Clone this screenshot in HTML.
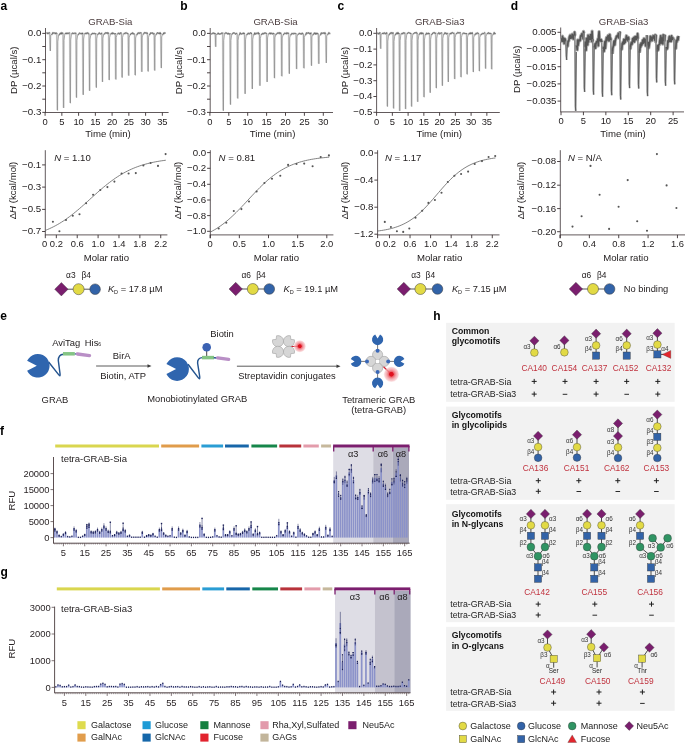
<!DOCTYPE html>
<html><head><meta charset="utf-8"><style>
html,body{margin:0;padding:0;background:#fff;}
svg{display:block;font-family:"Liberation Sans", sans-serif;will-change:transform;}
</style></head><body>
<svg width="685" height="744" viewBox="0 0 685 744">
<rect width="685" height="744" fill="#fff"/>
<line x1="45.50" y1="28.00" x2="45.50" y2="112.50" stroke="#3a3032" stroke-width="0.8" />
<line x1="45.10" y1="112.50" x2="168.60" y2="112.50" stroke="#3a3032" stroke-width="0.8" />
<line x1="42.30" y1="33.40" x2="45.50" y2="33.40" stroke="#3a3032" stroke-width="0.9" />
<text x="41.30" y="36.30" font-size="9.7" text-anchor="end" font-weight="normal" fill="#1f1b1c" font-style="normal" >0.0</text>
<line x1="42.30" y1="46.50" x2="45.50" y2="46.50" stroke="#3a3032" stroke-width="0.9" />
<line x1="42.30" y1="59.70" x2="45.50" y2="59.70" stroke="#3a3032" stroke-width="0.9" />
<text x="41.30" y="62.60" font-size="9.7" text-anchor="end" font-weight="normal" fill="#1f1b1c" font-style="normal" >−0.1</text>
<line x1="42.30" y1="72.80" x2="45.50" y2="72.80" stroke="#3a3032" stroke-width="0.9" />
<line x1="42.30" y1="86.00" x2="45.50" y2="86.00" stroke="#3a3032" stroke-width="0.9" />
<text x="41.30" y="88.90" font-size="9.7" text-anchor="end" font-weight="normal" fill="#1f1b1c" font-style="normal" >−0.2</text>
<line x1="42.30" y1="99.20" x2="45.50" y2="99.20" stroke="#3a3032" stroke-width="0.9" />
<line x1="42.30" y1="112.40" x2="45.50" y2="112.40" stroke="#3a3032" stroke-width="0.9" />
<text x="41.30" y="115.30" font-size="9.7" text-anchor="end" font-weight="normal" fill="#1f1b1c" font-style="normal" >−0.3</text>
<line x1="45.10" y1="112.50" x2="45.10" y2="115.80" stroke="#3a3032" stroke-width="0.9" />
<text x="45.10" y="124.50" font-size="9.4" text-anchor="middle" font-weight="normal" fill="#1f1b1c" font-style="normal" >0</text>
<line x1="61.85" y1="112.50" x2="61.85" y2="115.80" stroke="#3a3032" stroke-width="0.9" />
<text x="61.85" y="124.50" font-size="9.4" text-anchor="middle" font-weight="normal" fill="#1f1b1c" font-style="normal" >5</text>
<line x1="78.60" y1="112.50" x2="78.60" y2="115.80" stroke="#3a3032" stroke-width="0.9" />
<text x="78.60" y="124.50" font-size="9.4" text-anchor="middle" font-weight="normal" fill="#1f1b1c" font-style="normal" >10</text>
<line x1="95.35" y1="112.50" x2="95.35" y2="115.80" stroke="#3a3032" stroke-width="0.9" />
<text x="95.35" y="124.50" font-size="9.4" text-anchor="middle" font-weight="normal" fill="#1f1b1c" font-style="normal" >15</text>
<line x1="112.10" y1="112.50" x2="112.10" y2="115.80" stroke="#3a3032" stroke-width="0.9" />
<text x="112.10" y="124.50" font-size="9.4" text-anchor="middle" font-weight="normal" fill="#1f1b1c" font-style="normal" >20</text>
<line x1="128.85" y1="112.50" x2="128.85" y2="115.80" stroke="#3a3032" stroke-width="0.9" />
<text x="128.85" y="124.50" font-size="9.4" text-anchor="middle" font-weight="normal" fill="#1f1b1c" font-style="normal" >25</text>
<line x1="145.60" y1="112.50" x2="145.60" y2="115.80" stroke="#3a3032" stroke-width="0.9" />
<text x="145.60" y="124.50" font-size="9.4" text-anchor="middle" font-weight="normal" fill="#1f1b1c" font-style="normal" >30</text>
<line x1="162.35" y1="112.50" x2="162.35" y2="115.80" stroke="#3a3032" stroke-width="0.9" />
<text x="162.35" y="124.50" font-size="9.4" text-anchor="middle" font-weight="normal" fill="#1f1b1c" font-style="normal" >35</text>
<text x="110.30" y="25.10" font-size="9.6" text-anchor="middle" font-weight="normal" fill="#4a3c3e" font-style="normal" >GRAB-Sia</text>
<text x="108.05" y="136.80" font-size="9.6" text-anchor="middle" font-weight="normal" fill="#1f1b1c" font-style="normal" >Time (min)</text>
<text transform="translate(17.20,70.30) rotate(-90)" font-size="9.6" text-anchor="middle" fill="#1f1b1c">DP (µcal/s)</text>
<polyline points="49.30,33.41 49.70,50.70" fill="none" stroke="#cacaca" stroke-width="0.7" stroke-linejoin="round" />
<polyline points="56.40,34.07 56.80,110.10" fill="none" stroke="#cacaca" stroke-width="0.7" stroke-linejoin="round" />
<polyline points="62.60,32.83 63.00,107.70" fill="none" stroke="#cacaca" stroke-width="0.7" stroke-linejoin="round" />
<polyline points="69.30,32.74 69.70,102.90" fill="none" stroke="#cacaca" stroke-width="0.7" stroke-linejoin="round" />
<polyline points="75.50,33.84 75.90,97.40" fill="none" stroke="#cacaca" stroke-width="0.7" stroke-linejoin="round" />
<polyline points="82.20,32.83 82.60,94.60" fill="none" stroke="#cacaca" stroke-width="0.7" stroke-linejoin="round" />
<polyline points="88.60,33.51 89.00,90.60" fill="none" stroke="#cacaca" stroke-width="0.7" stroke-linejoin="round" />
<polyline points="95.30,33.36 95.70,87.40" fill="none" stroke="#cacaca" stroke-width="0.7" stroke-linejoin="round" />
<polyline points="101.50,33.23 101.90,81.70" fill="none" stroke="#cacaca" stroke-width="0.7" stroke-linejoin="round" />
<polyline points="108.20,33.02 108.60,79.80" fill="none" stroke="#cacaca" stroke-width="0.7" stroke-linejoin="round" />
<polyline points="114.80,33.07 115.20,79.20" fill="none" stroke="#cacaca" stroke-width="0.7" stroke-linejoin="round" />
<polyline points="121.10,33.00 121.50,77.30" fill="none" stroke="#cacaca" stroke-width="0.7" stroke-linejoin="round" />
<polyline points="127.70,33.69 128.10,75.40" fill="none" stroke="#cacaca" stroke-width="0.7" stroke-linejoin="round" />
<polyline points="134.20,33.85 134.60,75.00" fill="none" stroke="#cacaca" stroke-width="0.7" stroke-linejoin="round" />
<polyline points="140.80,33.16 141.20,71.60" fill="none" stroke="#cacaca" stroke-width="0.7" stroke-linejoin="round" />
<polyline points="147.10,33.57 147.50,71.20" fill="none" stroke="#cacaca" stroke-width="0.7" stroke-linejoin="round" />
<polyline points="153.70,33.38 154.10,70.30" fill="none" stroke="#cacaca" stroke-width="0.7" stroke-linejoin="round" />
<polyline points="160.30,33.44 160.70,67.80" fill="none" stroke="#cacaca" stroke-width="0.7" stroke-linejoin="round" />
<polyline points="49.90,33.41 50.30,50.70 50.50,51.00 50.75,35.14 51.50,34.81" fill="none" stroke="#858585" stroke-width="0.7" stroke-linejoin="round" />
<polyline points="57.00,34.07 57.40,110.10 57.60,110.40 57.85,41.67 58.60,35.47" fill="none" stroke="#858585" stroke-width="0.7" stroke-linejoin="round" />
<polyline points="63.20,32.83 63.60,107.70 63.80,108.00 64.05,40.31 64.80,34.23" fill="none" stroke="#858585" stroke-width="0.7" stroke-linejoin="round" />
<polyline points="69.90,32.74 70.30,102.90 70.50,103.20 70.75,39.76 71.50,34.14" fill="none" stroke="#858585" stroke-width="0.7" stroke-linejoin="round" />
<polyline points="76.10,33.84 76.50,97.40 76.70,97.70 76.95,40.20 77.70,35.24" fill="none" stroke="#858585" stroke-width="0.7" stroke-linejoin="round" />
<polyline points="82.80,32.83 83.20,94.60 83.40,94.90 83.65,39.00 84.40,34.23" fill="none" stroke="#858585" stroke-width="0.7" stroke-linejoin="round" />
<polyline points="89.20,33.51 89.60,90.60 89.80,90.90 90.05,39.22 90.80,34.91" fill="none" stroke="#858585" stroke-width="0.7" stroke-linejoin="round" />
<polyline points="95.90,33.36 96.30,87.40 96.50,87.70 96.75,38.77 97.50,34.76" fill="none" stroke="#858585" stroke-width="0.7" stroke-linejoin="round" />
<polyline points="102.10,33.23 102.50,81.70 102.70,82.00 102.95,38.08 103.70,34.63" fill="none" stroke="#858585" stroke-width="0.7" stroke-linejoin="round" />
<polyline points="108.80,33.02 109.20,79.80 109.40,80.10 109.65,37.70 110.40,34.42" fill="none" stroke="#858585" stroke-width="0.7" stroke-linejoin="round" />
<polyline points="115.40,33.07 115.80,79.20 116.00,79.50 116.25,37.68 117.00,34.47" fill="none" stroke="#858585" stroke-width="0.7" stroke-linejoin="round" />
<polyline points="121.70,33.00 122.10,77.30 122.30,77.60 122.55,37.43 123.30,34.40" fill="none" stroke="#858585" stroke-width="0.7" stroke-linejoin="round" />
<polyline points="128.30,33.69 128.70,75.40 128.90,75.70 129.15,37.86 129.90,35.09" fill="none" stroke="#858585" stroke-width="0.7" stroke-linejoin="round" />
<polyline points="134.80,33.85 135.20,75.00 135.40,75.30 135.65,37.96 136.40,35.25" fill="none" stroke="#858585" stroke-width="0.7" stroke-linejoin="round" />
<polyline points="141.40,33.16 141.80,71.60 142.00,71.90 142.25,37.00 143.00,34.56" fill="none" stroke="#858585" stroke-width="0.7" stroke-linejoin="round" />
<polyline points="147.70,33.57 148.10,71.20 148.30,71.50 148.55,37.33 149.30,34.97" fill="none" stroke="#858585" stroke-width="0.7" stroke-linejoin="round" />
<polyline points="154.30,33.38 154.70,70.30 154.90,70.60 155.15,37.07 155.90,34.78" fill="none" stroke="#858585" stroke-width="0.7" stroke-linejoin="round" />
<polyline points="160.90,33.44 161.30,67.80 161.50,68.10 161.75,36.88 162.50,34.84" fill="none" stroke="#858585" stroke-width="0.7" stroke-linejoin="round" />
<polyline points="46.50,33.14 47.00,32.88 47.50,33.63 48.00,32.76 48.50,33.45 49.00,33.20 49.50,32.74 49.80,33.41" fill="none" stroke="#bcbcbc" stroke-width="1.8" stroke-linejoin="round" />
<polyline points="51.50,34.81 52.30,33.91 52.80,32.71 53.30,33.30 53.80,32.75 54.30,32.79 54.80,33.29 55.30,33.89 55.80,32.84 56.30,32.98 56.80,33.59 56.90,34.07" fill="none" stroke="#bcbcbc" stroke-width="1.8" stroke-linejoin="round" />
<polyline points="58.60,35.47 59.40,34.57 59.90,33.52 60.40,33.25 60.90,34.11 61.40,32.72 61.90,33.94 62.40,33.08 62.90,32.87 63.10,32.83" fill="none" stroke="#bcbcbc" stroke-width="1.8" stroke-linejoin="round" />
<polyline points="64.80,34.23 65.60,33.33 66.10,33.11 66.60,33.87 67.10,32.92 67.60,33.52 68.10,33.61 68.60,33.21 69.10,33.47 69.60,32.74 69.80,32.74" fill="none" stroke="#bcbcbc" stroke-width="1.8" stroke-linejoin="round" />
<polyline points="71.50,34.14 72.30,33.24 72.80,32.96 73.30,33.67 73.80,33.29 74.30,33.12 74.80,33.53 75.30,33.33 75.80,33.10 76.00,33.84" fill="none" stroke="#bcbcbc" stroke-width="1.8" stroke-linejoin="round" />
<polyline points="77.70,35.24 78.50,34.34 79.00,33.70 79.50,33.02 80.00,33.51 80.50,33.44 81.00,33.96 81.50,33.74 82.00,33.08 82.50,34.12 82.70,32.83" fill="none" stroke="#bcbcbc" stroke-width="1.8" stroke-linejoin="round" />
<polyline points="84.40,34.23 85.20,33.33 85.70,33.28 86.20,33.79 86.70,32.88 87.20,33.38 87.70,32.71 88.20,33.65 88.70,33.80 89.10,33.51" fill="none" stroke="#bcbcbc" stroke-width="1.8" stroke-linejoin="round" />
<polyline points="90.80,34.91 91.60,34.01 92.10,33.96 92.60,33.12 93.10,33.69 93.60,33.54 94.10,33.52 94.60,33.33 95.10,33.91 95.60,34.07 95.80,33.36" fill="none" stroke="#bcbcbc" stroke-width="1.8" stroke-linejoin="round" />
<polyline points="97.50,34.76 98.30,33.86 98.80,33.65 99.30,32.74 99.80,33.70 100.30,33.62 100.80,34.14 101.30,33.88 101.80,33.08 102.00,33.23" fill="none" stroke="#bcbcbc" stroke-width="1.8" stroke-linejoin="round" />
<polyline points="103.70,34.63 104.50,33.73 105.00,33.65 105.50,32.68 106.00,33.34 106.50,32.90 107.00,32.83 107.50,32.74 108.00,33.80 108.50,32.84 108.70,33.02" fill="none" stroke="#bcbcbc" stroke-width="1.8" stroke-linejoin="round" />
<polyline points="110.40,34.42 111.20,33.52 111.70,33.24 112.20,33.96 112.70,32.77 113.20,33.32 113.70,33.47 114.20,33.98 114.70,33.88 115.20,33.95 115.30,33.07" fill="none" stroke="#bcbcbc" stroke-width="1.8" stroke-linejoin="round" />
<polyline points="117.00,34.47 117.80,33.57 118.30,33.27 118.80,33.19 119.30,33.98 119.80,34.09 120.30,32.88 120.80,32.91 121.30,33.00 121.60,33.00" fill="none" stroke="#bcbcbc" stroke-width="1.8" stroke-linejoin="round" />
<polyline points="123.30,34.40 124.10,33.50 124.60,33.38 125.10,33.53 125.60,33.04 126.10,32.66 126.60,33.28 127.10,33.20 127.60,33.50 128.10,34.08 128.20,33.69" fill="none" stroke="#bcbcbc" stroke-width="1.8" stroke-linejoin="round" />
<polyline points="129.90,35.09 130.70,34.19 131.20,33.42 131.70,33.58 132.20,33.66 132.70,32.73 133.20,34.00 133.70,33.82 134.20,33.96 134.70,33.85" fill="none" stroke="#bcbcbc" stroke-width="1.8" stroke-linejoin="round" />
<polyline points="136.40,35.25 137.20,34.35 137.70,33.24 138.20,33.25 138.70,32.81 139.20,33.60 139.70,32.74 140.20,32.75 140.70,32.96 141.20,32.89 141.30,33.16" fill="none" stroke="#bcbcbc" stroke-width="1.8" stroke-linejoin="round" />
<polyline points="143.00,34.56 143.80,33.66 144.30,32.73 144.80,32.65 145.30,32.88 145.80,32.80 146.30,33.20 146.80,32.69 147.30,33.96 147.60,33.57" fill="none" stroke="#bcbcbc" stroke-width="1.8" stroke-linejoin="round" />
<polyline points="149.30,34.97 150.10,34.07 150.60,32.87 151.10,33.03 151.60,33.17 152.10,33.20 152.60,32.83 153.10,33.92 153.60,34.14 154.10,33.35 154.20,33.38" fill="none" stroke="#bcbcbc" stroke-width="1.8" stroke-linejoin="round" />
<polyline points="155.90,34.78 156.70,33.88 157.20,32.78 157.70,32.80 158.20,33.16 158.70,33.05 159.20,33.89 159.70,32.89 160.20,32.68 160.70,34.08 160.80,33.44" fill="none" stroke="#bcbcbc" stroke-width="1.8" stroke-linejoin="round" />
<polyline points="162.50,34.84 163.30,33.94 163.80,32.87 164.30,33.46 164.80,32.69 165.30,33.44" fill="none" stroke="#bcbcbc" stroke-width="1.8" stroke-linejoin="round" />
<polyline points="46.50,33.14 47.00,32.88 47.50,33.63 48.00,32.76 48.50,33.45 49.00,33.20 49.50,32.74 49.80,33.41" fill="none" stroke="#5e5e5e" stroke-width="0.85" stroke-linejoin="round" />
<polyline points="51.50,34.81 52.30,33.91 52.80,32.71 53.30,33.30 53.80,32.75 54.30,32.79 54.80,33.29 55.30,33.89 55.80,32.84 56.30,32.98 56.80,33.59 56.90,34.07" fill="none" stroke="#5e5e5e" stroke-width="0.85" stroke-linejoin="round" />
<polyline points="58.60,35.47 59.40,34.57 59.90,33.52 60.40,33.25 60.90,34.11 61.40,32.72 61.90,33.94 62.40,33.08 62.90,32.87 63.10,32.83" fill="none" stroke="#5e5e5e" stroke-width="0.85" stroke-linejoin="round" />
<polyline points="64.80,34.23 65.60,33.33 66.10,33.11 66.60,33.87 67.10,32.92 67.60,33.52 68.10,33.61 68.60,33.21 69.10,33.47 69.60,32.74 69.80,32.74" fill="none" stroke="#5e5e5e" stroke-width="0.85" stroke-linejoin="round" />
<polyline points="71.50,34.14 72.30,33.24 72.80,32.96 73.30,33.67 73.80,33.29 74.30,33.12 74.80,33.53 75.30,33.33 75.80,33.10 76.00,33.84" fill="none" stroke="#5e5e5e" stroke-width="0.85" stroke-linejoin="round" />
<polyline points="77.70,35.24 78.50,34.34 79.00,33.70 79.50,33.02 80.00,33.51 80.50,33.44 81.00,33.96 81.50,33.74 82.00,33.08 82.50,34.12 82.70,32.83" fill="none" stroke="#5e5e5e" stroke-width="0.85" stroke-linejoin="round" />
<polyline points="84.40,34.23 85.20,33.33 85.70,33.28 86.20,33.79 86.70,32.88 87.20,33.38 87.70,32.71 88.20,33.65 88.70,33.80 89.10,33.51" fill="none" stroke="#5e5e5e" stroke-width="0.85" stroke-linejoin="round" />
<polyline points="90.80,34.91 91.60,34.01 92.10,33.96 92.60,33.12 93.10,33.69 93.60,33.54 94.10,33.52 94.60,33.33 95.10,33.91 95.60,34.07 95.80,33.36" fill="none" stroke="#5e5e5e" stroke-width="0.85" stroke-linejoin="round" />
<polyline points="97.50,34.76 98.30,33.86 98.80,33.65 99.30,32.74 99.80,33.70 100.30,33.62 100.80,34.14 101.30,33.88 101.80,33.08 102.00,33.23" fill="none" stroke="#5e5e5e" stroke-width="0.85" stroke-linejoin="round" />
<polyline points="103.70,34.63 104.50,33.73 105.00,33.65 105.50,32.68 106.00,33.34 106.50,32.90 107.00,32.83 107.50,32.74 108.00,33.80 108.50,32.84 108.70,33.02" fill="none" stroke="#5e5e5e" stroke-width="0.85" stroke-linejoin="round" />
<polyline points="110.40,34.42 111.20,33.52 111.70,33.24 112.20,33.96 112.70,32.77 113.20,33.32 113.70,33.47 114.20,33.98 114.70,33.88 115.20,33.95 115.30,33.07" fill="none" stroke="#5e5e5e" stroke-width="0.85" stroke-linejoin="round" />
<polyline points="117.00,34.47 117.80,33.57 118.30,33.27 118.80,33.19 119.30,33.98 119.80,34.09 120.30,32.88 120.80,32.91 121.30,33.00 121.60,33.00" fill="none" stroke="#5e5e5e" stroke-width="0.85" stroke-linejoin="round" />
<polyline points="123.30,34.40 124.10,33.50 124.60,33.38 125.10,33.53 125.60,33.04 126.10,32.66 126.60,33.28 127.10,33.20 127.60,33.50 128.10,34.08 128.20,33.69" fill="none" stroke="#5e5e5e" stroke-width="0.85" stroke-linejoin="round" />
<polyline points="129.90,35.09 130.70,34.19 131.20,33.42 131.70,33.58 132.20,33.66 132.70,32.73 133.20,34.00 133.70,33.82 134.20,33.96 134.70,33.85" fill="none" stroke="#5e5e5e" stroke-width="0.85" stroke-linejoin="round" />
<polyline points="136.40,35.25 137.20,34.35 137.70,33.24 138.20,33.25 138.70,32.81 139.20,33.60 139.70,32.74 140.20,32.75 140.70,32.96 141.20,32.89 141.30,33.16" fill="none" stroke="#5e5e5e" stroke-width="0.85" stroke-linejoin="round" />
<polyline points="143.00,34.56 143.80,33.66 144.30,32.73 144.80,32.65 145.30,32.88 145.80,32.80 146.30,33.20 146.80,32.69 147.30,33.96 147.60,33.57" fill="none" stroke="#5e5e5e" stroke-width="0.85" stroke-linejoin="round" />
<polyline points="149.30,34.97 150.10,34.07 150.60,32.87 151.10,33.03 151.60,33.17 152.10,33.20 152.60,32.83 153.10,33.92 153.60,34.14 154.10,33.35 154.20,33.38" fill="none" stroke="#5e5e5e" stroke-width="0.85" stroke-linejoin="round" />
<polyline points="155.90,34.78 156.70,33.88 157.20,32.78 157.70,32.80 158.20,33.16 158.70,33.05 159.20,33.89 159.70,32.89 160.20,32.68 160.70,34.08 160.80,33.44" fill="none" stroke="#5e5e5e" stroke-width="0.85" stroke-linejoin="round" />
<polyline points="162.50,34.84 163.30,33.94 163.80,32.87 164.30,33.46 164.80,32.69 165.30,33.44" fill="none" stroke="#5e5e5e" stroke-width="0.85" stroke-linejoin="round" />
<line x1="210.20" y1="28.00" x2="210.20" y2="112.50" stroke="#3a3032" stroke-width="0.8" />
<line x1="209.80" y1="112.50" x2="333.00" y2="112.50" stroke="#3a3032" stroke-width="0.8" />
<line x1="207.00" y1="33.40" x2="210.20" y2="33.40" stroke="#3a3032" stroke-width="0.9" />
<text x="206.00" y="36.30" font-size="9.7" text-anchor="end" font-weight="normal" fill="#1f1b1c" font-style="normal" >0.0</text>
<line x1="207.00" y1="46.50" x2="210.20" y2="46.50" stroke="#3a3032" stroke-width="0.9" />
<line x1="207.00" y1="59.70" x2="210.20" y2="59.70" stroke="#3a3032" stroke-width="0.9" />
<text x="206.00" y="62.60" font-size="9.7" text-anchor="end" font-weight="normal" fill="#1f1b1c" font-style="normal" >−0.1</text>
<line x1="207.00" y1="72.80" x2="210.20" y2="72.80" stroke="#3a3032" stroke-width="0.9" />
<line x1="207.00" y1="86.00" x2="210.20" y2="86.00" stroke="#3a3032" stroke-width="0.9" />
<text x="206.00" y="88.90" font-size="9.7" text-anchor="end" font-weight="normal" fill="#1f1b1c" font-style="normal" >−0.2</text>
<line x1="207.00" y1="99.20" x2="210.20" y2="99.20" stroke="#3a3032" stroke-width="0.9" />
<line x1="207.00" y1="112.40" x2="210.20" y2="112.40" stroke="#3a3032" stroke-width="0.9" />
<text x="206.00" y="115.30" font-size="9.7" text-anchor="end" font-weight="normal" fill="#1f1b1c" font-style="normal" >−0.3</text>
<line x1="209.90" y1="112.50" x2="209.90" y2="115.80" stroke="#3a3032" stroke-width="0.9" />
<text x="209.90" y="124.50" font-size="9.4" text-anchor="middle" font-weight="normal" fill="#1f1b1c" font-style="normal" >0</text>
<line x1="228.80" y1="112.50" x2="228.80" y2="115.80" stroke="#3a3032" stroke-width="0.9" />
<text x="228.80" y="124.50" font-size="9.4" text-anchor="middle" font-weight="normal" fill="#1f1b1c" font-style="normal" >5</text>
<line x1="247.70" y1="112.50" x2="247.70" y2="115.80" stroke="#3a3032" stroke-width="0.9" />
<text x="247.70" y="124.50" font-size="9.4" text-anchor="middle" font-weight="normal" fill="#1f1b1c" font-style="normal" >10</text>
<line x1="266.60" y1="112.50" x2="266.60" y2="115.80" stroke="#3a3032" stroke-width="0.9" />
<text x="266.60" y="124.50" font-size="9.4" text-anchor="middle" font-weight="normal" fill="#1f1b1c" font-style="normal" >15</text>
<line x1="285.50" y1="112.50" x2="285.50" y2="115.80" stroke="#3a3032" stroke-width="0.9" />
<text x="285.50" y="124.50" font-size="9.4" text-anchor="middle" font-weight="normal" fill="#1f1b1c" font-style="normal" >20</text>
<line x1="304.40" y1="112.50" x2="304.40" y2="115.80" stroke="#3a3032" stroke-width="0.9" />
<text x="304.40" y="124.50" font-size="9.4" text-anchor="middle" font-weight="normal" fill="#1f1b1c" font-style="normal" >25</text>
<line x1="323.30" y1="112.50" x2="323.30" y2="115.80" stroke="#3a3032" stroke-width="0.9" />
<text x="323.30" y="124.50" font-size="9.4" text-anchor="middle" font-weight="normal" fill="#1f1b1c" font-style="normal" >30</text>
<text x="275.50" y="25.10" font-size="9.6" text-anchor="middle" font-weight="normal" fill="#4a3c3e" font-style="normal" >GRAB-Sia</text>
<text x="272.60" y="136.80" font-size="9.6" text-anchor="middle" font-weight="normal" fill="#1f1b1c" font-style="normal" >Time (min)</text>
<text transform="translate(182.00,70.50) rotate(-90)" font-size="9.6" text-anchor="middle" fill="#1f1b1c">DP (µcal/s)</text>
<polyline points="214.70,33.14 215.10,46.60" fill="none" stroke="#cacaca" stroke-width="0.7" stroke-linejoin="round" />
<polyline points="222.30,32.69 222.70,110.50" fill="none" stroke="#cacaca" stroke-width="0.7" stroke-linejoin="round" />
<polyline points="229.50,33.20 229.90,104.40" fill="none" stroke="#cacaca" stroke-width="0.7" stroke-linejoin="round" />
<polyline points="236.70,33.85 237.10,98.20" fill="none" stroke="#cacaca" stroke-width="0.7" stroke-linejoin="round" />
<polyline points="244.10,33.85 244.50,93.60" fill="none" stroke="#cacaca" stroke-width="0.7" stroke-linejoin="round" />
<polyline points="251.30,33.86 251.70,88.70" fill="none" stroke="#cacaca" stroke-width="0.7" stroke-linejoin="round" />
<polyline points="258.90,33.44 259.30,85.50" fill="none" stroke="#cacaca" stroke-width="0.7" stroke-linejoin="round" />
<polyline points="266.10,33.04 266.50,81.70" fill="none" stroke="#cacaca" stroke-width="0.7" stroke-linejoin="round" />
<polyline points="273.50,33.40 273.90,77.90" fill="none" stroke="#cacaca" stroke-width="0.7" stroke-linejoin="round" />
<polyline points="280.80,33.74 281.20,76.00" fill="none" stroke="#cacaca" stroke-width="0.7" stroke-linejoin="round" />
<polyline points="288.30,33.81 288.70,73.50" fill="none" stroke="#cacaca" stroke-width="0.7" stroke-linejoin="round" />
<polyline points="295.60,33.33 296.00,68.80" fill="none" stroke="#cacaca" stroke-width="0.7" stroke-linejoin="round" />
<polyline points="302.90,33.91 303.30,68.00" fill="none" stroke="#cacaca" stroke-width="0.7" stroke-linejoin="round" />
<polyline points="310.50,33.72 310.90,65.50" fill="none" stroke="#cacaca" stroke-width="0.7" stroke-linejoin="round" />
<polyline points="317.80,33.90 318.20,63.60" fill="none" stroke="#cacaca" stroke-width="0.7" stroke-linejoin="round" />
<polyline points="325.30,33.31 325.70,62.70" fill="none" stroke="#cacaca" stroke-width="0.7" stroke-linejoin="round" />
<polyline points="215.30,33.14 215.70,46.60 215.90,46.90 216.15,34.49 216.90,34.54" fill="none" stroke="#858585" stroke-width="0.7" stroke-linejoin="round" />
<polyline points="222.90,32.69 223.30,110.50 223.50,110.80 223.75,40.47 224.50,34.09" fill="none" stroke="#858585" stroke-width="0.7" stroke-linejoin="round" />
<polyline points="230.10,33.20 230.50,104.40 230.70,104.70 230.95,40.32 231.70,34.60" fill="none" stroke="#858585" stroke-width="0.7" stroke-linejoin="round" />
<polyline points="237.30,33.85 237.70,98.20 237.90,98.50 238.15,40.28 238.90,35.25" fill="none" stroke="#858585" stroke-width="0.7" stroke-linejoin="round" />
<polyline points="244.70,33.85 245.10,93.60 245.30,93.90 245.55,39.83 246.30,35.25" fill="none" stroke="#858585" stroke-width="0.7" stroke-linejoin="round" />
<polyline points="251.90,33.86 252.30,88.70 252.50,89.00 252.75,39.34 253.50,35.26" fill="none" stroke="#858585" stroke-width="0.7" stroke-linejoin="round" />
<polyline points="259.50,33.44 259.90,85.50 260.10,85.80 260.35,38.65 261.10,34.84" fill="none" stroke="#858585" stroke-width="0.7" stroke-linejoin="round" />
<polyline points="266.70,33.04 267.10,81.70 267.30,82.00 267.55,37.91 268.30,34.44" fill="none" stroke="#858585" stroke-width="0.7" stroke-linejoin="round" />
<polyline points="274.10,33.40 274.50,77.90 274.70,78.20 274.95,37.85 275.70,34.80" fill="none" stroke="#858585" stroke-width="0.7" stroke-linejoin="round" />
<polyline points="281.40,33.74 281.80,76.00 282.00,76.30 282.25,37.96 283.00,35.14" fill="none" stroke="#858585" stroke-width="0.7" stroke-linejoin="round" />
<polyline points="288.90,33.81 289.30,73.50 289.50,73.80 289.75,37.78 290.50,35.21" fill="none" stroke="#858585" stroke-width="0.7" stroke-linejoin="round" />
<polyline points="296.20,33.33 296.60,68.80 296.80,69.10 297.05,36.88 297.80,34.73" fill="none" stroke="#858585" stroke-width="0.7" stroke-linejoin="round" />
<polyline points="303.50,33.91 303.90,68.00 304.10,68.30 304.35,37.32 305.10,35.31" fill="none" stroke="#858585" stroke-width="0.7" stroke-linejoin="round" />
<polyline points="311.10,33.72 311.50,65.50 311.70,65.80 311.95,36.90 312.70,35.12" fill="none" stroke="#858585" stroke-width="0.7" stroke-linejoin="round" />
<polyline points="318.40,33.90 318.80,63.60 319.00,63.90 319.25,36.87 320.00,35.30" fill="none" stroke="#858585" stroke-width="0.7" stroke-linejoin="round" />
<polyline points="325.90,33.31 326.30,62.70 326.50,63.00 326.75,36.25 327.50,34.71" fill="none" stroke="#858585" stroke-width="0.7" stroke-linejoin="round" />
<polyline points="211.20,34.12 211.70,33.94 212.20,33.69 212.70,33.04 213.20,33.20 213.70,32.90 214.20,33.81 214.70,33.45 215.20,33.82 215.20,33.14" fill="none" stroke="#bcbcbc" stroke-width="1.8" stroke-linejoin="round" />
<polyline points="216.90,34.54 217.70,33.64 218.20,32.98 218.70,33.87 219.20,34.13 219.70,33.93 220.20,33.86 220.70,33.88 221.20,33.76 221.70,32.99 222.20,33.43 222.70,33.18 222.80,32.69" fill="none" stroke="#bcbcbc" stroke-width="1.8" stroke-linejoin="round" />
<polyline points="224.50,34.09 225.30,33.19 225.80,32.69 226.30,33.07 226.80,33.04 227.30,33.69 227.80,34.08 228.30,33.32 228.80,34.06 229.30,34.13 229.80,34.08 230.00,33.20" fill="none" stroke="#bcbcbc" stroke-width="1.8" stroke-linejoin="round" />
<polyline points="231.70,34.60 232.50,33.70 233.00,32.98 233.50,32.99 234.00,32.95 234.50,32.96 235.00,33.59 235.50,34.00 236.00,33.91 236.50,33.37 237.00,33.63 237.20,33.85" fill="none" stroke="#bcbcbc" stroke-width="1.8" stroke-linejoin="round" />
<polyline points="238.90,35.25 239.70,34.35 240.20,32.78 240.70,33.64 241.20,34.01 241.70,33.82 242.20,33.78 242.70,33.37 243.20,32.92 243.70,33.83 244.20,33.15 244.60,33.85" fill="none" stroke="#bcbcbc" stroke-width="1.8" stroke-linejoin="round" />
<polyline points="246.30,35.25 247.10,34.35 247.60,34.11 248.10,33.24 248.60,33.25 249.10,34.07 249.60,33.74 250.10,32.91 250.60,32.84 251.10,32.88 251.60,34.01 251.80,33.86" fill="none" stroke="#bcbcbc" stroke-width="1.8" stroke-linejoin="round" />
<polyline points="253.50,35.26 254.30,34.36 254.80,32.87 255.30,33.89 255.80,34.12 256.30,33.64 256.80,33.18 257.30,33.47 257.80,32.85 258.30,32.67 258.80,34.11 259.30,33.62 259.40,33.44" fill="none" stroke="#bcbcbc" stroke-width="1.8" stroke-linejoin="round" />
<polyline points="261.10,34.84 261.90,33.94 262.40,34.05 262.90,33.30 263.40,33.96 263.90,33.89 264.40,32.97 264.90,33.03 265.40,33.09 265.90,33.01 266.40,33.53 266.60,33.04" fill="none" stroke="#bcbcbc" stroke-width="1.8" stroke-linejoin="round" />
<polyline points="268.30,34.44 269.10,33.54 269.60,33.28 270.10,32.85 270.60,34.02 271.10,33.18 271.60,33.34 272.10,33.53 272.60,34.01 273.10,33.28 273.60,34.03 274.00,33.40" fill="none" stroke="#bcbcbc" stroke-width="1.8" stroke-linejoin="round" />
<polyline points="275.70,34.80 276.50,33.90 277.00,33.45 277.50,33.44 278.00,32.68 278.50,33.31 279.00,32.92 279.50,32.66 280.00,33.85 280.50,32.91 281.00,33.36 281.30,33.74" fill="none" stroke="#bcbcbc" stroke-width="1.8" stroke-linejoin="round" />
<polyline points="283.00,35.14 283.80,34.24 284.30,33.48 284.80,33.14 285.30,33.43 285.80,33.48 286.30,33.83 286.80,32.81 287.30,33.49 287.80,33.02 288.30,33.07 288.80,33.81" fill="none" stroke="#bcbcbc" stroke-width="1.8" stroke-linejoin="round" />
<polyline points="290.50,35.21 291.30,34.31 291.80,33.41 292.30,33.49 292.80,33.79 293.30,34.02 293.80,33.31 294.30,33.57 294.80,33.41 295.30,33.42 295.80,33.69 296.10,33.33" fill="none" stroke="#bcbcbc" stroke-width="1.8" stroke-linejoin="round" />
<polyline points="297.80,34.73 298.60,33.83 299.10,33.45 299.60,33.37 300.10,34.06 300.60,33.70 301.10,33.96 301.60,34.06 302.10,33.04 302.60,33.49 303.10,34.06 303.40,33.91" fill="none" stroke="#bcbcbc" stroke-width="1.8" stroke-linejoin="round" />
<polyline points="305.10,35.31 305.90,34.41 306.40,32.86 306.90,32.83 307.40,33.31 307.90,32.76 308.40,33.01 308.90,32.76 309.40,33.65 309.90,33.83 310.40,34.00 310.90,32.88 311.00,33.72" fill="none" stroke="#bcbcbc" stroke-width="1.8" stroke-linejoin="round" />
<polyline points="312.70,35.12 313.50,34.22 314.00,33.64 314.50,32.86 315.00,33.97 315.50,34.10 316.00,32.98 316.50,34.08 317.00,33.25 317.50,33.38 318.00,34.13 318.30,33.90" fill="none" stroke="#bcbcbc" stroke-width="1.8" stroke-linejoin="round" />
<polyline points="320.00,35.30 320.80,34.40 321.30,32.89 321.80,33.30 322.30,33.42 322.80,33.16 323.30,32.94 323.80,33.13 324.30,33.73 324.80,32.68 325.30,33.48 325.80,33.31" fill="none" stroke="#bcbcbc" stroke-width="1.8" stroke-linejoin="round" />
<polyline points="327.50,34.71 328.30,33.81 328.80,32.68 329.30,33.15 329.80,33.59 330.30,33.42" fill="none" stroke="#bcbcbc" stroke-width="1.8" stroke-linejoin="round" />
<polyline points="211.20,34.12 211.70,33.94 212.20,33.69 212.70,33.04 213.20,33.20 213.70,32.90 214.20,33.81 214.70,33.45 215.20,33.82 215.20,33.14" fill="none" stroke="#5e5e5e" stroke-width="0.85" stroke-linejoin="round" />
<polyline points="216.90,34.54 217.70,33.64 218.20,32.98 218.70,33.87 219.20,34.13 219.70,33.93 220.20,33.86 220.70,33.88 221.20,33.76 221.70,32.99 222.20,33.43 222.70,33.18 222.80,32.69" fill="none" stroke="#5e5e5e" stroke-width="0.85" stroke-linejoin="round" />
<polyline points="224.50,34.09 225.30,33.19 225.80,32.69 226.30,33.07 226.80,33.04 227.30,33.69 227.80,34.08 228.30,33.32 228.80,34.06 229.30,34.13 229.80,34.08 230.00,33.20" fill="none" stroke="#5e5e5e" stroke-width="0.85" stroke-linejoin="round" />
<polyline points="231.70,34.60 232.50,33.70 233.00,32.98 233.50,32.99 234.00,32.95 234.50,32.96 235.00,33.59 235.50,34.00 236.00,33.91 236.50,33.37 237.00,33.63 237.20,33.85" fill="none" stroke="#5e5e5e" stroke-width="0.85" stroke-linejoin="round" />
<polyline points="238.90,35.25 239.70,34.35 240.20,32.78 240.70,33.64 241.20,34.01 241.70,33.82 242.20,33.78 242.70,33.37 243.20,32.92 243.70,33.83 244.20,33.15 244.60,33.85" fill="none" stroke="#5e5e5e" stroke-width="0.85" stroke-linejoin="round" />
<polyline points="246.30,35.25 247.10,34.35 247.60,34.11 248.10,33.24 248.60,33.25 249.10,34.07 249.60,33.74 250.10,32.91 250.60,32.84 251.10,32.88 251.60,34.01 251.80,33.86" fill="none" stroke="#5e5e5e" stroke-width="0.85" stroke-linejoin="round" />
<polyline points="253.50,35.26 254.30,34.36 254.80,32.87 255.30,33.89 255.80,34.12 256.30,33.64 256.80,33.18 257.30,33.47 257.80,32.85 258.30,32.67 258.80,34.11 259.30,33.62 259.40,33.44" fill="none" stroke="#5e5e5e" stroke-width="0.85" stroke-linejoin="round" />
<polyline points="261.10,34.84 261.90,33.94 262.40,34.05 262.90,33.30 263.40,33.96 263.90,33.89 264.40,32.97 264.90,33.03 265.40,33.09 265.90,33.01 266.40,33.53 266.60,33.04" fill="none" stroke="#5e5e5e" stroke-width="0.85" stroke-linejoin="round" />
<polyline points="268.30,34.44 269.10,33.54 269.60,33.28 270.10,32.85 270.60,34.02 271.10,33.18 271.60,33.34 272.10,33.53 272.60,34.01 273.10,33.28 273.60,34.03 274.00,33.40" fill="none" stroke="#5e5e5e" stroke-width="0.85" stroke-linejoin="round" />
<polyline points="275.70,34.80 276.50,33.90 277.00,33.45 277.50,33.44 278.00,32.68 278.50,33.31 279.00,32.92 279.50,32.66 280.00,33.85 280.50,32.91 281.00,33.36 281.30,33.74" fill="none" stroke="#5e5e5e" stroke-width="0.85" stroke-linejoin="round" />
<polyline points="283.00,35.14 283.80,34.24 284.30,33.48 284.80,33.14 285.30,33.43 285.80,33.48 286.30,33.83 286.80,32.81 287.30,33.49 287.80,33.02 288.30,33.07 288.80,33.81" fill="none" stroke="#5e5e5e" stroke-width="0.85" stroke-linejoin="round" />
<polyline points="290.50,35.21 291.30,34.31 291.80,33.41 292.30,33.49 292.80,33.79 293.30,34.02 293.80,33.31 294.30,33.57 294.80,33.41 295.30,33.42 295.80,33.69 296.10,33.33" fill="none" stroke="#5e5e5e" stroke-width="0.85" stroke-linejoin="round" />
<polyline points="297.80,34.73 298.60,33.83 299.10,33.45 299.60,33.37 300.10,34.06 300.60,33.70 301.10,33.96 301.60,34.06 302.10,33.04 302.60,33.49 303.10,34.06 303.40,33.91" fill="none" stroke="#5e5e5e" stroke-width="0.85" stroke-linejoin="round" />
<polyline points="305.10,35.31 305.90,34.41 306.40,32.86 306.90,32.83 307.40,33.31 307.90,32.76 308.40,33.01 308.90,32.76 309.40,33.65 309.90,33.83 310.40,34.00 310.90,32.88 311.00,33.72" fill="none" stroke="#5e5e5e" stroke-width="0.85" stroke-linejoin="round" />
<polyline points="312.70,35.12 313.50,34.22 314.00,33.64 314.50,32.86 315.00,33.97 315.50,34.10 316.00,32.98 316.50,34.08 317.00,33.25 317.50,33.38 318.00,34.13 318.30,33.90" fill="none" stroke="#5e5e5e" stroke-width="0.85" stroke-linejoin="round" />
<polyline points="320.00,35.30 320.80,34.40 321.30,32.89 321.80,33.30 322.30,33.42 322.80,33.16 323.30,32.94 323.80,33.13 324.30,33.73 324.80,32.68 325.30,33.48 325.80,33.31" fill="none" stroke="#5e5e5e" stroke-width="0.85" stroke-linejoin="round" />
<polyline points="327.50,34.71 328.30,33.81 328.80,32.68 329.30,33.15 329.80,33.59 330.30,33.42" fill="none" stroke="#5e5e5e" stroke-width="0.85" stroke-linejoin="round" />
<line x1="376.60" y1="28.00" x2="376.60" y2="112.50" stroke="#3a3032" stroke-width="0.8" />
<line x1="376.20" y1="112.50" x2="499.80" y2="112.50" stroke="#3a3032" stroke-width="0.8" />
<line x1="373.40" y1="33.30" x2="376.60" y2="33.30" stroke="#3a3032" stroke-width="0.9" />
<text x="372.40" y="36.20" font-size="9.7" text-anchor="end" font-weight="normal" fill="#1f1b1c" font-style="normal" >0.0</text>
<line x1="373.40" y1="49.10" x2="376.60" y2="49.10" stroke="#3a3032" stroke-width="0.9" />
<text x="372.40" y="52.00" font-size="9.7" text-anchor="end" font-weight="normal" fill="#1f1b1c" font-style="normal" >−0.1</text>
<line x1="373.40" y1="64.90" x2="376.60" y2="64.90" stroke="#3a3032" stroke-width="0.9" />
<text x="372.40" y="67.80" font-size="9.7" text-anchor="end" font-weight="normal" fill="#1f1b1c" font-style="normal" >−0.2</text>
<line x1="373.40" y1="80.70" x2="376.60" y2="80.70" stroke="#3a3032" stroke-width="0.9" />
<text x="372.40" y="83.60" font-size="9.7" text-anchor="end" font-weight="normal" fill="#1f1b1c" font-style="normal" >−0.3</text>
<line x1="373.40" y1="96.50" x2="376.60" y2="96.50" stroke="#3a3032" stroke-width="0.9" />
<text x="372.40" y="99.40" font-size="9.7" text-anchor="end" font-weight="normal" fill="#1f1b1c" font-style="normal" >−0.4</text>
<line x1="373.40" y1="112.30" x2="376.60" y2="112.30" stroke="#3a3032" stroke-width="0.9" />
<text x="372.40" y="115.20" font-size="9.7" text-anchor="end" font-weight="normal" fill="#1f1b1c" font-style="normal" >−0.5</text>
<line x1="376.60" y1="112.50" x2="376.60" y2="115.80" stroke="#3a3032" stroke-width="0.9" />
<text x="376.60" y="124.50" font-size="9.4" text-anchor="middle" font-weight="normal" fill="#1f1b1c" font-style="normal" >0</text>
<line x1="392.35" y1="112.50" x2="392.35" y2="115.80" stroke="#3a3032" stroke-width="0.9" />
<text x="392.35" y="124.50" font-size="9.4" text-anchor="middle" font-weight="normal" fill="#1f1b1c" font-style="normal" >5</text>
<line x1="408.10" y1="112.50" x2="408.10" y2="115.80" stroke="#3a3032" stroke-width="0.9" />
<text x="408.10" y="124.50" font-size="9.4" text-anchor="middle" font-weight="normal" fill="#1f1b1c" font-style="normal" >10</text>
<line x1="423.85" y1="112.50" x2="423.85" y2="115.80" stroke="#3a3032" stroke-width="0.9" />
<text x="423.85" y="124.50" font-size="9.4" text-anchor="middle" font-weight="normal" fill="#1f1b1c" font-style="normal" >15</text>
<line x1="439.60" y1="112.50" x2="439.60" y2="115.80" stroke="#3a3032" stroke-width="0.9" />
<text x="439.60" y="124.50" font-size="9.4" text-anchor="middle" font-weight="normal" fill="#1f1b1c" font-style="normal" >20</text>
<line x1="455.35" y1="112.50" x2="455.35" y2="115.80" stroke="#3a3032" stroke-width="0.9" />
<text x="455.35" y="124.50" font-size="9.4" text-anchor="middle" font-weight="normal" fill="#1f1b1c" font-style="normal" >25</text>
<line x1="471.10" y1="112.50" x2="471.10" y2="115.80" stroke="#3a3032" stroke-width="0.9" />
<text x="471.10" y="124.50" font-size="9.4" text-anchor="middle" font-weight="normal" fill="#1f1b1c" font-style="normal" >30</text>
<line x1="486.85" y1="112.50" x2="486.85" y2="115.80" stroke="#3a3032" stroke-width="0.9" />
<text x="486.85" y="124.50" font-size="9.4" text-anchor="middle" font-weight="normal" fill="#1f1b1c" font-style="normal" >35</text>
<text x="439.70" y="25.10" font-size="9.6" text-anchor="middle" font-weight="normal" fill="#4a3c3e" font-style="normal" >GRAB-Sia3</text>
<text x="439.20" y="136.80" font-size="9.6" text-anchor="middle" font-weight="normal" fill="#1f1b1c" font-style="normal" >Time (min)</text>
<text transform="translate(347.50,70.50) rotate(-90)" font-size="9.6" text-anchor="middle" fill="#1f1b1c">DP (µcal/s)</text>
<polyline points="379.70,32.61 380.10,48.50" fill="none" stroke="#cacaca" stroke-width="0.7" stroke-linejoin="round" />
<polyline points="386.40,33.93 386.80,106.30" fill="none" stroke="#cacaca" stroke-width="0.7" stroke-linejoin="round" />
<polyline points="392.60,33.96 393.00,108.20" fill="none" stroke="#cacaca" stroke-width="0.7" stroke-linejoin="round" />
<polyline points="398.70,33.06 399.10,110.70" fill="none" stroke="#cacaca" stroke-width="0.7" stroke-linejoin="round" />
<polyline points="404.60,32.71 405.00,108.80" fill="none" stroke="#cacaca" stroke-width="0.7" stroke-linejoin="round" />
<polyline points="410.60,32.98 411.00,106.30" fill="none" stroke="#cacaca" stroke-width="0.7" stroke-linejoin="round" />
<polyline points="416.70,33.38 417.10,101.60" fill="none" stroke="#cacaca" stroke-width="0.7" stroke-linejoin="round" />
<polyline points="423.00,33.80 423.40,96.90" fill="none" stroke="#cacaca" stroke-width="0.7" stroke-linejoin="round" />
<polyline points="429.20,33.50 429.60,92.50" fill="none" stroke="#cacaca" stroke-width="0.7" stroke-linejoin="round" />
<polyline points="435.30,32.79 435.70,87.90" fill="none" stroke="#cacaca" stroke-width="0.7" stroke-linejoin="round" />
<polyline points="441.40,33.24 441.80,85.50" fill="none" stroke="#cacaca" stroke-width="0.7" stroke-linejoin="round" />
<polyline points="447.30,32.92 447.70,81.70" fill="none" stroke="#cacaca" stroke-width="0.7" stroke-linejoin="round" />
<polyline points="453.70,32.85 454.10,78.80" fill="none" stroke="#cacaca" stroke-width="0.7" stroke-linejoin="round" />
<polyline points="460.00,33.01 460.40,76.90" fill="none" stroke="#cacaca" stroke-width="0.7" stroke-linejoin="round" />
<polyline points="466.10,33.13 466.50,74.10" fill="none" stroke="#cacaca" stroke-width="0.7" stroke-linejoin="round" />
<polyline points="472.30,33.89 472.70,71.80" fill="none" stroke="#cacaca" stroke-width="0.7" stroke-linejoin="round" />
<polyline points="478.40,33.76 478.80,70.90" fill="none" stroke="#cacaca" stroke-width="0.7" stroke-linejoin="round" />
<polyline points="484.60,32.75 485.00,68.40" fill="none" stroke="#cacaca" stroke-width="0.7" stroke-linejoin="round" />
<polyline points="490.70,33.28 491.10,69.00" fill="none" stroke="#cacaca" stroke-width="0.7" stroke-linejoin="round" />
<polyline points="380.30,32.61 380.70,48.50 380.90,48.80 381.15,34.20 381.90,34.01" fill="none" stroke="#858585" stroke-width="0.7" stroke-linejoin="round" />
<polyline points="387.00,33.93 387.40,106.30 387.60,106.60 387.85,41.17 388.60,35.33" fill="none" stroke="#858585" stroke-width="0.7" stroke-linejoin="round" />
<polyline points="393.20,33.96 393.60,108.20 393.80,108.50 394.05,41.38 394.80,35.36" fill="none" stroke="#858585" stroke-width="0.7" stroke-linejoin="round" />
<polyline points="399.30,33.06 399.70,110.70 399.90,111.00 400.15,40.82 400.90,34.46" fill="none" stroke="#858585" stroke-width="0.7" stroke-linejoin="round" />
<polyline points="405.20,32.71 405.60,108.80 405.80,109.10 406.05,40.32 406.80,34.11" fill="none" stroke="#858585" stroke-width="0.7" stroke-linejoin="round" />
<polyline points="411.20,32.98 411.60,106.30 411.80,106.60 412.05,40.32 412.80,34.38" fill="none" stroke="#858585" stroke-width="0.7" stroke-linejoin="round" />
<polyline points="417.30,33.38 417.70,101.60 417.90,101.90 418.15,40.20 418.90,34.78" fill="none" stroke="#858585" stroke-width="0.7" stroke-linejoin="round" />
<polyline points="423.60,33.80 424.00,96.90 424.20,97.20 424.45,40.11 425.20,35.20" fill="none" stroke="#858585" stroke-width="0.7" stroke-linejoin="round" />
<polyline points="429.80,33.50 430.20,92.50 430.40,92.80 430.65,39.40 431.40,34.90" fill="none" stroke="#858585" stroke-width="0.7" stroke-linejoin="round" />
<polyline points="435.90,32.79 436.30,87.90 436.50,88.20 436.75,38.31 437.50,34.19" fill="none" stroke="#858585" stroke-width="0.7" stroke-linejoin="round" />
<polyline points="442.00,33.24 442.40,85.50 442.60,85.80 442.85,38.47 443.60,34.64" fill="none" stroke="#858585" stroke-width="0.7" stroke-linejoin="round" />
<polyline points="447.90,32.92 448.30,81.70 448.50,82.00 448.75,37.80 449.50,34.32" fill="none" stroke="#858585" stroke-width="0.7" stroke-linejoin="round" />
<polyline points="454.30,32.85 454.70,78.80 454.90,79.10 455.15,37.45 455.90,34.25" fill="none" stroke="#858585" stroke-width="0.7" stroke-linejoin="round" />
<polyline points="460.60,33.01 461.00,76.90 461.20,77.20 461.45,37.40 462.20,34.41" fill="none" stroke="#858585" stroke-width="0.7" stroke-linejoin="round" />
<polyline points="466.70,33.13 467.10,74.10 467.30,74.40 467.55,37.23 468.30,34.53" fill="none" stroke="#858585" stroke-width="0.7" stroke-linejoin="round" />
<polyline points="472.90,33.89 473.30,71.80 473.50,72.10 473.75,37.68 474.50,35.29" fill="none" stroke="#858585" stroke-width="0.7" stroke-linejoin="round" />
<polyline points="479.00,33.76 479.40,70.90 479.60,71.20 479.85,37.47 480.60,35.16" fill="none" stroke="#858585" stroke-width="0.7" stroke-linejoin="round" />
<polyline points="485.20,32.75 485.60,68.40 485.80,68.70 486.05,36.31 486.80,34.15" fill="none" stroke="#858585" stroke-width="0.7" stroke-linejoin="round" />
<polyline points="491.30,33.28 491.70,69.00 491.90,69.30 492.15,36.86 492.90,34.68" fill="none" stroke="#858585" stroke-width="0.7" stroke-linejoin="round" />
<polyline points="377.60,32.65 378.10,34.03 378.60,33.73 379.10,34.01 379.60,32.71 380.10,32.95 380.20,32.61" fill="none" stroke="#bcbcbc" stroke-width="1.8" stroke-linejoin="round" />
<polyline points="381.90,34.01 382.70,33.11 383.20,33.72 383.70,32.96 384.20,32.74 384.70,33.18 385.20,33.92 385.70,33.78 386.20,32.94 386.70,32.77 386.90,33.93" fill="none" stroke="#bcbcbc" stroke-width="1.8" stroke-linejoin="round" />
<polyline points="388.60,35.33 389.40,34.43 389.90,33.41 390.40,33.60 390.90,32.68 391.40,32.64 391.90,33.58 392.40,33.19 392.90,32.66 393.10,33.96" fill="none" stroke="#bcbcbc" stroke-width="1.8" stroke-linejoin="round" />
<polyline points="394.80,35.36 395.60,34.46 396.10,33.50 396.60,33.75 397.10,32.68 397.60,33.83 398.10,32.65 398.60,33.84 399.10,33.23 399.20,33.06" fill="none" stroke="#bcbcbc" stroke-width="1.8" stroke-linejoin="round" />
<polyline points="400.90,34.46 401.70,33.56 402.20,33.38 402.70,33.94 403.20,32.95 403.70,32.74 404.20,33.34 404.70,32.91 405.10,32.71" fill="none" stroke="#bcbcbc" stroke-width="1.8" stroke-linejoin="round" />
<polyline points="406.80,34.11 407.60,33.21 408.10,32.79 408.60,32.63 409.10,32.85 409.60,33.02 410.10,33.01 410.60,33.69 411.10,32.98" fill="none" stroke="#bcbcbc" stroke-width="1.8" stroke-linejoin="round" />
<polyline points="412.80,34.38 413.60,33.48 414.10,33.30 414.60,32.82 415.10,33.07 415.60,32.58 416.10,32.93 416.60,32.57 417.10,33.65 417.20,33.38" fill="none" stroke="#bcbcbc" stroke-width="1.8" stroke-linejoin="round" />
<polyline points="418.90,34.78 419.70,33.88 420.20,32.83 420.70,33.26 421.20,33.95 421.70,32.71 422.20,33.78 422.70,33.20 423.20,33.29 423.50,33.80" fill="none" stroke="#bcbcbc" stroke-width="1.8" stroke-linejoin="round" />
<polyline points="425.20,35.20 426.00,34.30 426.50,33.14 427.00,33.31 427.50,33.58 428.00,34.02 428.50,33.06 429.00,33.80 429.50,33.61 429.70,33.50" fill="none" stroke="#bcbcbc" stroke-width="1.8" stroke-linejoin="round" />
<polyline points="431.40,34.90 432.20,34.00 432.70,33.16 433.20,33.07 433.70,32.63 434.20,32.74 434.70,32.66 435.20,33.66 435.70,32.93 435.80,32.79" fill="none" stroke="#bcbcbc" stroke-width="1.8" stroke-linejoin="round" />
<polyline points="437.50,34.19 438.30,33.29 438.80,32.68 439.30,33.81 439.80,33.86 440.30,33.56 440.80,32.97 441.30,32.91 441.80,32.99 441.90,33.24" fill="none" stroke="#bcbcbc" stroke-width="1.8" stroke-linejoin="round" />
<polyline points="443.60,34.64 444.40,33.74 444.90,32.79 445.40,33.22 445.90,32.94 446.40,33.99 446.90,34.01 447.40,33.37 447.80,32.92" fill="none" stroke="#bcbcbc" stroke-width="1.8" stroke-linejoin="round" />
<polyline points="449.50,34.32 450.30,33.42 450.80,34.00 451.30,33.01 451.80,33.08 452.30,32.55 452.80,33.12 453.30,33.26 453.80,33.30 454.20,32.85" fill="none" stroke="#bcbcbc" stroke-width="1.8" stroke-linejoin="round" />
<polyline points="455.90,34.25 456.70,33.35 457.20,33.31 457.70,32.56 458.20,32.95 458.70,32.68 459.20,33.15 459.70,32.61 460.20,32.58 460.50,33.01" fill="none" stroke="#bcbcbc" stroke-width="1.8" stroke-linejoin="round" />
<polyline points="462.20,34.41 463.00,33.51 463.50,32.90 464.00,33.43 464.50,33.34 465.00,33.68 465.50,33.54 466.00,33.62 466.50,33.87 466.60,33.13" fill="none" stroke="#bcbcbc" stroke-width="1.8" stroke-linejoin="round" />
<polyline points="468.30,34.53 469.10,33.63 469.60,33.04 470.10,34.03 470.60,32.77 471.10,33.64 471.60,33.51 472.10,32.62 472.60,33.80 472.80,33.89" fill="none" stroke="#bcbcbc" stroke-width="1.8" stroke-linejoin="round" />
<polyline points="474.50,35.29 475.30,34.39 475.80,33.49 476.30,33.65 476.80,33.77 477.30,32.76 477.80,33.34 478.30,33.31 478.80,33.80 478.90,33.76" fill="none" stroke="#bcbcbc" stroke-width="1.8" stroke-linejoin="round" />
<polyline points="480.60,35.16 481.40,34.26 481.90,33.79 482.40,33.43 482.90,33.89 483.40,33.57 483.90,33.59 484.40,32.89 484.90,32.60 485.10,32.75" fill="none" stroke="#bcbcbc" stroke-width="1.8" stroke-linejoin="round" />
<polyline points="486.80,34.15 487.60,33.25 488.10,33.09 488.60,32.71 489.10,33.80 489.60,33.39 490.10,33.49 490.60,33.49 491.10,33.57 491.20,33.28" fill="none" stroke="#bcbcbc" stroke-width="1.8" stroke-linejoin="round" />
<polyline points="492.90,34.68 493.70,33.78 494.20,32.55 494.70,33.75 495.20,33.67 495.70,33.30" fill="none" stroke="#bcbcbc" stroke-width="1.8" stroke-linejoin="round" />
<polyline points="377.60,32.65 378.10,34.03 378.60,33.73 379.10,34.01 379.60,32.71 380.10,32.95 380.20,32.61" fill="none" stroke="#5e5e5e" stroke-width="0.85" stroke-linejoin="round" />
<polyline points="381.90,34.01 382.70,33.11 383.20,33.72 383.70,32.96 384.20,32.74 384.70,33.18 385.20,33.92 385.70,33.78 386.20,32.94 386.70,32.77 386.90,33.93" fill="none" stroke="#5e5e5e" stroke-width="0.85" stroke-linejoin="round" />
<polyline points="388.60,35.33 389.40,34.43 389.90,33.41 390.40,33.60 390.90,32.68 391.40,32.64 391.90,33.58 392.40,33.19 392.90,32.66 393.10,33.96" fill="none" stroke="#5e5e5e" stroke-width="0.85" stroke-linejoin="round" />
<polyline points="394.80,35.36 395.60,34.46 396.10,33.50 396.60,33.75 397.10,32.68 397.60,33.83 398.10,32.65 398.60,33.84 399.10,33.23 399.20,33.06" fill="none" stroke="#5e5e5e" stroke-width="0.85" stroke-linejoin="round" />
<polyline points="400.90,34.46 401.70,33.56 402.20,33.38 402.70,33.94 403.20,32.95 403.70,32.74 404.20,33.34 404.70,32.91 405.10,32.71" fill="none" stroke="#5e5e5e" stroke-width="0.85" stroke-linejoin="round" />
<polyline points="406.80,34.11 407.60,33.21 408.10,32.79 408.60,32.63 409.10,32.85 409.60,33.02 410.10,33.01 410.60,33.69 411.10,32.98" fill="none" stroke="#5e5e5e" stroke-width="0.85" stroke-linejoin="round" />
<polyline points="412.80,34.38 413.60,33.48 414.10,33.30 414.60,32.82 415.10,33.07 415.60,32.58 416.10,32.93 416.60,32.57 417.10,33.65 417.20,33.38" fill="none" stroke="#5e5e5e" stroke-width="0.85" stroke-linejoin="round" />
<polyline points="418.90,34.78 419.70,33.88 420.20,32.83 420.70,33.26 421.20,33.95 421.70,32.71 422.20,33.78 422.70,33.20 423.20,33.29 423.50,33.80" fill="none" stroke="#5e5e5e" stroke-width="0.85" stroke-linejoin="round" />
<polyline points="425.20,35.20 426.00,34.30 426.50,33.14 427.00,33.31 427.50,33.58 428.00,34.02 428.50,33.06 429.00,33.80 429.50,33.61 429.70,33.50" fill="none" stroke="#5e5e5e" stroke-width="0.85" stroke-linejoin="round" />
<polyline points="431.40,34.90 432.20,34.00 432.70,33.16 433.20,33.07 433.70,32.63 434.20,32.74 434.70,32.66 435.20,33.66 435.70,32.93 435.80,32.79" fill="none" stroke="#5e5e5e" stroke-width="0.85" stroke-linejoin="round" />
<polyline points="437.50,34.19 438.30,33.29 438.80,32.68 439.30,33.81 439.80,33.86 440.30,33.56 440.80,32.97 441.30,32.91 441.80,32.99 441.90,33.24" fill="none" stroke="#5e5e5e" stroke-width="0.85" stroke-linejoin="round" />
<polyline points="443.60,34.64 444.40,33.74 444.90,32.79 445.40,33.22 445.90,32.94 446.40,33.99 446.90,34.01 447.40,33.37 447.80,32.92" fill="none" stroke="#5e5e5e" stroke-width="0.85" stroke-linejoin="round" />
<polyline points="449.50,34.32 450.30,33.42 450.80,34.00 451.30,33.01 451.80,33.08 452.30,32.55 452.80,33.12 453.30,33.26 453.80,33.30 454.20,32.85" fill="none" stroke="#5e5e5e" stroke-width="0.85" stroke-linejoin="round" />
<polyline points="455.90,34.25 456.70,33.35 457.20,33.31 457.70,32.56 458.20,32.95 458.70,32.68 459.20,33.15 459.70,32.61 460.20,32.58 460.50,33.01" fill="none" stroke="#5e5e5e" stroke-width="0.85" stroke-linejoin="round" />
<polyline points="462.20,34.41 463.00,33.51 463.50,32.90 464.00,33.43 464.50,33.34 465.00,33.68 465.50,33.54 466.00,33.62 466.50,33.87 466.60,33.13" fill="none" stroke="#5e5e5e" stroke-width="0.85" stroke-linejoin="round" />
<polyline points="468.30,34.53 469.10,33.63 469.60,33.04 470.10,34.03 470.60,32.77 471.10,33.64 471.60,33.51 472.10,32.62 472.60,33.80 472.80,33.89" fill="none" stroke="#5e5e5e" stroke-width="0.85" stroke-linejoin="round" />
<polyline points="474.50,35.29 475.30,34.39 475.80,33.49 476.30,33.65 476.80,33.77 477.30,32.76 477.80,33.34 478.30,33.31 478.80,33.80 478.90,33.76" fill="none" stroke="#5e5e5e" stroke-width="0.85" stroke-linejoin="round" />
<polyline points="480.60,35.16 481.40,34.26 481.90,33.79 482.40,33.43 482.90,33.89 483.40,33.57 483.90,33.59 484.40,32.89 484.90,32.60 485.10,32.75" fill="none" stroke="#5e5e5e" stroke-width="0.85" stroke-linejoin="round" />
<polyline points="486.80,34.15 487.60,33.25 488.10,33.09 488.60,32.71 489.10,33.80 489.60,33.39 490.10,33.49 490.60,33.49 491.10,33.57 491.20,33.28" fill="none" stroke="#5e5e5e" stroke-width="0.85" stroke-linejoin="round" />
<polyline points="492.90,34.68 493.70,33.78 494.20,32.55 494.70,33.75 495.20,33.67 495.70,33.30" fill="none" stroke="#5e5e5e" stroke-width="0.85" stroke-linejoin="round" />
<line x1="560.70" y1="27.50" x2="560.70" y2="111.90" stroke="#3a3032" stroke-width="0.8" />
<line x1="560.30" y1="111.90" x2="684.00" y2="111.90" stroke="#3a3032" stroke-width="0.8" />
<line x1="557.50" y1="32.30" x2="560.70" y2="32.30" stroke="#3a3032" stroke-width="0.9" />
<text x="556.50" y="35.20" font-size="9.7" text-anchor="end" font-weight="normal" fill="#1f1b1c" font-style="normal" >0.005</text>
<line x1="557.50" y1="49.50" x2="560.70" y2="49.50" stroke="#3a3032" stroke-width="0.9" />
<text x="556.50" y="52.40" font-size="9.7" text-anchor="end" font-weight="normal" fill="#1f1b1c" font-style="normal" >−0.005</text>
<line x1="557.50" y1="66.70" x2="560.70" y2="66.70" stroke="#3a3032" stroke-width="0.9" />
<text x="556.50" y="69.60" font-size="9.7" text-anchor="end" font-weight="normal" fill="#1f1b1c" font-style="normal" >−0.015</text>
<line x1="557.50" y1="83.90" x2="560.70" y2="83.90" stroke="#3a3032" stroke-width="0.9" />
<text x="556.50" y="86.80" font-size="9.7" text-anchor="end" font-weight="normal" fill="#1f1b1c" font-style="normal" >−0.025</text>
<line x1="557.50" y1="101.10" x2="560.70" y2="101.10" stroke="#3a3032" stroke-width="0.9" />
<text x="556.50" y="104.00" font-size="9.7" text-anchor="end" font-weight="normal" fill="#1f1b1c" font-style="normal" >−0.035</text>
<line x1="561.00" y1="111.90" x2="561.00" y2="115.20" stroke="#3a3032" stroke-width="0.9" />
<text x="561.00" y="123.90" font-size="9.4" text-anchor="middle" font-weight="normal" fill="#1f1b1c" font-style="normal" >0</text>
<line x1="583.42" y1="111.90" x2="583.42" y2="115.20" stroke="#3a3032" stroke-width="0.9" />
<text x="583.42" y="123.90" font-size="9.4" text-anchor="middle" font-weight="normal" fill="#1f1b1c" font-style="normal" >5</text>
<line x1="605.85" y1="111.90" x2="605.85" y2="115.20" stroke="#3a3032" stroke-width="0.9" />
<text x="605.85" y="123.90" font-size="9.4" text-anchor="middle" font-weight="normal" fill="#1f1b1c" font-style="normal" >10</text>
<line x1="628.27" y1="111.90" x2="628.27" y2="115.20" stroke="#3a3032" stroke-width="0.9" />
<text x="628.27" y="123.90" font-size="9.4" text-anchor="middle" font-weight="normal" fill="#1f1b1c" font-style="normal" >15</text>
<line x1="650.70" y1="111.90" x2="650.70" y2="115.20" stroke="#3a3032" stroke-width="0.9" />
<text x="650.70" y="123.90" font-size="9.4" text-anchor="middle" font-weight="normal" fill="#1f1b1c" font-style="normal" >20</text>
<line x1="673.12" y1="111.90" x2="673.12" y2="115.20" stroke="#3a3032" stroke-width="0.9" />
<text x="673.12" y="123.90" font-size="9.4" text-anchor="middle" font-weight="normal" fill="#1f1b1c" font-style="normal" >25</text>
<text x="623.60" y="25.10" font-size="9.6" text-anchor="middle" font-weight="normal" fill="#4a3c3e" font-style="normal" >GRAB-Sia3</text>
<text x="623.00" y="136.80" font-size="9.6" text-anchor="middle" font-weight="normal" fill="#1f1b1c" font-style="normal" >Time (min)</text>
<text transform="translate(520.0,69.3) rotate(-90)" font-size="9.6" text-anchor="middle" fill="#1f1b1c">DP (µcal/s)</text>
<polyline points="561.60,38.23 562.03,41.27 562.46,36.25 562.89,41.04 563.32,38.16 563.75,38.25 564.18,43.50 564.61,39.35 565.04,38.89 565.47,40.75 565.90,41.70" fill="none" stroke="#b0b0b0" stroke-width="3.4" stroke-linejoin="round" />
<polyline points="567.30,45.93 567.71,46.06 568.11,41.11 568.52,41.49 568.92,40.38 569.33,37.40 569.73,36.26 570.14,35.36 570.54,38.17 570.95,37.90 571.35,37.19 571.76,37.84 572.16,34.24 572.57,37.09 572.97,37.74 573.38,38.89 573.78,35.00 574.19,36.05 574.59,32.16 575.00,35.79" fill="none" stroke="#b0b0b0" stroke-width="3.4" stroke-linejoin="round" />
<polyline points="576.40,46.73 576.82,46.07 577.23,49.88 577.65,39.98 578.07,45.44 578.48,42.81 578.90,39.99 579.32,40.75 579.73,40.01 580.15,40.51 580.57,36.85 580.98,35.52 581.40,35.14 581.82,33.98 582.23,36.07 582.65,34.19 583.07,38.59 583.48,31.52 583.90,33.38" fill="none" stroke="#b0b0b0" stroke-width="3.4" stroke-linejoin="round" />
<polyline points="585.30,46.71 585.70,42.18 586.10,50.16 586.50,38.39 586.90,42.22 587.30,40.54 587.70,44.82 588.10,35.26 588.50,41.90 588.90,36.99 589.30,37.90 589.70,36.29 590.10,39.14 590.50,34.65 590.90,37.03 591.30,37.96 591.70,41.46 592.10,31.24 592.50,40.66 592.90,39.28" fill="none" stroke="#b0b0b0" stroke-width="3.4" stroke-linejoin="round" />
<polyline points="594.30,45.84 594.70,46.68 595.10,43.90 595.50,48.13 595.90,43.95 596.30,42.28 596.70,41.69 597.10,41.28 597.50,40.93 597.90,38.91 598.30,45.68 598.70,35.94 599.10,31.70 599.50,39.93 599.90,39.78 600.30,40.96 600.70,39.54 601.10,39.65 601.50,40.80 601.90,42.32" fill="none" stroke="#b0b0b0" stroke-width="3.4" stroke-linejoin="round" />
<polyline points="603.30,48.92 603.71,47.31 604.11,51.25 604.52,46.44 604.92,41.54 605.33,48.38 605.73,43.71 606.14,39.61 606.54,37.51 606.95,40.47 607.35,37.28 607.76,36.36 608.16,35.49 608.57,37.16 608.97,40.88 609.38,37.07 609.78,34.57 610.19,39.62 610.59,38.16 611.00,40.03" fill="none" stroke="#b0b0b0" stroke-width="3.4" stroke-linejoin="round" />
<polyline points="612.40,53.88 612.80,48.50 613.20,46.68 613.60,45.25 614.00,41.17 614.40,44.21 614.80,44.78 615.20,40.94 615.60,39.15 616.00,38.42 616.40,36.61 616.80,36.12 617.20,36.74 617.60,35.42 618.00,36.21 618.40,33.35 618.80,37.90 619.20,37.13 619.60,34.24 620.00,31.48" fill="none" stroke="#b0b0b0" stroke-width="3.4" stroke-linejoin="round" />
<polyline points="621.40,47.98 621.82,49.23 622.23,43.56 622.65,43.05 623.07,41.87 623.48,43.96 623.90,39.47 624.32,43.42 624.73,39.82 625.15,42.34 625.57,39.87 625.98,38.97 626.40,35.79 626.82,37.54 627.23,38.47 627.65,40.62 628.07,39.60 628.48,37.33 628.90,39.98" fill="none" stroke="#b0b0b0" stroke-width="3.4" stroke-linejoin="round" />
<polyline points="630.30,49.37 630.71,45.30 631.11,43.39 631.52,42.43 631.92,44.37 632.33,42.89 632.73,38.65 633.14,41.17 633.54,38.59 633.95,37.51 634.35,41.93 634.76,40.64 635.16,36.71 635.57,38.47 635.97,39.37 636.38,36.55 636.78,37.75 637.19,39.61 637.59,33.71 638.00,38.79" fill="none" stroke="#b0b0b0" stroke-width="3.4" stroke-linejoin="round" />
<polyline points="639.40,52.77 639.82,50.48 640.23,44.51 640.65,47.13 641.07,43.10 641.48,45.51 641.90,44.71 642.32,43.03 642.73,40.05 643.15,39.96 643.57,43.02 643.98,38.49 644.40,41.60 644.82,41.46 645.23,39.45 645.65,45.80 646.07,40.18 646.48,45.15 646.90,35.16" fill="none" stroke="#b0b0b0" stroke-width="3.4" stroke-linejoin="round" />
<polyline points="648.30,41.62 648.71,47.86 649.11,45.69 649.52,42.22 649.92,41.79 650.33,36.43 650.73,38.69 651.14,37.04 651.54,38.41 651.95,40.58 652.35,38.19 652.76,38.64 653.16,35.82 653.57,36.27 653.97,37.45 654.38,36.42 654.78,40.07 655.19,34.91 655.59,41.54 656.00,34.65" fill="none" stroke="#b0b0b0" stroke-width="3.4" stroke-linejoin="round" />
<polyline points="657.40,51.54 657.82,45.57 658.23,49.98 658.65,45.11 659.07,44.66 659.48,44.55 659.90,40.44 660.32,38.78 660.73,35.85 661.15,43.18 661.57,38.21 661.98,38.17 662.40,39.30 662.82,43.99 663.23,34.96 663.65,39.64 664.07,38.06 664.48,40.28 664.90,34.68" fill="none" stroke="#b0b0b0" stroke-width="3.4" stroke-linejoin="round" />
<polyline points="666.30,47.05 666.71,48.52 667.11,48.90 667.52,47.80 667.92,40.87 668.33,42.13 668.73,40.94 669.14,37.22 669.54,36.48 669.95,41.27 670.35,39.65 670.76,38.40 671.16,41.42 671.57,35.91 671.97,39.45 672.38,38.12 672.78,37.90 673.19,39.19 673.59,38.42 674.00,38.64" fill="none" stroke="#b0b0b0" stroke-width="3.4" stroke-linejoin="round" />
<polyline points="675.40,47.64 675.84,48.32 676.29,40.53 676.73,42.11 677.17,40.17 677.61,37.37 678.06,39.94 678.50,35.94" fill="none" stroke="#b0b0b0" stroke-width="3.4" stroke-linejoin="round" />
<polyline points="561.60,38.23 562.03,41.27 562.46,36.25 562.89,41.04 563.32,38.16 563.75,38.25 564.18,43.50 564.61,39.35 565.04,38.89 565.47,40.75 565.90,41.70" fill="none" stroke="#555555" stroke-width="1.7" stroke-linejoin="round" stroke-linejoin="miter"/>
<polyline points="567.30,45.93 567.71,46.06 568.11,41.11 568.52,41.49 568.92,40.38 569.33,37.40 569.73,36.26 570.14,35.36 570.54,38.17 570.95,37.90 571.35,37.19 571.76,37.84 572.16,34.24 572.57,37.09 572.97,37.74 573.38,38.89 573.78,35.00 574.19,36.05 574.59,32.16 575.00,35.79" fill="none" stroke="#555555" stroke-width="1.7" stroke-linejoin="round" stroke-linejoin="miter"/>
<polyline points="576.40,46.73 576.82,46.07 577.23,49.88 577.65,39.98 578.07,45.44 578.48,42.81 578.90,39.99 579.32,40.75 579.73,40.01 580.15,40.51 580.57,36.85 580.98,35.52 581.40,35.14 581.82,33.98 582.23,36.07 582.65,34.19 583.07,38.59 583.48,31.52 583.90,33.38" fill="none" stroke="#555555" stroke-width="1.7" stroke-linejoin="round" stroke-linejoin="miter"/>
<polyline points="585.30,46.71 585.70,42.18 586.10,50.16 586.50,38.39 586.90,42.22 587.30,40.54 587.70,44.82 588.10,35.26 588.50,41.90 588.90,36.99 589.30,37.90 589.70,36.29 590.10,39.14 590.50,34.65 590.90,37.03 591.30,37.96 591.70,41.46 592.10,31.24 592.50,40.66 592.90,39.28" fill="none" stroke="#555555" stroke-width="1.7" stroke-linejoin="round" stroke-linejoin="miter"/>
<polyline points="594.30,45.84 594.70,46.68 595.10,43.90 595.50,48.13 595.90,43.95 596.30,42.28 596.70,41.69 597.10,41.28 597.50,40.93 597.90,38.91 598.30,45.68 598.70,35.94 599.10,31.70 599.50,39.93 599.90,39.78 600.30,40.96 600.70,39.54 601.10,39.65 601.50,40.80 601.90,42.32" fill="none" stroke="#555555" stroke-width="1.7" stroke-linejoin="round" stroke-linejoin="miter"/>
<polyline points="603.30,48.92 603.71,47.31 604.11,51.25 604.52,46.44 604.92,41.54 605.33,48.38 605.73,43.71 606.14,39.61 606.54,37.51 606.95,40.47 607.35,37.28 607.76,36.36 608.16,35.49 608.57,37.16 608.97,40.88 609.38,37.07 609.78,34.57 610.19,39.62 610.59,38.16 611.00,40.03" fill="none" stroke="#555555" stroke-width="1.7" stroke-linejoin="round" stroke-linejoin="miter"/>
<polyline points="612.40,53.88 612.80,48.50 613.20,46.68 613.60,45.25 614.00,41.17 614.40,44.21 614.80,44.78 615.20,40.94 615.60,39.15 616.00,38.42 616.40,36.61 616.80,36.12 617.20,36.74 617.60,35.42 618.00,36.21 618.40,33.35 618.80,37.90 619.20,37.13 619.60,34.24 620.00,31.48" fill="none" stroke="#555555" stroke-width="1.7" stroke-linejoin="round" stroke-linejoin="miter"/>
<polyline points="621.40,47.98 621.82,49.23 622.23,43.56 622.65,43.05 623.07,41.87 623.48,43.96 623.90,39.47 624.32,43.42 624.73,39.82 625.15,42.34 625.57,39.87 625.98,38.97 626.40,35.79 626.82,37.54 627.23,38.47 627.65,40.62 628.07,39.60 628.48,37.33 628.90,39.98" fill="none" stroke="#555555" stroke-width="1.7" stroke-linejoin="round" stroke-linejoin="miter"/>
<polyline points="630.30,49.37 630.71,45.30 631.11,43.39 631.52,42.43 631.92,44.37 632.33,42.89 632.73,38.65 633.14,41.17 633.54,38.59 633.95,37.51 634.35,41.93 634.76,40.64 635.16,36.71 635.57,38.47 635.97,39.37 636.38,36.55 636.78,37.75 637.19,39.61 637.59,33.71 638.00,38.79" fill="none" stroke="#555555" stroke-width="1.7" stroke-linejoin="round" stroke-linejoin="miter"/>
<polyline points="639.40,52.77 639.82,50.48 640.23,44.51 640.65,47.13 641.07,43.10 641.48,45.51 641.90,44.71 642.32,43.03 642.73,40.05 643.15,39.96 643.57,43.02 643.98,38.49 644.40,41.60 644.82,41.46 645.23,39.45 645.65,45.80 646.07,40.18 646.48,45.15 646.90,35.16" fill="none" stroke="#555555" stroke-width="1.7" stroke-linejoin="round" stroke-linejoin="miter"/>
<polyline points="648.30,41.62 648.71,47.86 649.11,45.69 649.52,42.22 649.92,41.79 650.33,36.43 650.73,38.69 651.14,37.04 651.54,38.41 651.95,40.58 652.35,38.19 652.76,38.64 653.16,35.82 653.57,36.27 653.97,37.45 654.38,36.42 654.78,40.07 655.19,34.91 655.59,41.54 656.00,34.65" fill="none" stroke="#555555" stroke-width="1.7" stroke-linejoin="round" stroke-linejoin="miter"/>
<polyline points="657.40,51.54 657.82,45.57 658.23,49.98 658.65,45.11 659.07,44.66 659.48,44.55 659.90,40.44 660.32,38.78 660.73,35.85 661.15,43.18 661.57,38.21 661.98,38.17 662.40,39.30 662.82,43.99 663.23,34.96 663.65,39.64 664.07,38.06 664.48,40.28 664.90,34.68" fill="none" stroke="#555555" stroke-width="1.7" stroke-linejoin="round" stroke-linejoin="miter"/>
<polyline points="666.30,47.05 666.71,48.52 667.11,48.90 667.52,47.80 667.92,40.87 668.33,42.13 668.73,40.94 669.14,37.22 669.54,36.48 669.95,41.27 670.35,39.65 670.76,38.40 671.16,41.42 671.57,35.91 671.97,39.45 672.38,38.12 672.78,37.90 673.19,39.19 673.59,38.42 674.00,38.64" fill="none" stroke="#555555" stroke-width="1.7" stroke-linejoin="round" stroke-linejoin="miter"/>
<polyline points="675.40,47.64 675.84,48.32 676.29,40.53 676.73,42.11 677.17,40.17 677.61,37.37 678.06,39.94 678.50,35.94" fill="none" stroke="#555555" stroke-width="1.7" stroke-linejoin="round" stroke-linejoin="miter"/>
<polyline points="565.40,41.70 565.80,56.00 566.25,60.00 566.80,46.00" fill="none" stroke="#b8b8b8" stroke-width="0.9" stroke-linejoin="round" />
<polyline points="565.90,41.70 566.30,56.00 566.75,60.00 567.30,46.00" fill="none" stroke="#5a5a5a" stroke-width="0.95" stroke-linejoin="round" />
<polyline points="574.50,35.79 574.90,106.90 575.35,110.90 575.90,52.00" fill="none" stroke="#b8b8b8" stroke-width="0.9" stroke-linejoin="round" />
<polyline points="575.00,35.79 575.40,106.90 575.85,110.90 576.40,52.00" fill="none" stroke="#5a5a5a" stroke-width="0.95" stroke-linejoin="round" />
<polyline points="583.40,33.38 583.80,87.90 584.25,91.90 584.80,49.00" fill="none" stroke="#b8b8b8" stroke-width="0.9" stroke-linejoin="round" />
<polyline points="583.90,33.38 584.30,87.90 584.75,91.90 585.30,49.00" fill="none" stroke="#5a5a5a" stroke-width="0.95" stroke-linejoin="round" />
<polyline points="592.40,39.28 592.80,90.60 593.25,94.60 593.80,47.00" fill="none" stroke="#b8b8b8" stroke-width="0.9" stroke-linejoin="round" />
<polyline points="592.90,39.28 593.30,90.60 593.75,94.60 594.30,47.00" fill="none" stroke="#5a5a5a" stroke-width="0.95" stroke-linejoin="round" />
<polyline points="601.40,42.32 601.80,92.70 602.25,96.70 602.80,50.00" fill="none" stroke="#b8b8b8" stroke-width="0.9" stroke-linejoin="round" />
<polyline points="601.90,42.32 602.30,92.70 602.75,96.70 603.30,50.00" fill="none" stroke="#5a5a5a" stroke-width="0.95" stroke-linejoin="round" />
<polyline points="610.50,40.03 610.90,91.20 611.35,95.20 611.90,51.00" fill="none" stroke="#b8b8b8" stroke-width="0.9" stroke-linejoin="round" />
<polyline points="611.00,40.03 611.40,91.20 611.85,95.20 612.40,51.00" fill="none" stroke="#5a5a5a" stroke-width="0.95" stroke-linejoin="round" />
<polyline points="619.50,31.48 619.90,95.50 620.35,99.50 620.90,48.00" fill="none" stroke="#b8b8b8" stroke-width="0.9" stroke-linejoin="round" />
<polyline points="620.00,31.48 620.40,95.50 620.85,99.50 621.40,48.00" fill="none" stroke="#5a5a5a" stroke-width="0.95" stroke-linejoin="round" />
<polyline points="628.40,39.98 628.80,84.10 629.25,88.10 629.80,47.00" fill="none" stroke="#b8b8b8" stroke-width="0.9" stroke-linejoin="round" />
<polyline points="628.90,39.98 629.30,84.10 629.75,88.10 630.30,47.00" fill="none" stroke="#5a5a5a" stroke-width="0.95" stroke-linejoin="round" />
<polyline points="637.50,38.79 637.90,84.50 638.35,88.50 638.90,51.00" fill="none" stroke="#b8b8b8" stroke-width="0.9" stroke-linejoin="round" />
<polyline points="638.00,38.79 638.40,84.50 638.85,88.50 639.40,51.00" fill="none" stroke="#5a5a5a" stroke-width="0.95" stroke-linejoin="round" />
<polyline points="646.40,35.16 646.80,92.10 647.25,96.10 647.80,47.00" fill="none" stroke="#b8b8b8" stroke-width="0.9" stroke-linejoin="round" />
<polyline points="646.90,35.16 647.30,92.10 647.75,96.10 648.30,47.00" fill="none" stroke="#5a5a5a" stroke-width="0.95" stroke-linejoin="round" />
<polyline points="655.50,34.65 655.90,78.40 656.35,82.40 656.90,49.00" fill="none" stroke="#b8b8b8" stroke-width="0.9" stroke-linejoin="round" />
<polyline points="656.00,34.65 656.40,78.40 656.85,82.40 657.40,49.00" fill="none" stroke="#5a5a5a" stroke-width="0.95" stroke-linejoin="round" />
<polyline points="664.40,34.68 664.80,81.70 665.25,85.70 665.80,48.00" fill="none" stroke="#b8b8b8" stroke-width="0.9" stroke-linejoin="round" />
<polyline points="664.90,34.68 665.30,81.70 665.75,85.70 666.30,48.00" fill="none" stroke="#5a5a5a" stroke-width="0.95" stroke-linejoin="round" />
<polyline points="673.50,38.64 673.90,80.30 674.35,84.30 674.90,47.00" fill="none" stroke="#b8b8b8" stroke-width="0.9" stroke-linejoin="round" />
<polyline points="674.00,38.64 674.40,80.30 674.85,84.30 675.40,47.00" fill="none" stroke="#5a5a5a" stroke-width="0.95" stroke-linejoin="round" />
<line x1="45.30" y1="150.20" x2="45.30" y2="234.90" stroke="#3a3032" stroke-width="0.8" />
<line x1="44.90" y1="234.90" x2="167.40" y2="234.90" stroke="#3a3032" stroke-width="0.8" />
<line x1="42.10" y1="164.90" x2="45.30" y2="164.90" stroke="#3a3032" stroke-width="0.9" />
<text x="41.10" y="167.80" font-size="9.7" text-anchor="end" font-weight="normal" fill="#1f1b1c" font-style="normal" >−0.1</text>
<line x1="42.10" y1="187.10" x2="45.30" y2="187.10" stroke="#3a3032" stroke-width="0.9" />
<text x="41.10" y="190.00" font-size="9.7" text-anchor="end" font-weight="normal" fill="#1f1b1c" font-style="normal" >−0.3</text>
<line x1="42.10" y1="209.40" x2="45.30" y2="209.40" stroke="#3a3032" stroke-width="0.9" />
<text x="41.10" y="212.30" font-size="9.7" text-anchor="end" font-weight="normal" fill="#1f1b1c" font-style="normal" >−0.5</text>
<line x1="42.10" y1="231.50" x2="45.30" y2="231.50" stroke="#3a3032" stroke-width="0.9" />
<text x="41.10" y="234.40" font-size="9.7" text-anchor="end" font-weight="normal" fill="#1f1b1c" font-style="normal" >−0.7</text>
<line x1="45.30" y1="234.90" x2="45.30" y2="238.20" stroke="#3a3032" stroke-width="0.9" />
<text x="44.60" y="246.90" font-size="9.4" text-anchor="middle" font-weight="normal" fill="#1f1b1c" font-style="normal" >0</text>
<line x1="56.34" y1="234.90" x2="56.34" y2="238.20" stroke="#3a3032" stroke-width="0.9" />
<text x="56.34" y="246.90" font-size="9.4" text-anchor="middle" font-weight="normal" fill="#1f1b1c" font-style="normal" >0.2</text>
<line x1="77.22" y1="234.90" x2="77.22" y2="238.20" stroke="#3a3032" stroke-width="0.9" />
<text x="77.22" y="246.90" font-size="9.4" text-anchor="middle" font-weight="normal" fill="#1f1b1c" font-style="normal" >0.6</text>
<line x1="98.10" y1="234.90" x2="98.10" y2="238.20" stroke="#3a3032" stroke-width="0.9" />
<text x="98.10" y="246.90" font-size="9.4" text-anchor="middle" font-weight="normal" fill="#1f1b1c" font-style="normal" >1.0</text>
<line x1="118.98" y1="234.90" x2="118.98" y2="238.20" stroke="#3a3032" stroke-width="0.9" />
<text x="118.98" y="246.90" font-size="9.4" text-anchor="middle" font-weight="normal" fill="#1f1b1c" font-style="normal" >1.4</text>
<line x1="139.86" y1="234.90" x2="139.86" y2="238.20" stroke="#3a3032" stroke-width="0.9" />
<text x="139.86" y="246.90" font-size="9.4" text-anchor="middle" font-weight="normal" fill="#1f1b1c" font-style="normal" >1.8</text>
<line x1="160.74" y1="234.90" x2="160.74" y2="238.20" stroke="#3a3032" stroke-width="0.9" />
<text x="160.74" y="246.90" font-size="9.4" text-anchor="middle" font-weight="normal" fill="#1f1b1c" font-style="normal" >2.2</text>
<text x="106.40" y="261.40" font-size="9.6" text-anchor="middle" font-weight="normal" fill="#1f1b1c" font-style="normal" >Molar ratio</text>
<text transform="translate(16.00,190.5) rotate(-90)" font-size="9.6" text-anchor="middle" fill="#1f1b1c">Δ<tspan font-style="italic">H</tspan> (kcal/mol)</text>
<text x="54.20" y="160.6" font-size="9.6" fill="#1f1b1c"><tspan font-style="italic">N</tspan> = 1.10</text>
<polyline points="45.30,230.44 47.31,229.61 49.32,228.74 51.32,227.81 53.33,226.82 55.34,225.77 57.35,224.66 59.36,223.49 61.37,222.26 63.38,220.97 65.38,219.62 67.39,218.21 69.40,216.74 71.41,215.21 73.42,213.64 75.42,212.01 77.43,210.34 79.44,208.63 81.45,206.88 83.46,205.11 85.47,203.31 87.47,201.50 89.48,199.68 91.49,197.85 93.50,196.03 95.51,194.22 97.52,192.43 99.53,190.66 101.53,188.93 103.54,187.23 105.55,185.57 107.56,183.96 109.57,182.40 111.58,180.89 113.58,179.43 115.59,178.04 117.60,176.70 119.61,175.43 121.62,174.22 123.63,173.06 125.63,171.97 127.64,170.94 129.65,169.97 131.66,169.05 133.67,168.19 135.68,167.39 137.68,166.63 139.69,165.93 141.70,165.27 143.71,164.66 145.72,164.09 147.73,163.56 149.73,163.06 151.74,162.61 153.75,162.18 155.76,161.79 157.77,161.43 159.78,161.09 161.78,160.78 163.79,160.50 165.80,160.23" fill="none" stroke="#5a5a5a" stroke-width="0.75" stroke-linejoin="round" />
<circle cx="52.90" cy="221.70" r="1.05" fill="#555" stroke="none" stroke-width="0.5"/>
<circle cx="59.40" cy="231.30" r="1.05" fill="#555" stroke="none" stroke-width="0.5"/>
<circle cx="66.00" cy="220.00" r="1.05" fill="#555" stroke="none" stroke-width="0.5"/>
<circle cx="72.80" cy="215.80" r="1.05" fill="#555" stroke="none" stroke-width="0.5"/>
<circle cx="79.50" cy="214.30" r="1.05" fill="#555" stroke="none" stroke-width="0.5"/>
<circle cx="86.10" cy="203.30" r="1.05" fill="#555" stroke="none" stroke-width="0.5"/>
<circle cx="93.10" cy="194.70" r="1.05" fill="#555" stroke="none" stroke-width="0.5"/>
<circle cx="100.30" cy="190.00" r="1.05" fill="#555" stroke="none" stroke-width="0.5"/>
<circle cx="107.40" cy="187.10" r="1.05" fill="#555" stroke="none" stroke-width="0.5"/>
<circle cx="114.40" cy="181.60" r="1.05" fill="#555" stroke="none" stroke-width="0.5"/>
<circle cx="121.60" cy="173.50" r="1.05" fill="#555" stroke="none" stroke-width="0.5"/>
<circle cx="128.60" cy="173.50" r="1.05" fill="#555" stroke="none" stroke-width="0.5"/>
<circle cx="135.80" cy="173.10" r="1.05" fill="#555" stroke="none" stroke-width="0.5"/>
<circle cx="143.40" cy="165.50" r="1.05" fill="#555" stroke="none" stroke-width="0.5"/>
<circle cx="150.60" cy="163.00" r="1.05" fill="#555" stroke="none" stroke-width="0.5"/>
<circle cx="158.00" cy="165.90" r="1.05" fill="#555" stroke="none" stroke-width="0.5"/>
<circle cx="165.60" cy="154.10" r="1.05" fill="#555" stroke="none" stroke-width="0.5"/>
<line x1="210.30" y1="150.20" x2="210.30" y2="234.90" stroke="#3a3032" stroke-width="0.8" />
<line x1="209.90" y1="234.90" x2="333.40" y2="234.90" stroke="#3a3032" stroke-width="0.8" />
<line x1="207.10" y1="152.60" x2="210.30" y2="152.60" stroke="#3a3032" stroke-width="0.9" />
<text x="206.10" y="155.50" font-size="9.7" text-anchor="end" font-weight="normal" fill="#1f1b1c" font-style="normal" >0.0</text>
<line x1="207.10" y1="168.30" x2="210.30" y2="168.30" stroke="#3a3032" stroke-width="0.9" />
<text x="206.10" y="171.20" font-size="9.7" text-anchor="end" font-weight="normal" fill="#1f1b1c" font-style="normal" >−0.2</text>
<line x1="207.10" y1="184.30" x2="210.30" y2="184.30" stroke="#3a3032" stroke-width="0.9" />
<text x="206.10" y="187.20" font-size="9.7" text-anchor="end" font-weight="normal" fill="#1f1b1c" font-style="normal" >−0.4</text>
<line x1="207.10" y1="200.00" x2="210.30" y2="200.00" stroke="#3a3032" stroke-width="0.9" />
<text x="206.10" y="202.90" font-size="9.7" text-anchor="end" font-weight="normal" fill="#1f1b1c" font-style="normal" >−0.6</text>
<line x1="207.10" y1="215.60" x2="210.30" y2="215.60" stroke="#3a3032" stroke-width="0.9" />
<text x="206.10" y="218.50" font-size="9.7" text-anchor="end" font-weight="normal" fill="#1f1b1c" font-style="normal" >−0.8</text>
<line x1="207.10" y1="231.30" x2="210.30" y2="231.30" stroke="#3a3032" stroke-width="0.9" />
<text x="206.10" y="234.20" font-size="9.7" text-anchor="end" font-weight="normal" fill="#1f1b1c" font-style="normal" >−1.0</text>
<line x1="210.30" y1="234.90" x2="210.30" y2="238.20" stroke="#3a3032" stroke-width="0.9" />
<line x1="210.20" y1="234.90" x2="210.20" y2="238.20" stroke="#3a3032" stroke-width="0.9" />
<text x="210.20" y="246.90" font-size="9.4" text-anchor="middle" font-weight="normal" fill="#1f1b1c" font-style="normal" >0</text>
<line x1="239.35" y1="234.90" x2="239.35" y2="238.20" stroke="#3a3032" stroke-width="0.9" />
<text x="239.35" y="246.90" font-size="9.4" text-anchor="middle" font-weight="normal" fill="#1f1b1c" font-style="normal" >0.5</text>
<line x1="268.50" y1="234.90" x2="268.50" y2="238.20" stroke="#3a3032" stroke-width="0.9" />
<text x="268.50" y="246.90" font-size="9.4" text-anchor="middle" font-weight="normal" fill="#1f1b1c" font-style="normal" >1.0</text>
<line x1="297.65" y1="234.90" x2="297.65" y2="238.20" stroke="#3a3032" stroke-width="0.9" />
<text x="297.65" y="246.90" font-size="9.4" text-anchor="middle" font-weight="normal" fill="#1f1b1c" font-style="normal" >1.5</text>
<line x1="326.80" y1="234.90" x2="326.80" y2="238.20" stroke="#3a3032" stroke-width="0.9" />
<text x="326.80" y="246.90" font-size="9.4" text-anchor="middle" font-weight="normal" fill="#1f1b1c" font-style="normal" >2.0</text>
<text x="276.40" y="261.40" font-size="9.6" text-anchor="middle" font-weight="normal" fill="#1f1b1c" font-style="normal" >Molar ratio</text>
<text transform="translate(181.00,190.5) rotate(-90)" font-size="9.6" text-anchor="middle" fill="#1f1b1c">Δ<tspan font-style="italic">H</tspan> (kcal/mol)</text>
<text x="218.60" y="160.6" font-size="9.6" fill="#1f1b1c"><tspan font-style="italic">N</tspan> = 0.81</text>
<polyline points="210.30,232.10 212.28,231.06 214.26,229.94 216.25,228.75 218.23,227.48 220.21,226.13 222.19,224.70 224.17,223.19 226.15,221.61 228.14,219.94 230.12,218.21 232.10,216.40 234.08,214.52 236.06,212.58 238.04,210.59 240.03,208.55 242.01,206.48 243.99,204.37 245.97,202.24 247.95,200.10 249.93,197.96 251.92,195.82 253.90,193.71 255.88,191.62 257.86,189.57 259.84,187.57 261.82,185.62 263.81,183.73 265.79,181.90 267.77,180.14 269.75,178.46 271.73,176.86 273.71,175.33 275.69,173.88 277.68,172.51 279.66,171.22 281.64,170.01 283.62,168.88 285.60,167.81 287.59,166.82 289.57,165.90 291.55,165.05 293.53,164.25 295.51,163.52 297.49,162.84 299.48,162.22 301.46,161.64 303.44,161.11 305.42,160.62 307.40,160.18 309.38,159.77 311.37,159.39 313.35,159.05 315.33,158.73 317.31,158.44 319.29,158.18 321.27,157.94 323.25,157.72 325.24,157.52 327.22,157.34 329.20,157.17" fill="none" stroke="#5a5a5a" stroke-width="0.75" stroke-linejoin="round" />
<circle cx="218.70" cy="228.50" r="1.05" fill="#555" stroke="none" stroke-width="0.5"/>
<circle cx="226.30" cy="222.80" r="1.05" fill="#555" stroke="none" stroke-width="0.5"/>
<circle cx="233.80" cy="211.00" r="1.05" fill="#555" stroke="none" stroke-width="0.5"/>
<circle cx="241.40" cy="209.10" r="1.05" fill="#555" stroke="none" stroke-width="0.5"/>
<circle cx="249.00" cy="201.50" r="1.05" fill="#555" stroke="none" stroke-width="0.5"/>
<circle cx="256.60" cy="191.50" r="1.05" fill="#555" stroke="none" stroke-width="0.5"/>
<circle cx="264.40" cy="183.00" r="1.05" fill="#555" stroke="none" stroke-width="0.5"/>
<circle cx="272.00" cy="178.80" r="1.05" fill="#555" stroke="none" stroke-width="0.5"/>
<circle cx="280.30" cy="175.70" r="1.05" fill="#555" stroke="none" stroke-width="0.5"/>
<circle cx="288.10" cy="164.90" r="1.05" fill="#555" stroke="none" stroke-width="0.5"/>
<circle cx="296.50" cy="164.00" r="1.05" fill="#555" stroke="none" stroke-width="0.5"/>
<circle cx="304.20" cy="163.60" r="1.05" fill="#555" stroke="none" stroke-width="0.5"/>
<circle cx="312.60" cy="166.30" r="1.05" fill="#555" stroke="none" stroke-width="0.5"/>
<circle cx="320.70" cy="157.00" r="1.05" fill="#555" stroke="none" stroke-width="0.5"/>
<circle cx="328.90" cy="155.40" r="1.05" fill="#555" stroke="none" stroke-width="0.5"/>
<line x1="377.60" y1="150.20" x2="377.60" y2="234.90" stroke="#3a3032" stroke-width="0.8" />
<line x1="377.20" y1="234.90" x2="499.50" y2="234.90" stroke="#3a3032" stroke-width="0.8" />
<line x1="374.40" y1="153.00" x2="377.60" y2="153.00" stroke="#3a3032" stroke-width="0.9" />
<text x="373.40" y="155.90" font-size="9.7" text-anchor="end" font-weight="normal" fill="#1f1b1c" font-style="normal" >0.0</text>
<line x1="374.40" y1="180.10" x2="377.60" y2="180.10" stroke="#3a3032" stroke-width="0.9" />
<text x="373.40" y="183.00" font-size="9.7" text-anchor="end" font-weight="normal" fill="#1f1b1c" font-style="normal" >−0.4</text>
<line x1="374.40" y1="207.20" x2="377.60" y2="207.20" stroke="#3a3032" stroke-width="0.9" />
<text x="373.40" y="210.10" font-size="9.7" text-anchor="end" font-weight="normal" fill="#1f1b1c" font-style="normal" >−0.8</text>
<line x1="374.40" y1="234.20" x2="377.60" y2="234.20" stroke="#3a3032" stroke-width="0.9" />
<text x="373.40" y="237.10" font-size="9.7" text-anchor="end" font-weight="normal" fill="#1f1b1c" font-style="normal" >−1.2</text>
<line x1="377.60" y1="234.90" x2="377.60" y2="238.20" stroke="#3a3032" stroke-width="0.9" />
<text x="377.90" y="246.90" font-size="9.4" text-anchor="middle" font-weight="normal" fill="#1f1b1c" font-style="normal" >0</text>
<line x1="389.48" y1="234.90" x2="389.48" y2="238.20" stroke="#3a3032" stroke-width="0.9" />
<text x="389.48" y="246.90" font-size="9.4" text-anchor="middle" font-weight="normal" fill="#1f1b1c" font-style="normal" >0.2</text>
<line x1="410.04" y1="234.90" x2="410.04" y2="238.20" stroke="#3a3032" stroke-width="0.9" />
<text x="410.04" y="246.90" font-size="9.4" text-anchor="middle" font-weight="normal" fill="#1f1b1c" font-style="normal" >0.6</text>
<line x1="430.60" y1="234.90" x2="430.60" y2="238.20" stroke="#3a3032" stroke-width="0.9" />
<text x="430.60" y="246.90" font-size="9.4" text-anchor="middle" font-weight="normal" fill="#1f1b1c" font-style="normal" >1.0</text>
<line x1="451.16" y1="234.90" x2="451.16" y2="238.20" stroke="#3a3032" stroke-width="0.9" />
<text x="451.16" y="246.90" font-size="9.4" text-anchor="middle" font-weight="normal" fill="#1f1b1c" font-style="normal" >1.4</text>
<line x1="471.72" y1="234.90" x2="471.72" y2="238.20" stroke="#3a3032" stroke-width="0.9" />
<text x="471.72" y="246.90" font-size="9.4" text-anchor="middle" font-weight="normal" fill="#1f1b1c" font-style="normal" >1.8</text>
<line x1="492.28" y1="234.90" x2="492.28" y2="238.20" stroke="#3a3032" stroke-width="0.9" />
<text x="492.28" y="246.90" font-size="9.4" text-anchor="middle" font-weight="normal" fill="#1f1b1c" font-style="normal" >2.2</text>
<text x="439.60" y="261.40" font-size="9.6" text-anchor="middle" font-weight="normal" fill="#1f1b1c" font-style="normal" >Molar ratio</text>
<text transform="translate(347.50,190.5) rotate(-90)" font-size="9.6" text-anchor="middle" fill="#1f1b1c">Δ<tspan font-style="italic">H</tspan> (kcal/mol)</text>
<text x="384.90" y="160.6" font-size="9.6" fill="#1f1b1c"><tspan font-style="italic">N</tspan> = 1.17</text>
<polyline points="377.60,231.02 379.56,230.77 381.53,230.49 383.50,230.17 385.46,229.82 387.43,229.43 389.39,228.99 391.36,228.51 393.32,227.96 395.29,227.37 397.25,226.70 399.22,225.97 401.18,225.16 403.15,224.28 405.11,223.30 407.07,222.24 409.04,221.08 411.00,219.82 412.97,218.46 414.94,217.00 416.90,215.43 418.87,213.76 420.83,211.98 422.80,210.10 424.76,208.14 426.73,206.08 428.69,203.95 430.66,201.76 432.62,199.52 434.59,197.24 436.55,194.95 438.51,192.65 440.48,190.36 442.44,188.10 444.41,185.88 446.38,183.72 448.34,181.63 450.31,179.63 452.27,177.71 454.24,175.88 456.20,174.16 458.17,172.55 460.13,171.03 462.10,169.63 464.06,168.32 466.02,167.12 467.99,166.01 469.96,165.00 471.92,164.07 473.88,163.23 475.85,162.46 477.81,161.77 479.78,161.14 481.75,160.58 483.71,160.06 485.68,159.61 487.64,159.19 489.61,158.82 491.57,158.49 493.53,158.19 495.50,157.93" fill="none" stroke="#5a5a5a" stroke-width="0.75" stroke-linejoin="round" />
<circle cx="384.80" cy="221.90" r="1.05" fill="#555" stroke="none" stroke-width="0.5"/>
<circle cx="390.90" cy="227.00" r="1.05" fill="#555" stroke="none" stroke-width="0.5"/>
<circle cx="396.90" cy="231.30" r="1.05" fill="#555" stroke="none" stroke-width="0.5"/>
<circle cx="403.20" cy="231.90" r="1.05" fill="#555" stroke="none" stroke-width="0.5"/>
<circle cx="409.30" cy="228.50" r="1.05" fill="#555" stroke="none" stroke-width="0.5"/>
<circle cx="415.50" cy="217.70" r="1.05" fill="#555" stroke="none" stroke-width="0.5"/>
<circle cx="422.20" cy="210.80" r="1.05" fill="#555" stroke="none" stroke-width="0.5"/>
<circle cx="428.40" cy="202.90" r="1.05" fill="#555" stroke="none" stroke-width="0.5"/>
<circle cx="434.90" cy="200.00" r="1.05" fill="#555" stroke="none" stroke-width="0.5"/>
<circle cx="441.50" cy="192.80" r="1.05" fill="#555" stroke="none" stroke-width="0.5"/>
<circle cx="447.80" cy="182.00" r="1.05" fill="#555" stroke="none" stroke-width="0.5"/>
<circle cx="454.40" cy="175.70" r="1.05" fill="#555" stroke="none" stroke-width="0.5"/>
<circle cx="461.10" cy="174.00" r="1.05" fill="#555" stroke="none" stroke-width="0.5"/>
<circle cx="468.10" cy="171.60" r="1.05" fill="#555" stroke="none" stroke-width="0.5"/>
<circle cx="474.70" cy="164.00" r="1.05" fill="#555" stroke="none" stroke-width="0.5"/>
<circle cx="482.00" cy="161.10" r="1.05" fill="#555" stroke="none" stroke-width="0.5"/>
<circle cx="488.60" cy="157.00" r="1.05" fill="#555" stroke="none" stroke-width="0.5"/>
<circle cx="495.20" cy="156.00" r="1.05" fill="#555" stroke="none" stroke-width="0.5"/>
<line x1="560.30" y1="150.20" x2="560.30" y2="234.90" stroke="#3a3032" stroke-width="0.8" />
<line x1="559.90" y1="234.90" x2="685.00" y2="234.90" stroke="#3a3032" stroke-width="0.8" />
<line x1="557.10" y1="161.50" x2="560.30" y2="161.50" stroke="#3a3032" stroke-width="0.9" />
<text x="556.10" y="164.40" font-size="9.7" text-anchor="end" font-weight="normal" fill="#1f1b1c" font-style="normal" >−0.08</text>
<line x1="557.10" y1="185.20" x2="560.30" y2="185.20" stroke="#3a3032" stroke-width="0.9" />
<text x="556.10" y="188.10" font-size="9.7" text-anchor="end" font-weight="normal" fill="#1f1b1c" font-style="normal" >−0.12</text>
<line x1="557.10" y1="208.60" x2="560.30" y2="208.60" stroke="#3a3032" stroke-width="0.9" />
<text x="556.10" y="211.50" font-size="9.7" text-anchor="end" font-weight="normal" fill="#1f1b1c" font-style="normal" >−0.16</text>
<line x1="557.10" y1="231.70" x2="560.30" y2="231.70" stroke="#3a3032" stroke-width="0.9" />
<text x="556.10" y="234.60" font-size="9.7" text-anchor="end" font-weight="normal" fill="#1f1b1c" font-style="normal" >−0.20</text>
<line x1="560.30" y1="234.90" x2="560.30" y2="238.20" stroke="#3a3032" stroke-width="0.9" />
<line x1="560.00" y1="234.90" x2="560.00" y2="238.20" stroke="#3a3032" stroke-width="0.9" />
<text x="560.00" y="246.90" font-size="9.4" text-anchor="middle" font-weight="normal" fill="#1f1b1c" font-style="normal" >0</text>
<line x1="589.36" y1="234.90" x2="589.36" y2="238.20" stroke="#3a3032" stroke-width="0.9" />
<text x="589.36" y="246.90" font-size="9.4" text-anchor="middle" font-weight="normal" fill="#1f1b1c" font-style="normal" >0.4</text>
<line x1="618.72" y1="234.90" x2="618.72" y2="238.20" stroke="#3a3032" stroke-width="0.9" />
<text x="618.72" y="246.90" font-size="9.4" text-anchor="middle" font-weight="normal" fill="#1f1b1c" font-style="normal" >0.8</text>
<line x1="648.08" y1="234.90" x2="648.08" y2="238.20" stroke="#3a3032" stroke-width="0.9" />
<text x="648.08" y="246.90" font-size="9.4" text-anchor="middle" font-weight="normal" fill="#1f1b1c" font-style="normal" >1.2</text>
<line x1="677.44" y1="234.90" x2="677.44" y2="238.20" stroke="#3a3032" stroke-width="0.9" />
<text x="677.44" y="246.90" font-size="9.4" text-anchor="middle" font-weight="normal" fill="#1f1b1c" font-style="normal" >1.6</text>
<text x="625.90" y="261.40" font-size="9.6" text-anchor="middle" font-weight="normal" fill="#1f1b1c" font-style="normal" >Molar ratio</text>
<text transform="translate(523.50,190.5) rotate(-90)" font-size="9.6" text-anchor="middle" fill="#1f1b1c">Δ<tspan font-style="italic">H</tspan> (kcal/mol)</text>
<text x="568.00" y="160.6" font-size="9.6" fill="#1f1b1c"><tspan font-style="italic">N</tspan> = N/A</text>
<circle cx="572.50" cy="226.60" r="1.05" fill="#555" stroke="none" stroke-width="0.5"/>
<circle cx="581.60" cy="216.20" r="1.05" fill="#555" stroke="none" stroke-width="0.5"/>
<circle cx="590.50" cy="165.90" r="1.05" fill="#555" stroke="none" stroke-width="0.5"/>
<circle cx="599.60" cy="194.70" r="1.05" fill="#555" stroke="none" stroke-width="0.5"/>
<circle cx="609.10" cy="228.90" r="1.05" fill="#555" stroke="none" stroke-width="0.5"/>
<circle cx="618.60" cy="206.70" r="1.05" fill="#555" stroke="none" stroke-width="0.5"/>
<circle cx="627.70" cy="180.10" r="1.05" fill="#555" stroke="none" stroke-width="0.5"/>
<circle cx="637.20" cy="221.30" r="1.05" fill="#555" stroke="none" stroke-width="0.5"/>
<circle cx="647.00" cy="230.80" r="1.05" fill="#555" stroke="none" stroke-width="0.5"/>
<circle cx="656.90" cy="154.10" r="1.05" fill="#555" stroke="none" stroke-width="0.5"/>
<circle cx="666.60" cy="185.40" r="1.05" fill="#555" stroke="none" stroke-width="0.5"/>
<circle cx="676.40" cy="208.00" r="1.05" fill="#555" stroke="none" stroke-width="0.5"/>
<line x1="61.40" y1="289.20" x2="95.10" y2="289.20" stroke="#444" stroke-width="0.9" />
<polygon points="61.40,282.50 68.10,289.20 61.40,295.90 54.70,289.20" fill="#7a1e6e" stroke="#3a3a3a" stroke-width="0.4"/>
<circle cx="78.60" cy="289.20" r="5.50" fill="#e2da45" stroke="#3a3a3a" stroke-width="0.5"/>
<circle cx="95.10" cy="289.20" r="5.30" fill="#3263a8" stroke="#3a3a3a" stroke-width="0.5"/>
<text x="66.10" y="277.80" font-size="8.4" text-anchor="start" font-weight="normal" fill="#1f1b1c" font-style="normal" >α3</text>
<text x="81.40" y="277.80" font-size="8.4" text-anchor="start" font-weight="normal" fill="#1f1b1c" font-style="normal" >β4</text>
<text x="107.90" y="292.3" font-size="9.3" fill="#1f1b1c"><tspan font-style="italic">K</tspan><tspan font-size="5.5" dy="1.8">D</tspan><tspan dy="-1.8"> = 17.8 µM</tspan></text>
<line x1="235.70" y1="289.00" x2="269.30" y2="289.00" stroke="#444" stroke-width="0.9" />
<polygon points="235.70,282.30 242.40,289.00 235.70,295.70 229.00,289.00" fill="#7a1e6e" stroke="#3a3a3a" stroke-width="0.4"/>
<circle cx="252.80" cy="289.00" r="5.50" fill="#e2da45" stroke="#3a3a3a" stroke-width="0.5"/>
<circle cx="269.30" cy="289.00" r="5.30" fill="#3263a8" stroke="#3a3a3a" stroke-width="0.5"/>
<text x="241.50" y="277.80" font-size="8.4" text-anchor="start" font-weight="normal" fill="#1f1b1c" font-style="normal" >α6</text>
<text x="256.20" y="277.80" font-size="8.4" text-anchor="start" font-weight="normal" fill="#1f1b1c" font-style="normal" >β4</text>
<text x="283.50" y="292.3" font-size="9.3" fill="#1f1b1c"><tspan font-style="italic">K</tspan><tspan font-size="5.5" dy="1.8">D</tspan><tspan dy="-1.8"> = 19.1 µM</tspan></text>
<line x1="403.80" y1="289.00" x2="437.50" y2="289.00" stroke="#444" stroke-width="0.9" />
<polygon points="403.80,282.30 410.50,289.00 403.80,295.70 397.10,289.00" fill="#7a1e6e" stroke="#3a3a3a" stroke-width="0.4"/>
<circle cx="420.40" cy="289.00" r="5.50" fill="#e2da45" stroke="#3a3a3a" stroke-width="0.5"/>
<circle cx="437.50" cy="289.00" r="5.30" fill="#3263a8" stroke="#3a3a3a" stroke-width="0.5"/>
<text x="411.20" y="277.80" font-size="8.4" text-anchor="start" font-weight="normal" fill="#1f1b1c" font-style="normal" >α3</text>
<text x="425.60" y="277.80" font-size="8.4" text-anchor="start" font-weight="normal" fill="#1f1b1c" font-style="normal" >β4</text>
<text x="451.90" y="292.3" font-size="9.3" fill="#1f1b1c"><tspan font-style="italic">K</tspan><tspan font-size="5.5" dy="1.8">D</tspan><tspan dy="-1.8"> = 7.15 µM</tspan></text>
<line x1="575.90" y1="289.00" x2="609.60" y2="289.00" stroke="#444" stroke-width="0.9" />
<polygon points="575.90,282.30 582.60,289.00 575.90,295.70 569.20,289.00" fill="#7a1e6e" stroke="#3a3a3a" stroke-width="0.4"/>
<circle cx="593.00" cy="289.00" r="5.50" fill="#e2da45" stroke="#3a3a3a" stroke-width="0.5"/>
<circle cx="609.60" cy="289.00" r="5.30" fill="#3263a8" stroke="#3a3a3a" stroke-width="0.5"/>
<text x="581.70" y="277.80" font-size="8.4" text-anchor="start" font-weight="normal" fill="#1f1b1c" font-style="normal" >α6</text>
<text x="597.00" y="277.80" font-size="8.4" text-anchor="start" font-weight="normal" fill="#1f1b1c" font-style="normal" >β4</text>
<text x="623.80" y="292.30" font-size="9.3" text-anchor="start" font-weight="normal" fill="#1f1b1c" font-style="normal" >No binding</text>
<text x="0.50" y="10.10" font-size="12" text-anchor="start" font-weight="bold" fill="#000" font-style="normal" >a</text>
<text x="180.30" y="10.10" font-size="12" text-anchor="start" font-weight="bold" fill="#000" font-style="normal" >b</text>
<text x="337.60" y="10.10" font-size="12" text-anchor="start" font-weight="bold" fill="#000" font-style="normal" >c</text>
<text x="510.80" y="10.10" font-size="12" text-anchor="start" font-weight="bold" fill="#000" font-style="normal" >d</text>
<text x="0.30" y="320.00" font-size="12" text-anchor="start" font-weight="bold" fill="#000" font-style="normal" >e</text>
<text x="0.00" y="434.50" font-size="12" text-anchor="start" font-weight="bold" fill="#000" font-style="normal" >f</text>
<text x="0.50" y="576.00" font-size="12" text-anchor="start" font-weight="bold" fill="#000" font-style="normal" >g</text>
<text x="433.30" y="320.30" font-size="12" text-anchor="start" font-weight="bold" fill="#000" font-style="normal" >h</text>
<path d="M48.6,362.0 L58.6,374.6 Q60.6,377.2 60.0,373.5 L58.3,360.5 Q58.3,354.6 63.5,354.2" fill="none" stroke="#24548f" stroke-width="1.45"/>
<path d="M36.80,365.80 L27.11,360.81 A11.80,11.80 0 1 1 27.11,370.79 Z" fill="#2f65ae" stroke="none" stroke-width="0.55"/>
<line x1="63.00" y1="353.80" x2="74.80" y2="353.80" stroke="#84c484" stroke-width="3.5" />
<line x1="74.80" y1="353.90" x2="77.50" y2="354.10" stroke="#24548f" stroke-width="1.1" />
<line x1="77.40" y1="354.00" x2="89.50" y2="355.60" stroke="#b98fc6" stroke-width="3.4" stroke-linecap="round"/>
<text x="52.20" y="345.50" font-size="9.4" text-anchor="start" font-weight="normal" fill="#1f1b1c" font-style="normal" >AviTag</text>
<text x="84.8" y="345.5" font-size="9.4" fill="#1f1b1c">His<tspan font-size="5" dy="0.8">6</tspan></text>
<text x="54.90" y="402.70" font-size="9.4" text-anchor="middle" font-weight="normal" fill="#1f1b1c" font-style="normal" >GRAB</text>
<line x1="96.10" y1="366.00" x2="148.50" y2="366.00" stroke="#5a5a5a" stroke-width="1.0" />
<polygon points="151.50,366.00 147.50,364.20 147.50,367.80" fill="#3a3a3a" stroke="none" stroke-width="0.5"/>
<text x="121.70" y="359.20" font-size="9.4" text-anchor="middle" font-weight="normal" fill="#1f1b1c" font-style="normal" >BirA</text>
<text x="123.10" y="379.30" font-size="9.4" text-anchor="middle" font-weight="normal" fill="#1f1b1c" font-style="normal" >Biotin, ATP</text>
<path d="M188.0,364.3 L198.2,377.6 Q200.2,380.2 199.7,376.5 L197.6,363.0 Q197.4,357.8 202.5,357.6" fill="none" stroke="#24548f" stroke-width="1.45"/>
<path d="M176.10,369.10 L166.41,364.11 A11.80,11.80 0 1 1 166.41,374.09 Z" fill="#2f65ae" stroke="none" stroke-width="0.55"/>
<line x1="206.70" y1="357.00" x2="206.70" y2="348.00" stroke="#444" stroke-width="1.0" />
<circle cx="206.70" cy="347.30" r="4.30" fill="#3b62b3" stroke="none" stroke-width="0.5"/>
<line x1="202.00" y1="357.60" x2="214.00" y2="357.60" stroke="#84c484" stroke-width="3.5" />
<line x1="213.80" y1="357.70" x2="217.40" y2="358.00" stroke="#24548f" stroke-width="1.45" />
<line x1="217.60" y1="357.90" x2="228.60" y2="359.40" stroke="#b98fc6" stroke-width="3.4" stroke-linecap="round"/>
<text x="210.30" y="337.30" font-size="9.4" text-anchor="start" font-weight="normal" fill="#1f1b1c" font-style="normal" >Biotin</text>
<text x="197.20" y="401.70" font-size="9.4" text-anchor="middle" font-weight="normal" fill="#1f1b1c" font-style="normal" >Monobiotinylated GRAB</text>
<line x1="236.90" y1="366.20" x2="337.50" y2="366.20" stroke="#5a5a5a" stroke-width="1.0" />
<polygon points="340.50,366.20 336.50,364.40 336.50,368.00" fill="#3a3a3a" stroke="none" stroke-width="0.5"/>
<text x="287.00" y="379.00" font-size="9.4" text-anchor="middle" font-weight="normal" fill="#1f1b1c" font-style="normal" >Streptavidin conjugates</text>
<defs><radialGradient id="glow"><stop offset="0" stop-color="#e0101e"/><stop offset="0.25" stop-color="#e0101e"/><stop offset="0.33" stop-color="#e84a54" stop-opacity="0.9"/><stop offset="0.6" stop-color="#f08e95" stop-opacity="0.8"/><stop offset="0.85" stop-color="#f5b8bc" stop-opacity="0.7"/><stop offset="1" stop-color="#f9d6d8" stop-opacity="0.5"/></radialGradient></defs>
<path d="M276.16,339.36 L276.55,335.79 A5.60,5.60 0 1 1 272.59,339.75 Z" fill="#d6d6d6" stroke="#9c9c9c" stroke-width="0.55"/>
<path d="M290.84,339.36 L294.41,339.75 A5.60,5.60 0 1 1 290.45,335.79 Z" fill="#d6d6d6" stroke="#9c9c9c" stroke-width="0.55"/>
<path d="M276.16,353.64 L272.59,353.25 A5.60,5.60 0 1 1 276.55,357.21 Z" fill="#d6d6d6" stroke="#9c9c9c" stroke-width="0.55"/>
<path d="M290.84,353.64 L290.45,357.21 A5.60,5.60 0 1 1 294.41,353.25 Z" fill="#d6d6d6" stroke="#9c9c9c" stroke-width="0.55"/>
<line x1="291.50" y1="346.50" x2="299.80" y2="346.30" stroke="#d02030" stroke-width="1.2" />
<circle cx="299.80" cy="346.20" r="6.00" fill="url(#glow)" stroke="none" stroke-width="0.5"/>
<circle cx="299.80" cy="346.20" r="1.60" fill="#e0101e" stroke="none" stroke-width="0.5"/>
<circle cx="377.60" cy="354.80" r="5.10" fill="#d6d6d6" stroke="#a0a0a0" stroke-width="0.6"/>
<circle cx="371.00" cy="361.40" r="5.10" fill="#d6d6d6" stroke="#a0a0a0" stroke-width="0.6"/>
<circle cx="384.20" cy="361.40" r="5.10" fill="#d6d6d6" stroke="#a0a0a0" stroke-width="0.6"/>
<circle cx="377.60" cy="368.00" r="5.10" fill="#d6d6d6" stroke="#a0a0a0" stroke-width="0.6"/>
<rect x="376.00" y="359.80" width="3.20" height="3.20" fill="#ffffff" />
<line x1="377.60" y1="350.80" x2="377.60" y2="343.60" stroke="#555" stroke-width="0.8" />
<circle cx="377.60" cy="350.80" r="2.00" fill="#3a68b8" stroke="none" stroke-width="0.5"/>
<path d="M377.60,338.40 L380.05,334.57 A5.60,5.60 0 1 1 375.15,334.57 Z" fill="#2f65ae" stroke="none" stroke-width="0.55"/>
<line x1="367.00" y1="361.40" x2="359.80" y2="361.40" stroke="#555" stroke-width="0.8" />
<circle cx="367.00" cy="361.40" r="2.00" fill="#3a68b8" stroke="none" stroke-width="0.5"/>
<path d="M354.60,361.40 L350.77,358.95 A5.60,5.60 0 1 1 350.77,363.85 Z" fill="#2f65ae" stroke="none" stroke-width="0.55"/>
<line x1="388.20" y1="361.40" x2="395.40" y2="361.40" stroke="#555" stroke-width="0.8" />
<circle cx="388.20" cy="361.40" r="2.00" fill="#3a68b8" stroke="none" stroke-width="0.5"/>
<path d="M400.60,361.40 L404.43,363.85 A5.60,5.60 0 1 1 404.43,358.95 Z" fill="#2f65ae" stroke="none" stroke-width="0.55"/>
<line x1="377.60" y1="372.00" x2="377.60" y2="379.20" stroke="#555" stroke-width="0.8" />
<circle cx="377.60" cy="372.00" r="2.00" fill="#3a68b8" stroke="none" stroke-width="0.5"/>
<path d="M377.60,384.40 L375.15,388.23 A5.60,5.60 0 1 1 380.05,388.23 Z" fill="#2f65ae" stroke="none" stroke-width="0.55"/>
<line x1="383.50" y1="366.80" x2="391.40" y2="374.30" stroke="#d02030" stroke-width="1.2" />
<circle cx="391.40" cy="374.30" r="7.60" fill="url(#glow)" stroke="none" stroke-width="0.5"/>
<circle cx="391.40" cy="374.30" r="2.00" fill="#e0101e" stroke="none" stroke-width="0.5"/>
<text x="378.70" y="402.90" font-size="9.4" text-anchor="middle" font-weight="normal" fill="#1f1b1c" font-style="normal" >Tetrameric GRAB</text>
<text x="378.70" y="412.70" font-size="9.4" text-anchor="middle" font-weight="normal" fill="#1f1b1c" font-style="normal" >(tetra-GRAB)</text>
<rect x="333.20" y="447.40" width="40.00" height="95.80" fill="#deddE5" />
<rect x="373.20" y="447.40" width="19.60" height="95.80" fill="#c4c2ce" />
<rect x="392.80" y="447.40" width="16.20" height="95.80" fill="#aaa9ba" />
<rect x="55.20" y="444.50" width="103.80" height="3.00" fill="#d9d64f" />
<rect x="161.20" y="444.50" width="37.90" height="3.00" fill="#e09c4b" />
<rect x="201.40" y="444.50" width="21.70" height="3.00" fill="#2a9dd4" />
<rect x="225.00" y="444.50" width="23.80" height="3.00" fill="#1766a9" />
<rect x="251.40" y="444.50" width="25.70" height="3.00" fill="#16864a" />
<rect x="279.30" y="444.50" width="21.90" height="3.00" fill="#b8323a" />
<rect x="303.40" y="444.50" width="15.40" height="3.00" fill="#e39cab" />
<rect x="321.10" y="444.50" width="9.90" height="3.00" fill="#c6b89c" />
<rect x="333.10" y="444.50" width="76.40" height="3.00" fill="#7b1e6e" />
<line x1="333.70" y1="446.00" x2="333.70" y2="451.50" stroke="#7b1e6e" stroke-width="1.3" />
<line x1="373.20" y1="446.00" x2="373.20" y2="451.50" stroke="#7b1e6e" stroke-width="1.3" />
<line x1="392.80" y1="446.00" x2="392.80" y2="451.50" stroke="#7b1e6e" stroke-width="1.3" />
<line x1="408.90" y1="446.00" x2="408.90" y2="451.50" stroke="#7b1e6e" stroke-width="1.3" />
<text x="353.20" y="456.80" font-size="9.2" text-anchor="middle" font-weight="normal" fill="#1f1b1c" font-style="normal" >α3</text>
<text x="383.00" y="456.80" font-size="9.2" text-anchor="middle" font-weight="normal" fill="#1f1b1c" font-style="normal" >α6</text>
<text x="400.90" y="456.80" font-size="9.2" text-anchor="middle" font-weight="normal" fill="#1f1b1c" font-style="normal" >α8</text>
<rect x="53.95" y="529.60" width="1.71" height="8.00" fill="#8b92c9" />
<rect x="56.08" y="531.68" width="1.71" height="5.92" fill="#8b92c9" />
<rect x="58.22" y="535.26" width="1.71" height="2.34" fill="#8b92c9" />
<rect x="60.35" y="536.64" width="1.71" height="0.96" fill="#8b92c9" />
<rect x="62.48" y="534.24" width="1.71" height="3.36" fill="#8b92c9" />
<rect x="64.62" y="532.48" width="1.71" height="5.12" fill="#8b92c9" />
<rect x="66.75" y="536.64" width="1.71" height="0.96" fill="#8b92c9" />
<rect x="68.88" y="536.96" width="1.71" height="0.64" fill="#8b92c9" />
<rect x="71.02" y="536.32" width="1.71" height="1.28" fill="#8b92c9" />
<rect x="73.15" y="528.64" width="1.71" height="8.96" fill="#8b92c9" />
<rect x="75.28" y="530.66" width="1.71" height="6.94" fill="#8b92c9" />
<rect x="77.41" y="537.44" width="1.71" height="0.16" fill="#8b92c9" />
<rect x="79.55" y="537.44" width="1.71" height="0.16" fill="#8b92c9" />
<rect x="81.68" y="536.32" width="1.71" height="1.28" fill="#8b92c9" />
<rect x="83.81" y="534.53" width="1.71" height="3.07" fill="#8b92c9" />
<rect x="85.95" y="526.56" width="1.71" height="11.04" fill="#8b92c9" />
<rect x="88.08" y="525.54" width="1.71" height="12.06" fill="#8b92c9" />
<rect x="90.21" y="531.68" width="1.71" height="5.92" fill="#8b92c9" />
<rect x="92.35" y="532.16" width="1.71" height="5.44" fill="#8b92c9" />
<rect x="94.48" y="531.68" width="1.71" height="5.92" fill="#8b92c9" />
<rect x="96.61" y="529.60" width="1.71" height="8.00" fill="#8b92c9" />
<rect x="98.74" y="532.16" width="1.71" height="5.44" fill="#8b92c9" />
<rect x="100.88" y="529.60" width="1.71" height="8.00" fill="#8b92c9" />
<rect x="103.01" y="526.08" width="1.71" height="11.52" fill="#8b92c9" />
<rect x="105.14" y="528.64" width="1.71" height="8.96" fill="#8b92c9" />
<rect x="107.28" y="531.20" width="1.71" height="6.40" fill="#8b92c9" />
<rect x="109.41" y="531.68" width="1.71" height="5.92" fill="#8b92c9" />
<rect x="111.54" y="535.76" width="1.71" height="1.84" fill="#8b92c9" />
<rect x="113.68" y="534.72" width="1.71" height="2.88" fill="#8b92c9" />
<rect x="115.81" y="532.16" width="1.71" height="5.44" fill="#8b92c9" />
<rect x="117.94" y="533.12" width="1.71" height="4.48" fill="#8b92c9" />
<rect x="120.07" y="532.16" width="1.71" height="5.44" fill="#8b92c9" />
<rect x="122.21" y="529.12" width="1.71" height="8.48" fill="#8b92c9" />
<rect x="124.34" y="530.66" width="1.71" height="6.94" fill="#8b92c9" />
<rect x="126.47" y="536.32" width="1.71" height="1.28" fill="#8b92c9" />
<rect x="128.61" y="535.26" width="1.71" height="2.34" fill="#8b92c9" />
<rect x="130.74" y="537.28" width="1.71" height="0.32" fill="#8b92c9" />
<rect x="132.87" y="537.28" width="1.71" height="0.32" fill="#8b92c9" />
<rect x="135.01" y="537.28" width="1.71" height="0.32" fill="#8b92c9" />
<rect x="137.14" y="537.28" width="1.71" height="0.32" fill="#8b92c9" />
<rect x="139.27" y="537.28" width="1.71" height="0.32" fill="#8b92c9" />
<rect x="141.40" y="532.16" width="1.71" height="5.44" fill="#8b92c9" />
<rect x="143.54" y="537.28" width="1.71" height="0.32" fill="#8b92c9" />
<rect x="145.67" y="535.55" width="1.71" height="2.05" fill="#8b92c9" />
<rect x="147.80" y="534.72" width="1.71" height="2.88" fill="#8b92c9" />
<rect x="149.94" y="535.26" width="1.71" height="2.34" fill="#8b92c9" />
<rect x="152.07" y="533.76" width="1.71" height="3.84" fill="#8b92c9" />
<rect x="154.20" y="536.32" width="1.71" height="1.28" fill="#8b92c9" />
<rect x="156.34" y="537.28" width="1.71" height="0.32" fill="#8b92c9" />
<rect x="158.47" y="529.60" width="1.71" height="8.00" fill="#8b92c9" />
<rect x="160.60" y="529.12" width="1.71" height="8.48" fill="#8b92c9" />
<rect x="162.73" y="533.12" width="1.71" height="4.48" fill="#8b92c9" />
<rect x="164.87" y="535.26" width="1.71" height="2.34" fill="#8b92c9" />
<rect x="167.00" y="536.32" width="1.71" height="1.28" fill="#8b92c9" />
<rect x="169.13" y="535.76" width="1.71" height="1.84" fill="#8b92c9" />
<rect x="171.27" y="528.64" width="1.71" height="8.96" fill="#8b92c9" />
<rect x="173.40" y="537.28" width="1.71" height="0.32" fill="#8b92c9" />
<rect x="175.53" y="537.50" width="1.71" height="0.10" fill="#8b92c9" />
<rect x="177.67" y="528.64" width="1.71" height="8.96" fill="#8b92c9" />
<rect x="179.80" y="533.12" width="1.71" height="4.48" fill="#8b92c9" />
<rect x="181.93" y="530.43" width="1.71" height="7.17" fill="#8b92c9" />
<rect x="184.06" y="535.26" width="1.71" height="2.34" fill="#8b92c9" />
<rect x="186.20" y="531.36" width="1.71" height="6.24" fill="#8b92c9" />
<rect x="188.33" y="536.96" width="1.71" height="0.64" fill="#8b92c9" />
<rect x="190.46" y="537.50" width="1.71" height="0.10" fill="#8b92c9" />
<rect x="192.60" y="537.50" width="1.71" height="0.10" fill="#8b92c9" />
<rect x="194.73" y="537.50" width="1.71" height="0.10" fill="#8b92c9" />
<rect x="196.86" y="537.50" width="1.71" height="0.10" fill="#8b92c9" />
<rect x="199.00" y="525.12" width="1.71" height="12.48" fill="#8b92c9" />
<rect x="201.13" y="527.58" width="1.71" height="10.02" fill="#8b92c9" />
<rect x="203.26" y="534.24" width="1.71" height="3.36" fill="#8b92c9" />
<rect x="205.39" y="537.41" width="1.71" height="0.19" fill="#8b92c9" />
<rect x="207.53" y="537.50" width="1.71" height="0.10" fill="#8b92c9" />
<rect x="209.66" y="537.41" width="1.71" height="0.19" fill="#8b92c9" />
<rect x="211.79" y="536.96" width="1.71" height="0.64" fill="#8b92c9" />
<rect x="213.93" y="529.60" width="1.71" height="8.00" fill="#8b92c9" />
<rect x="216.06" y="535.76" width="1.71" height="1.84" fill="#8b92c9" />
<rect x="218.19" y="536.96" width="1.71" height="0.64" fill="#8b92c9" />
<rect x="220.33" y="537.28" width="1.71" height="0.32" fill="#8b92c9" />
<rect x="222.46" y="528.10" width="1.71" height="9.50" fill="#8b92c9" />
<rect x="224.59" y="534.72" width="1.71" height="2.88" fill="#8b92c9" />
<rect x="226.72" y="534.72" width="1.71" height="2.88" fill="#8b92c9" />
<rect x="228.86" y="531.68" width="1.71" height="5.92" fill="#8b92c9" />
<rect x="230.99" y="535.76" width="1.71" height="1.84" fill="#8b92c9" />
<rect x="233.12" y="528.64" width="1.71" height="8.96" fill="#8b92c9" />
<rect x="235.26" y="533.44" width="1.71" height="4.16" fill="#8b92c9" />
<rect x="237.39" y="534.24" width="1.71" height="3.36" fill="#8b92c9" />
<rect x="239.52" y="533.76" width="1.71" height="3.84" fill="#8b92c9" />
<rect x="241.66" y="532.16" width="1.71" height="5.44" fill="#8b92c9" />
<rect x="243.79" y="530.14" width="1.71" height="7.46" fill="#8b92c9" />
<rect x="245.92" y="531.68" width="1.71" height="5.92" fill="#8b92c9" />
<rect x="248.05" y="528.64" width="1.71" height="8.96" fill="#8b92c9" />
<rect x="250.19" y="525.76" width="1.71" height="11.84" fill="#8b92c9" />
<rect x="252.32" y="534.24" width="1.71" height="3.36" fill="#8b92c9" />
<rect x="254.45" y="530.14" width="1.71" height="7.46" fill="#8b92c9" />
<rect x="256.59" y="533.76" width="1.71" height="3.84" fill="#8b92c9" />
<rect x="258.72" y="532.70" width="1.71" height="4.90" fill="#8b92c9" />
<rect x="260.85" y="537.41" width="1.71" height="0.19" fill="#8b92c9" />
<rect x="262.99" y="537.41" width="1.71" height="0.19" fill="#8b92c9" />
<rect x="265.12" y="537.34" width="1.71" height="0.26" fill="#8b92c9" />
<rect x="267.25" y="537.41" width="1.71" height="0.19" fill="#8b92c9" />
<rect x="269.38" y="537.41" width="1.71" height="0.19" fill="#8b92c9" />
<rect x="271.52" y="537.41" width="1.71" height="0.19" fill="#8b92c9" />
<rect x="273.65" y="537.41" width="1.71" height="0.19" fill="#8b92c9" />
<rect x="275.78" y="535.76" width="1.71" height="1.84" fill="#8b92c9" />
<rect x="277.92" y="522.56" width="1.71" height="15.04" fill="#8b92c9" />
<rect x="280.05" y="531.68" width="1.71" height="5.92" fill="#8b92c9" />
<rect x="282.18" y="534.72" width="1.71" height="2.88" fill="#8b92c9" />
<rect x="284.32" y="530.66" width="1.71" height="6.94" fill="#8b92c9" />
<rect x="286.45" y="526.40" width="1.71" height="11.20" fill="#8b92c9" />
<rect x="288.58" y="531.68" width="1.71" height="5.92" fill="#8b92c9" />
<rect x="290.71" y="536.32" width="1.71" height="1.28" fill="#8b92c9" />
<rect x="292.85" y="532.70" width="1.71" height="4.90" fill="#8b92c9" />
<rect x="294.98" y="537.28" width="1.71" height="0.32" fill="#8b92c9" />
<rect x="297.11" y="526.56" width="1.71" height="11.04" fill="#8b92c9" />
<rect x="299.25" y="529.92" width="1.71" height="7.68" fill="#8b92c9" />
<rect x="301.38" y="532.80" width="1.71" height="4.80" fill="#8b92c9" />
<rect x="303.51" y="534.24" width="1.71" height="3.36" fill="#8b92c9" />
<rect x="305.65" y="536.00" width="1.71" height="1.60" fill="#8b92c9" />
<rect x="307.78" y="537.31" width="1.71" height="0.29" fill="#8b92c9" />
<rect x="309.91" y="537.31" width="1.71" height="0.29" fill="#8b92c9" />
<rect x="312.04" y="533.60" width="1.71" height="4.00" fill="#8b92c9" />
<rect x="314.18" y="531.78" width="1.71" height="5.82" fill="#8b92c9" />
<rect x="316.31" y="534.72" width="1.71" height="2.88" fill="#8b92c9" />
<rect x="318.44" y="528.83" width="1.71" height="8.77" fill="#8b92c9" />
<rect x="320.58" y="537.02" width="1.71" height="0.58" fill="#8b92c9" />
<rect x="322.71" y="537.02" width="1.71" height="0.58" fill="#8b92c9" />
<rect x="324.84" y="527.39" width="1.71" height="10.21" fill="#8b92c9" />
<rect x="326.98" y="535.26" width="1.71" height="2.34" fill="#8b92c9" />
<rect x="329.11" y="529.12" width="1.71" height="8.48" fill="#8b92c9" />
<rect x="331.24" y="536.43" width="1.71" height="1.17" fill="#8b92c9" />
<rect x="333.37" y="480.32" width="1.71" height="57.28" fill="#8b92c9" />
<rect x="335.51" y="475.20" width="1.71" height="62.40" fill="#8b92c9" />
<rect x="337.64" y="494.08" width="1.71" height="43.52" fill="#8b92c9" />
<rect x="339.77" y="497.28" width="1.71" height="40.32" fill="#8b92c9" />
<rect x="341.91" y="481.60" width="1.71" height="56.00" fill="#8b92c9" />
<rect x="344.04" y="479.68" width="1.71" height="57.92" fill="#8b92c9" />
<rect x="346.17" y="483.52" width="1.71" height="54.08" fill="#8b92c9" />
<rect x="348.31" y="472.32" width="1.71" height="65.28" fill="#8b92c9" />
<rect x="350.44" y="468.80" width="1.71" height="68.80" fill="#8b92c9" />
<rect x="352.57" y="480.00" width="1.71" height="57.60" fill="#8b92c9" />
<rect x="354.70" y="496.48" width="1.71" height="41.12" fill="#8b92c9" />
<rect x="356.84" y="497.28" width="1.71" height="40.32" fill="#8b92c9" />
<rect x="358.97" y="491.52" width="1.71" height="46.08" fill="#8b92c9" />
<rect x="361.10" y="506.88" width="1.71" height="30.72" fill="#8b92c9" />
<rect x="363.24" y="497.28" width="1.71" height="40.32" fill="#8b92c9" />
<rect x="365.37" y="515.84" width="1.71" height="21.76" fill="#8b92c9" />
<rect x="367.50" y="491.52" width="1.71" height="46.08" fill="#8b92c9" />
<rect x="369.64" y="494.72" width="1.71" height="42.88" fill="#8b92c9" />
<rect x="371.77" y="480.32" width="1.71" height="57.28" fill="#8b92c9" />
<rect x="373.90" y="477.92" width="1.71" height="59.68" fill="#8b92c9" />
<rect x="376.03" y="477.92" width="1.71" height="59.68" fill="#8b92c9" />
<rect x="378.17" y="479.52" width="1.71" height="58.08" fill="#8b92c9" />
<rect x="380.30" y="468.16" width="1.71" height="69.44" fill="#8b92c9" />
<rect x="382.43" y="483.52" width="1.71" height="54.08" fill="#8b92c9" />
<rect x="384.57" y="486.72" width="1.71" height="50.88" fill="#8b92c9" />
<rect x="386.70" y="494.72" width="1.71" height="42.88" fill="#8b92c9" />
<rect x="388.83" y="491.52" width="1.71" height="46.08" fill="#8b92c9" />
<rect x="390.97" y="481.92" width="1.71" height="55.68" fill="#8b92c9" />
<rect x="393.10" y="481.12" width="1.71" height="56.48" fill="#8b92c9" />
<rect x="395.23" y="473.12" width="1.71" height="64.48" fill="#8b92c9" />
<rect x="397.36" y="461.12" width="1.71" height="76.48" fill="#8b92c9" />
<rect x="399.50" y="477.92" width="1.71" height="59.68" fill="#8b92c9" />
<rect x="401.63" y="482.72" width="1.71" height="54.88" fill="#8b92c9" />
<rect x="403.76" y="484.48" width="1.71" height="53.12" fill="#8b92c9" />
<rect x="405.90" y="480.32" width="1.71" height="57.28" fill="#8b92c9" />
<line x1="54.87" y1="527.60" x2="54.87" y2="530.80" stroke="#1c2158" stroke-width="0.5" />
<rect x="54.27" y="529.00" width="1.2" height="1.2" fill="#1c2158"/>
<rect x="54.27" y="530.40" width="1.2" height="1.2" fill="#1c2158"/>
<line x1="54.87" y1="528.96" x2="54.87" y2="529.60" stroke="#1c2158" stroke-width="0.5" />
<rect x="54.17" y="528.26" width="1.4" height="1.4" fill="#1c2158"/>
<line x1="57.00" y1="530.20" x2="57.00" y2="532.57" stroke="#1c2158" stroke-width="0.5" />
<rect x="56.40" y="531.08" width="1.2" height="1.2" fill="#1c2158"/>
<rect x="56.40" y="532.27" width="1.2" height="1.2" fill="#1c2158"/>
<line x1="59.13" y1="534.68" x2="59.13" y2="535.61" stroke="#1c2158" stroke-width="0.5" />
<rect x="58.53" y="534.66" width="1.2" height="1.2" fill="#1c2158"/>
<rect x="58.53" y="535.50" width="1.2" height="1.2" fill="#1c2158"/>
<rect x="60.67" y="535.84" width="1.2" height="1.4" fill="#1c2158"/>
<line x1="63.40" y1="533.40" x2="63.40" y2="534.74" stroke="#1c2158" stroke-width="0.5" />
<rect x="62.80" y="533.64" width="1.2" height="1.2" fill="#1c2158"/>
<rect x="62.80" y="534.58" width="1.2" height="1.2" fill="#1c2158"/>
<line x1="65.53" y1="531.20" x2="65.53" y2="533.25" stroke="#1c2158" stroke-width="0.5" />
<rect x="64.93" y="531.88" width="1.2" height="1.2" fill="#1c2158"/>
<rect x="64.93" y="532.99" width="1.2" height="1.2" fill="#1c2158"/>
<rect x="67.07" y="535.84" width="1.2" height="1.4" fill="#1c2158"/>
<rect x="69.20" y="536.16" width="1.2" height="1.4" fill="#1c2158"/>
<rect x="71.33" y="535.52" width="1.2" height="1.4" fill="#1c2158"/>
<line x1="74.06" y1="526.40" x2="74.06" y2="529.98" stroke="#1c2158" stroke-width="0.5" />
<rect x="73.47" y="528.04" width="1.2" height="1.2" fill="#1c2158"/>
<rect x="73.47" y="529.54" width="1.2" height="1.2" fill="#1c2158"/>
<line x1="76.20" y1="528.92" x2="76.20" y2="531.70" stroke="#1c2158" stroke-width="0.5" />
<rect x="75.60" y="530.06" width="1.2" height="1.2" fill="#1c2158"/>
<rect x="75.60" y="531.35" width="1.2" height="1.2" fill="#1c2158"/>
<rect x="77.73" y="536.64" width="1.2" height="1.4" fill="#1c2158"/>
<rect x="79.86" y="536.64" width="1.2" height="1.4" fill="#1c2158"/>
<rect x="82.00" y="535.52" width="1.2" height="1.4" fill="#1c2158"/>
<line x1="84.73" y1="533.76" x2="84.73" y2="534.99" stroke="#1c2158" stroke-width="0.5" />
<rect x="84.13" y="533.93" width="1.2" height="1.2" fill="#1c2158"/>
<rect x="84.13" y="534.84" width="1.2" height="1.2" fill="#1c2158"/>
<line x1="86.86" y1="523.80" x2="86.86" y2="528.22" stroke="#1c2158" stroke-width="0.5" />
<rect x="86.26" y="525.96" width="1.2" height="1.2" fill="#1c2158"/>
<rect x="86.26" y="527.66" width="1.2" height="1.2" fill="#1c2158"/>
<line x1="86.86" y1="524.80" x2="86.86" y2="526.56" stroke="#1c2158" stroke-width="0.5" />
<rect x="86.16" y="524.10" width="1.4" height="1.4" fill="#1c2158"/>
<line x1="89.00" y1="522.52" x2="89.00" y2="527.35" stroke="#1c2158" stroke-width="0.5" />
<rect x="88.40" y="524.94" width="1.2" height="1.2" fill="#1c2158"/>
<rect x="88.40" y="526.74" width="1.2" height="1.2" fill="#1c2158"/>
<line x1="89.00" y1="524.16" x2="89.00" y2="525.54" stroke="#1c2158" stroke-width="0.5" />
<rect x="88.30" y="523.46" width="1.4" height="1.4" fill="#1c2158"/>
<line x1="91.13" y1="530.20" x2="91.13" y2="532.57" stroke="#1c2158" stroke-width="0.5" />
<rect x="90.53" y="531.08" width="1.2" height="1.2" fill="#1c2158"/>
<rect x="90.53" y="532.27" width="1.2" height="1.2" fill="#1c2158"/>
<line x1="93.26" y1="530.80" x2="93.26" y2="532.98" stroke="#1c2158" stroke-width="0.5" />
<rect x="92.66" y="531.56" width="1.2" height="1.2" fill="#1c2158"/>
<rect x="92.66" y="532.70" width="1.2" height="1.2" fill="#1c2158"/>
<line x1="95.39" y1="530.20" x2="95.39" y2="532.57" stroke="#1c2158" stroke-width="0.5" />
<rect x="94.80" y="531.08" width="1.2" height="1.2" fill="#1c2158"/>
<rect x="94.80" y="532.27" width="1.2" height="1.2" fill="#1c2158"/>
<line x1="97.53" y1="527.60" x2="97.53" y2="530.80" stroke="#1c2158" stroke-width="0.5" />
<rect x="96.93" y="529.00" width="1.2" height="1.2" fill="#1c2158"/>
<rect x="96.93" y="530.40" width="1.2" height="1.2" fill="#1c2158"/>
<line x1="99.66" y1="530.80" x2="99.66" y2="532.98" stroke="#1c2158" stroke-width="0.5" />
<rect x="99.06" y="531.56" width="1.2" height="1.2" fill="#1c2158"/>
<rect x="99.06" y="532.70" width="1.2" height="1.2" fill="#1c2158"/>
<line x1="101.79" y1="527.60" x2="101.79" y2="530.80" stroke="#1c2158" stroke-width="0.5" />
<rect x="101.19" y="529.00" width="1.2" height="1.2" fill="#1c2158"/>
<rect x="101.19" y="530.40" width="1.2" height="1.2" fill="#1c2158"/>
<line x1="103.93" y1="523.20" x2="103.93" y2="527.81" stroke="#1c2158" stroke-width="0.5" />
<rect x="103.33" y="525.48" width="1.2" height="1.2" fill="#1c2158"/>
<rect x="103.33" y="527.23" width="1.2" height="1.2" fill="#1c2158"/>
<line x1="106.06" y1="526.40" x2="106.06" y2="529.98" stroke="#1c2158" stroke-width="0.5" />
<rect x="105.46" y="528.04" width="1.2" height="1.2" fill="#1c2158"/>
<rect x="105.46" y="529.54" width="1.2" height="1.2" fill="#1c2158"/>
<line x1="108.19" y1="529.60" x2="108.19" y2="532.16" stroke="#1c2158" stroke-width="0.5" />
<rect x="107.59" y="530.60" width="1.2" height="1.2" fill="#1c2158"/>
<rect x="107.59" y="531.84" width="1.2" height="1.2" fill="#1c2158"/>
<line x1="110.33" y1="530.20" x2="110.33" y2="532.57" stroke="#1c2158" stroke-width="0.5" />
<rect x="109.73" y="531.08" width="1.2" height="1.2" fill="#1c2158"/>
<rect x="109.73" y="532.27" width="1.2" height="1.2" fill="#1c2158"/>
<line x1="110.33" y1="522.24" x2="110.33" y2="531.68" stroke="#1c2158" stroke-width="0.5" />
<rect x="109.63" y="521.54" width="1.4" height="1.4" fill="#1c2158"/>
<rect x="111.86" y="534.96" width="1.2" height="1.4" fill="#1c2158"/>
<line x1="114.59" y1="534.00" x2="114.59" y2="535.15" stroke="#1c2158" stroke-width="0.5" />
<rect x="113.99" y="534.12" width="1.2" height="1.2" fill="#1c2158"/>
<rect x="113.99" y="535.01" width="1.2" height="1.2" fill="#1c2158"/>
<line x1="116.72" y1="530.80" x2="116.72" y2="532.98" stroke="#1c2158" stroke-width="0.5" />
<rect x="116.12" y="531.56" width="1.2" height="1.2" fill="#1c2158"/>
<rect x="116.12" y="532.70" width="1.2" height="1.2" fill="#1c2158"/>
<line x1="118.86" y1="532.00" x2="118.86" y2="533.79" stroke="#1c2158" stroke-width="0.5" />
<rect x="118.26" y="532.52" width="1.2" height="1.2" fill="#1c2158"/>
<rect x="118.26" y="533.57" width="1.2" height="1.2" fill="#1c2158"/>
<line x1="120.99" y1="530.80" x2="120.99" y2="532.98" stroke="#1c2158" stroke-width="0.5" />
<rect x="120.39" y="531.56" width="1.2" height="1.2" fill="#1c2158"/>
<rect x="120.39" y="532.70" width="1.2" height="1.2" fill="#1c2158"/>
<line x1="123.12" y1="527.00" x2="123.12" y2="530.39" stroke="#1c2158" stroke-width="0.5" />
<rect x="122.52" y="528.52" width="1.2" height="1.2" fill="#1c2158"/>
<rect x="122.52" y="529.97" width="1.2" height="1.2" fill="#1c2158"/>
<line x1="123.12" y1="523.20" x2="123.12" y2="529.12" stroke="#1c2158" stroke-width="0.5" />
<rect x="122.42" y="522.50" width="1.4" height="1.4" fill="#1c2158"/>
<line x1="125.26" y1="528.92" x2="125.26" y2="531.70" stroke="#1c2158" stroke-width="0.5" />
<rect x="124.66" y="530.06" width="1.2" height="1.2" fill="#1c2158"/>
<rect x="124.66" y="531.35" width="1.2" height="1.2" fill="#1c2158"/>
<rect x="126.79" y="535.52" width="1.2" height="1.4" fill="#1c2158"/>
<line x1="129.52" y1="534.68" x2="129.52" y2="535.61" stroke="#1c2158" stroke-width="0.5" />
<rect x="128.92" y="534.66" width="1.2" height="1.2" fill="#1c2158"/>
<rect x="128.92" y="535.50" width="1.2" height="1.2" fill="#1c2158"/>
<rect x="131.06" y="536.48" width="1.2" height="1.4" fill="#1c2158"/>
<rect x="133.19" y="536.48" width="1.2" height="1.4" fill="#1c2158"/>
<rect x="135.32" y="536.48" width="1.2" height="1.4" fill="#1c2158"/>
<rect x="137.46" y="536.48" width="1.2" height="1.4" fill="#1c2158"/>
<rect x="139.59" y="536.48" width="1.2" height="1.4" fill="#1c2158"/>
<line x1="142.32" y1="530.80" x2="142.32" y2="532.98" stroke="#1c2158" stroke-width="0.5" />
<rect x="141.72" y="531.56" width="1.2" height="1.2" fill="#1c2158"/>
<rect x="141.72" y="532.70" width="1.2" height="1.2" fill="#1c2158"/>
<rect x="143.85" y="536.48" width="1.2" height="1.4" fill="#1c2158"/>
<line x1="146.59" y1="535.04" x2="146.59" y2="535.86" stroke="#1c2158" stroke-width="0.5" />
<rect x="145.99" y="534.95" width="1.2" height="1.2" fill="#1c2158"/>
<rect x="145.99" y="535.76" width="1.2" height="1.2" fill="#1c2158"/>
<line x1="148.72" y1="534.00" x2="148.72" y2="535.15" stroke="#1c2158" stroke-width="0.5" />
<rect x="148.12" y="534.12" width="1.2" height="1.2" fill="#1c2158"/>
<rect x="148.12" y="535.01" width="1.2" height="1.2" fill="#1c2158"/>
<line x1="150.85" y1="534.68" x2="150.85" y2="535.61" stroke="#1c2158" stroke-width="0.5" />
<rect x="150.25" y="534.66" width="1.2" height="1.2" fill="#1c2158"/>
<rect x="150.25" y="535.50" width="1.2" height="1.2" fill="#1c2158"/>
<line x1="152.99" y1="532.80" x2="152.99" y2="534.34" stroke="#1c2158" stroke-width="0.5" />
<rect x="152.39" y="533.16" width="1.2" height="1.2" fill="#1c2158"/>
<rect x="152.39" y="534.14" width="1.2" height="1.2" fill="#1c2158"/>
<rect x="154.52" y="535.52" width="1.2" height="1.4" fill="#1c2158"/>
<rect x="156.65" y="536.48" width="1.2" height="1.4" fill="#1c2158"/>
<line x1="159.38" y1="527.60" x2="159.38" y2="530.80" stroke="#1c2158" stroke-width="0.5" />
<rect x="158.78" y="529.00" width="1.2" height="1.2" fill="#1c2158"/>
<rect x="158.78" y="530.40" width="1.2" height="1.2" fill="#1c2158"/>
<line x1="161.52" y1="527.00" x2="161.52" y2="530.39" stroke="#1c2158" stroke-width="0.5" />
<rect x="160.92" y="528.52" width="1.2" height="1.2" fill="#1c2158"/>
<rect x="160.92" y="529.97" width="1.2" height="1.2" fill="#1c2158"/>
<line x1="161.52" y1="523.52" x2="161.52" y2="529.12" stroke="#1c2158" stroke-width="0.5" />
<rect x="160.82" y="522.82" width="1.4" height="1.4" fill="#1c2158"/>
<line x1="163.65" y1="532.00" x2="163.65" y2="533.79" stroke="#1c2158" stroke-width="0.5" />
<rect x="163.05" y="532.52" width="1.2" height="1.2" fill="#1c2158"/>
<rect x="163.05" y="533.57" width="1.2" height="1.2" fill="#1c2158"/>
<line x1="165.78" y1="534.68" x2="165.78" y2="535.61" stroke="#1c2158" stroke-width="0.5" />
<rect x="165.18" y="534.66" width="1.2" height="1.2" fill="#1c2158"/>
<rect x="165.18" y="535.50" width="1.2" height="1.2" fill="#1c2158"/>
<rect x="167.32" y="535.52" width="1.2" height="1.4" fill="#1c2158"/>
<rect x="169.45" y="534.96" width="1.2" height="1.4" fill="#1c2158"/>
<line x1="172.18" y1="526.40" x2="172.18" y2="529.98" stroke="#1c2158" stroke-width="0.5" />
<rect x="171.58" y="528.04" width="1.2" height="1.2" fill="#1c2158"/>
<rect x="171.58" y="529.54" width="1.2" height="1.2" fill="#1c2158"/>
<rect x="173.72" y="536.48" width="1.2" height="1.4" fill="#1c2158"/>
<rect x="175.85" y="536.70" width="1.2" height="1.4" fill="#1c2158"/>
<line x1="178.58" y1="526.40" x2="178.58" y2="529.98" stroke="#1c2158" stroke-width="0.5" />
<rect x="177.98" y="528.04" width="1.2" height="1.2" fill="#1c2158"/>
<rect x="177.98" y="529.54" width="1.2" height="1.2" fill="#1c2158"/>
<line x1="180.72" y1="532.00" x2="180.72" y2="533.79" stroke="#1c2158" stroke-width="0.5" />
<rect x="180.12" y="532.52" width="1.2" height="1.2" fill="#1c2158"/>
<rect x="180.12" y="533.57" width="1.2" height="1.2" fill="#1c2158"/>
<line x1="182.85" y1="528.64" x2="182.85" y2="531.51" stroke="#1c2158" stroke-width="0.5" />
<rect x="182.25" y="529.83" width="1.2" height="1.2" fill="#1c2158"/>
<rect x="182.25" y="531.15" width="1.2" height="1.2" fill="#1c2158"/>
<line x1="184.98" y1="534.68" x2="184.98" y2="535.61" stroke="#1c2158" stroke-width="0.5" />
<rect x="184.38" y="534.66" width="1.2" height="1.2" fill="#1c2158"/>
<rect x="184.38" y="535.50" width="1.2" height="1.2" fill="#1c2158"/>
<line x1="187.11" y1="529.80" x2="187.11" y2="532.30" stroke="#1c2158" stroke-width="0.5" />
<rect x="186.51" y="530.76" width="1.2" height="1.2" fill="#1c2158"/>
<rect x="186.51" y="531.98" width="1.2" height="1.2" fill="#1c2158"/>
<rect x="188.65" y="536.16" width="1.2" height="1.4" fill="#1c2158"/>
<rect x="190.78" y="536.70" width="1.2" height="1.4" fill="#1c2158"/>
<rect x="192.91" y="536.70" width="1.2" height="1.4" fill="#1c2158"/>
<rect x="195.05" y="536.70" width="1.2" height="1.4" fill="#1c2158"/>
<rect x="197.18" y="536.70" width="1.2" height="1.4" fill="#1c2158"/>
<line x1="199.91" y1="522.00" x2="199.91" y2="526.99" stroke="#1c2158" stroke-width="0.5" />
<rect x="199.31" y="524.52" width="1.2" height="1.2" fill="#1c2158"/>
<rect x="199.31" y="526.37" width="1.2" height="1.2" fill="#1c2158"/>
<line x1="202.05" y1="525.08" x2="202.05" y2="529.09" stroke="#1c2158" stroke-width="0.5" />
<rect x="201.45" y="526.98" width="1.2" height="1.2" fill="#1c2158"/>
<rect x="201.45" y="528.59" width="1.2" height="1.2" fill="#1c2158"/>
<line x1="202.05" y1="518.40" x2="202.05" y2="527.58" stroke="#1c2158" stroke-width="0.5" />
<rect x="201.35" y="517.70" width="1.4" height="1.4" fill="#1c2158"/>
<line x1="204.18" y1="533.40" x2="204.18" y2="534.74" stroke="#1c2158" stroke-width="0.5" />
<rect x="203.58" y="533.64" width="1.2" height="1.2" fill="#1c2158"/>
<rect x="203.58" y="534.58" width="1.2" height="1.2" fill="#1c2158"/>
<rect x="205.71" y="536.61" width="1.2" height="1.4" fill="#1c2158"/>
<rect x="207.84" y="536.70" width="1.2" height="1.4" fill="#1c2158"/>
<rect x="209.98" y="536.61" width="1.2" height="1.4" fill="#1c2158"/>
<rect x="212.11" y="536.16" width="1.2" height="1.4" fill="#1c2158"/>
<line x1="214.84" y1="527.60" x2="214.84" y2="530.80" stroke="#1c2158" stroke-width="0.5" />
<rect x="214.24" y="529.00" width="1.2" height="1.2" fill="#1c2158"/>
<rect x="214.24" y="530.40" width="1.2" height="1.2" fill="#1c2158"/>
<rect x="216.38" y="534.96" width="1.2" height="1.4" fill="#1c2158"/>
<rect x="218.51" y="536.16" width="1.2" height="1.4" fill="#1c2158"/>
<rect x="220.64" y="536.48" width="1.2" height="1.4" fill="#1c2158"/>
<line x1="223.38" y1="525.72" x2="223.38" y2="529.52" stroke="#1c2158" stroke-width="0.5" />
<rect x="222.78" y="527.50" width="1.2" height="1.2" fill="#1c2158"/>
<rect x="222.78" y="529.05" width="1.2" height="1.2" fill="#1c2158"/>
<line x1="223.38" y1="525.12" x2="223.38" y2="528.10" stroke="#1c2158" stroke-width="0.5" />
<rect x="222.68" y="524.42" width="1.4" height="1.4" fill="#1c2158"/>
<line x1="225.51" y1="534.00" x2="225.51" y2="535.15" stroke="#1c2158" stroke-width="0.5" />
<rect x="224.91" y="534.12" width="1.2" height="1.2" fill="#1c2158"/>
<rect x="224.91" y="535.01" width="1.2" height="1.2" fill="#1c2158"/>
<line x1="227.64" y1="534.00" x2="227.64" y2="535.15" stroke="#1c2158" stroke-width="0.5" />
<rect x="227.04" y="534.12" width="1.2" height="1.2" fill="#1c2158"/>
<rect x="227.04" y="535.01" width="1.2" height="1.2" fill="#1c2158"/>
<line x1="229.77" y1="530.20" x2="229.77" y2="532.57" stroke="#1c2158" stroke-width="0.5" />
<rect x="229.17" y="531.08" width="1.2" height="1.2" fill="#1c2158"/>
<rect x="229.17" y="532.27" width="1.2" height="1.2" fill="#1c2158"/>
<rect x="231.31" y="534.96" width="1.2" height="1.4" fill="#1c2158"/>
<line x1="234.04" y1="526.40" x2="234.04" y2="529.98" stroke="#1c2158" stroke-width="0.5" />
<rect x="233.44" y="528.04" width="1.2" height="1.2" fill="#1c2158"/>
<rect x="233.44" y="529.54" width="1.2" height="1.2" fill="#1c2158"/>
<line x1="236.17" y1="532.40" x2="236.17" y2="534.06" stroke="#1c2158" stroke-width="0.5" />
<rect x="235.57" y="532.84" width="1.2" height="1.2" fill="#1c2158"/>
<rect x="235.57" y="533.86" width="1.2" height="1.2" fill="#1c2158"/>
<line x1="236.17" y1="525.76" x2="236.17" y2="533.44" stroke="#1c2158" stroke-width="0.5" />
<rect x="235.47" y="525.06" width="1.4" height="1.4" fill="#1c2158"/>
<line x1="238.31" y1="533.40" x2="238.31" y2="534.74" stroke="#1c2158" stroke-width="0.5" />
<rect x="237.71" y="533.64" width="1.2" height="1.2" fill="#1c2158"/>
<rect x="237.71" y="534.58" width="1.2" height="1.2" fill="#1c2158"/>
<line x1="240.44" y1="532.80" x2="240.44" y2="534.34" stroke="#1c2158" stroke-width="0.5" />
<rect x="239.84" y="533.16" width="1.2" height="1.2" fill="#1c2158"/>
<rect x="239.84" y="534.14" width="1.2" height="1.2" fill="#1c2158"/>
<line x1="242.57" y1="530.80" x2="242.57" y2="532.98" stroke="#1c2158" stroke-width="0.5" />
<rect x="241.97" y="531.56" width="1.2" height="1.2" fill="#1c2158"/>
<rect x="241.97" y="532.70" width="1.2" height="1.2" fill="#1c2158"/>
<line x1="244.71" y1="528.28" x2="244.71" y2="531.26" stroke="#1c2158" stroke-width="0.5" />
<rect x="244.11" y="529.54" width="1.2" height="1.2" fill="#1c2158"/>
<rect x="244.11" y="530.89" width="1.2" height="1.2" fill="#1c2158"/>
<line x1="246.84" y1="530.20" x2="246.84" y2="532.57" stroke="#1c2158" stroke-width="0.5" />
<rect x="246.24" y="531.08" width="1.2" height="1.2" fill="#1c2158"/>
<rect x="246.24" y="532.27" width="1.2" height="1.2" fill="#1c2158"/>
<line x1="248.97" y1="526.40" x2="248.97" y2="529.98" stroke="#1c2158" stroke-width="0.5" />
<rect x="248.37" y="528.04" width="1.2" height="1.2" fill="#1c2158"/>
<rect x="248.37" y="529.54" width="1.2" height="1.2" fill="#1c2158"/>
<line x1="251.10" y1="522.80" x2="251.10" y2="527.54" stroke="#1c2158" stroke-width="0.5" />
<rect x="250.50" y="525.16" width="1.2" height="1.2" fill="#1c2158"/>
<rect x="250.50" y="526.94" width="1.2" height="1.2" fill="#1c2158"/>
<line x1="251.10" y1="521.92" x2="251.10" y2="525.76" stroke="#1c2158" stroke-width="0.5" />
<rect x="250.40" y="521.22" width="1.4" height="1.4" fill="#1c2158"/>
<line x1="253.24" y1="533.40" x2="253.24" y2="534.74" stroke="#1c2158" stroke-width="0.5" />
<rect x="252.64" y="533.64" width="1.2" height="1.2" fill="#1c2158"/>
<rect x="252.64" y="534.58" width="1.2" height="1.2" fill="#1c2158"/>
<line x1="255.37" y1="528.28" x2="255.37" y2="531.26" stroke="#1c2158" stroke-width="0.5" />
<rect x="254.77" y="529.54" width="1.2" height="1.2" fill="#1c2158"/>
<rect x="254.77" y="530.89" width="1.2" height="1.2" fill="#1c2158"/>
<line x1="257.50" y1="532.80" x2="257.50" y2="534.34" stroke="#1c2158" stroke-width="0.5" />
<rect x="256.90" y="533.16" width="1.2" height="1.2" fill="#1c2158"/>
<rect x="256.90" y="534.14" width="1.2" height="1.2" fill="#1c2158"/>
<line x1="257.50" y1="526.56" x2="257.50" y2="533.76" stroke="#1c2158" stroke-width="0.5" />
<rect x="256.80" y="525.86" width="1.4" height="1.4" fill="#1c2158"/>
<line x1="259.64" y1="531.48" x2="259.64" y2="533.44" stroke="#1c2158" stroke-width="0.5" />
<rect x="259.04" y="532.10" width="1.2" height="1.2" fill="#1c2158"/>
<rect x="259.04" y="533.19" width="1.2" height="1.2" fill="#1c2158"/>
<rect x="261.17" y="536.61" width="1.2" height="1.4" fill="#1c2158"/>
<rect x="263.30" y="536.61" width="1.2" height="1.4" fill="#1c2158"/>
<rect x="265.43" y="536.54" width="1.2" height="1.4" fill="#1c2158"/>
<rect x="267.57" y="536.61" width="1.2" height="1.4" fill="#1c2158"/>
<rect x="269.70" y="536.61" width="1.2" height="1.4" fill="#1c2158"/>
<rect x="271.83" y="536.61" width="1.2" height="1.4" fill="#1c2158"/>
<rect x="273.97" y="536.61" width="1.2" height="1.4" fill="#1c2158"/>
<rect x="276.10" y="534.96" width="1.2" height="1.4" fill="#1c2158"/>
<line x1="278.83" y1="518.80" x2="278.83" y2="524.82" stroke="#1c2158" stroke-width="0.5" />
<rect x="278.23" y="521.96" width="1.2" height="1.2" fill="#1c2158"/>
<rect x="278.23" y="524.06" width="1.2" height="1.2" fill="#1c2158"/>
<line x1="280.97" y1="530.20" x2="280.97" y2="532.57" stroke="#1c2158" stroke-width="0.5" />
<rect x="280.37" y="531.08" width="1.2" height="1.2" fill="#1c2158"/>
<rect x="280.37" y="532.27" width="1.2" height="1.2" fill="#1c2158"/>
<line x1="283.10" y1="534.00" x2="283.10" y2="535.15" stroke="#1c2158" stroke-width="0.5" />
<rect x="282.50" y="534.12" width="1.2" height="1.2" fill="#1c2158"/>
<rect x="282.50" y="535.01" width="1.2" height="1.2" fill="#1c2158"/>
<line x1="285.23" y1="528.92" x2="285.23" y2="531.70" stroke="#1c2158" stroke-width="0.5" />
<rect x="284.63" y="530.06" width="1.2" height="1.2" fill="#1c2158"/>
<rect x="284.63" y="531.35" width="1.2" height="1.2" fill="#1c2158"/>
<line x1="287.37" y1="523.60" x2="287.37" y2="528.08" stroke="#1c2158" stroke-width="0.5" />
<rect x="286.76" y="525.80" width="1.2" height="1.2" fill="#1c2158"/>
<rect x="286.76" y="527.52" width="1.2" height="1.2" fill="#1c2158"/>
<line x1="287.37" y1="522.88" x2="287.37" y2="526.40" stroke="#1c2158" stroke-width="0.5" />
<rect x="286.67" y="522.18" width="1.4" height="1.4" fill="#1c2158"/>
<line x1="289.50" y1="530.20" x2="289.50" y2="532.57" stroke="#1c2158" stroke-width="0.5" />
<rect x="288.90" y="531.08" width="1.2" height="1.2" fill="#1c2158"/>
<rect x="288.90" y="532.27" width="1.2" height="1.2" fill="#1c2158"/>
<rect x="291.03" y="535.52" width="1.2" height="1.4" fill="#1c2158"/>
<line x1="293.76" y1="531.48" x2="293.76" y2="533.44" stroke="#1c2158" stroke-width="0.5" />
<rect x="293.16" y="532.10" width="1.2" height="1.2" fill="#1c2158"/>
<rect x="293.16" y="533.19" width="1.2" height="1.2" fill="#1c2158"/>
<rect x="295.30" y="536.48" width="1.2" height="1.4" fill="#1c2158"/>
<line x1="298.03" y1="523.80" x2="298.03" y2="528.22" stroke="#1c2158" stroke-width="0.5" />
<rect x="297.43" y="525.96" width="1.2" height="1.2" fill="#1c2158"/>
<rect x="297.43" y="527.66" width="1.2" height="1.2" fill="#1c2158"/>
<line x1="300.16" y1="528.00" x2="300.16" y2="531.07" stroke="#1c2158" stroke-width="0.5" />
<rect x="299.56" y="529.32" width="1.2" height="1.2" fill="#1c2158"/>
<rect x="299.56" y="530.69" width="1.2" height="1.2" fill="#1c2158"/>
<line x1="302.30" y1="531.60" x2="302.30" y2="533.52" stroke="#1c2158" stroke-width="0.5" />
<rect x="301.70" y="532.20" width="1.2" height="1.2" fill="#1c2158"/>
<rect x="301.70" y="533.28" width="1.2" height="1.2" fill="#1c2158"/>
<line x1="304.43" y1="533.40" x2="304.43" y2="534.74" stroke="#1c2158" stroke-width="0.5" />
<rect x="303.83" y="533.64" width="1.2" height="1.2" fill="#1c2158"/>
<rect x="303.83" y="534.58" width="1.2" height="1.2" fill="#1c2158"/>
<rect x="305.96" y="535.20" width="1.2" height="1.4" fill="#1c2158"/>
<rect x="308.09" y="536.51" width="1.2" height="1.4" fill="#1c2158"/>
<rect x="310.23" y="536.51" width="1.2" height="1.4" fill="#1c2158"/>
<line x1="312.96" y1="532.60" x2="312.96" y2="534.20" stroke="#1c2158" stroke-width="0.5" />
<rect x="312.36" y="533.00" width="1.2" height="1.2" fill="#1c2158"/>
<rect x="312.36" y="534.00" width="1.2" height="1.2" fill="#1c2158"/>
<line x1="315.09" y1="530.32" x2="315.09" y2="532.65" stroke="#1c2158" stroke-width="0.5" />
<rect x="314.49" y="531.18" width="1.2" height="1.2" fill="#1c2158"/>
<rect x="314.49" y="532.36" width="1.2" height="1.2" fill="#1c2158"/>
<line x1="317.23" y1="534.00" x2="317.23" y2="535.15" stroke="#1c2158" stroke-width="0.5" />
<rect x="316.63" y="534.12" width="1.2" height="1.2" fill="#1c2158"/>
<rect x="316.63" y="535.01" width="1.2" height="1.2" fill="#1c2158"/>
<line x1="319.36" y1="526.64" x2="319.36" y2="530.15" stroke="#1c2158" stroke-width="0.5" />
<rect x="318.76" y="528.23" width="1.2" height="1.2" fill="#1c2158"/>
<rect x="318.76" y="529.71" width="1.2" height="1.2" fill="#1c2158"/>
<rect x="320.89" y="536.22" width="1.2" height="1.4" fill="#1c2158"/>
<rect x="323.03" y="536.22" width="1.2" height="1.4" fill="#1c2158"/>
<line x1="325.76" y1="524.84" x2="325.76" y2="528.92" stroke="#1c2158" stroke-width="0.5" />
<rect x="325.16" y="526.79" width="1.2" height="1.2" fill="#1c2158"/>
<rect x="325.16" y="528.41" width="1.2" height="1.2" fill="#1c2158"/>
<line x1="327.89" y1="534.68" x2="327.89" y2="535.61" stroke="#1c2158" stroke-width="0.5" />
<rect x="327.29" y="534.66" width="1.2" height="1.2" fill="#1c2158"/>
<rect x="327.29" y="535.50" width="1.2" height="1.2" fill="#1c2158"/>
<line x1="330.02" y1="527.00" x2="330.02" y2="530.39" stroke="#1c2158" stroke-width="0.5" />
<rect x="329.42" y="528.52" width="1.2" height="1.2" fill="#1c2158"/>
<rect x="329.42" y="529.97" width="1.2" height="1.2" fill="#1c2158"/>
<rect x="331.56" y="535.63" width="1.2" height="1.4" fill="#1c2158"/>
<line x1="334.29" y1="476.88" x2="334.29" y2="483.76" stroke="#1c2158" stroke-width="0.5" />
<rect x="333.74" y="480.66" width="1.1" height="1.0" fill="#1c2158"/>
<rect x="333.74" y="481.48" width="1.1" height="1.0" fill="#1c2158"/>
<rect x="333.74" y="481.85" width="1.1" height="1.0" fill="#1c2158"/>
<line x1="336.42" y1="471.46" x2="336.42" y2="478.94" stroke="#1c2158" stroke-width="0.5" />
<rect x="335.87" y="478.01" width="1.1" height="1.0" fill="#1c2158"/>
<rect x="335.87" y="476.50" width="1.1" height="1.0" fill="#1c2158"/>
<rect x="335.87" y="477.86" width="1.1" height="1.0" fill="#1c2158"/>
<line x1="338.56" y1="491.47" x2="338.56" y2="496.69" stroke="#1c2158" stroke-width="0.5" />
<rect x="338.01" y="491.12" width="1.1" height="1.0" fill="#1c2158"/>
<rect x="338.01" y="493.40" width="1.1" height="1.0" fill="#1c2158"/>
<rect x="338.01" y="495.90" width="1.1" height="1.0" fill="#1c2158"/>
<line x1="340.69" y1="494.86" x2="340.69" y2="499.70" stroke="#1c2158" stroke-width="0.5" />
<rect x="340.14" y="497.50" width="1.1" height="1.0" fill="#1c2158"/>
<rect x="340.14" y="498.72" width="1.1" height="1.0" fill="#1c2158"/>
<rect x="340.14" y="494.91" width="1.1" height="1.0" fill="#1c2158"/>
<line x1="342.82" y1="478.24" x2="342.82" y2="484.96" stroke="#1c2158" stroke-width="0.5" />
<rect x="342.27" y="480.89" width="1.1" height="1.0" fill="#1c2158"/>
<rect x="342.27" y="479.40" width="1.1" height="1.0" fill="#1c2158"/>
<rect x="342.27" y="481.39" width="1.1" height="1.0" fill="#1c2158"/>
<line x1="344.96" y1="476.20" x2="344.96" y2="483.16" stroke="#1c2158" stroke-width="0.5" />
<rect x="344.41" y="479.69" width="1.1" height="1.0" fill="#1c2158"/>
<rect x="344.41" y="475.80" width="1.1" height="1.0" fill="#1c2158"/>
<rect x="344.41" y="477.21" width="1.1" height="1.0" fill="#1c2158"/>
<line x1="347.09" y1="480.28" x2="347.09" y2="486.76" stroke="#1c2158" stroke-width="0.5" />
<rect x="346.54" y="481.59" width="1.1" height="1.0" fill="#1c2158"/>
<rect x="346.54" y="485.72" width="1.1" height="1.0" fill="#1c2158"/>
<rect x="346.54" y="484.74" width="1.1" height="1.0" fill="#1c2158"/>
<line x1="349.22" y1="468.40" x2="349.22" y2="476.24" stroke="#1c2158" stroke-width="0.5" />
<rect x="348.67" y="469.15" width="1.1" height="1.0" fill="#1c2158"/>
<rect x="348.67" y="474.15" width="1.1" height="1.0" fill="#1c2158"/>
<rect x="348.67" y="468.99" width="1.1" height="1.0" fill="#1c2158"/>
<line x1="351.35" y1="464.67" x2="351.35" y2="472.93" stroke="#1c2158" stroke-width="0.5" />
<rect x="350.80" y="469.27" width="1.1" height="1.0" fill="#1c2158"/>
<rect x="350.80" y="465.22" width="1.1" height="1.0" fill="#1c2158"/>
<rect x="350.80" y="464.19" width="1.1" height="1.0" fill="#1c2158"/>
<line x1="353.49" y1="476.54" x2="353.49" y2="483.46" stroke="#1c2158" stroke-width="0.5" />
<rect x="352.94" y="482.07" width="1.1" height="1.0" fill="#1c2158"/>
<rect x="352.94" y="477.49" width="1.1" height="1.0" fill="#1c2158"/>
<rect x="352.94" y="477.53" width="1.1" height="1.0" fill="#1c2158"/>
<line x1="355.62" y1="494.01" x2="355.62" y2="498.95" stroke="#1c2158" stroke-width="0.5" />
<rect x="355.07" y="498.36" width="1.1" height="1.0" fill="#1c2158"/>
<rect x="355.07" y="497.82" width="1.1" height="1.0" fill="#1c2158"/>
<rect x="355.07" y="494.94" width="1.1" height="1.0" fill="#1c2158"/>
<line x1="357.75" y1="494.86" x2="357.75" y2="499.70" stroke="#1c2158" stroke-width="0.5" />
<rect x="357.20" y="499.01" width="1.1" height="1.0" fill="#1c2158"/>
<rect x="357.20" y="496.97" width="1.1" height="1.0" fill="#1c2158"/>
<rect x="357.20" y="497.64" width="1.1" height="1.0" fill="#1c2158"/>
<line x1="359.89" y1="488.76" x2="359.89" y2="494.28" stroke="#1c2158" stroke-width="0.5" />
<rect x="359.34" y="489.39" width="1.1" height="1.0" fill="#1c2158"/>
<rect x="359.34" y="493.46" width="1.1" height="1.0" fill="#1c2158"/>
<rect x="359.34" y="492.07" width="1.1" height="1.0" fill="#1c2158"/>
<line x1="362.02" y1="505.04" x2="362.02" y2="508.72" stroke="#1c2158" stroke-width="0.5" />
<rect x="361.47" y="508.10" width="1.1" height="1.0" fill="#1c2158"/>
<rect x="361.47" y="507.83" width="1.1" height="1.0" fill="#1c2158"/>
<rect x="361.47" y="505.64" width="1.1" height="1.0" fill="#1c2158"/>
<line x1="364.15" y1="494.86" x2="364.15" y2="499.70" stroke="#1c2158" stroke-width="0.5" />
<rect x="363.60" y="496.11" width="1.1" height="1.0" fill="#1c2158"/>
<rect x="363.60" y="495.16" width="1.1" height="1.0" fill="#1c2158"/>
<rect x="363.60" y="495.07" width="1.1" height="1.0" fill="#1c2158"/>
<line x1="366.29" y1="514.53" x2="366.29" y2="517.15" stroke="#1c2158" stroke-width="0.5" />
<rect x="365.74" y="514.20" width="1.1" height="1.0" fill="#1c2158"/>
<rect x="365.74" y="514.82" width="1.1" height="1.0" fill="#1c2158"/>
<rect x="365.74" y="515.61" width="1.1" height="1.0" fill="#1c2158"/>
<line x1="368.42" y1="488.76" x2="368.42" y2="494.28" stroke="#1c2158" stroke-width="0.5" />
<rect x="367.87" y="488.27" width="1.1" height="1.0" fill="#1c2158"/>
<rect x="367.87" y="492.00" width="1.1" height="1.0" fill="#1c2158"/>
<rect x="367.87" y="490.12" width="1.1" height="1.0" fill="#1c2158"/>
<line x1="370.55" y1="492.15" x2="370.55" y2="497.29" stroke="#1c2158" stroke-width="0.5" />
<rect x="370.00" y="493.24" width="1.1" height="1.0" fill="#1c2158"/>
<rect x="370.00" y="495.86" width="1.1" height="1.0" fill="#1c2158"/>
<rect x="370.00" y="494.12" width="1.1" height="1.0" fill="#1c2158"/>
<line x1="372.69" y1="476.88" x2="372.69" y2="483.76" stroke="#1c2158" stroke-width="0.5" />
<rect x="372.13" y="478.55" width="1.1" height="1.0" fill="#1c2158"/>
<rect x="372.13" y="479.69" width="1.1" height="1.0" fill="#1c2158"/>
<rect x="372.13" y="481.23" width="1.1" height="1.0" fill="#1c2158"/>
<line x1="374.82" y1="474.34" x2="374.82" y2="481.50" stroke="#1c2158" stroke-width="0.5" />
<rect x="374.27" y="474.25" width="1.1" height="1.0" fill="#1c2158"/>
<rect x="374.27" y="480.82" width="1.1" height="1.0" fill="#1c2158"/>
<rect x="374.27" y="474.00" width="1.1" height="1.0" fill="#1c2158"/>
<line x1="376.95" y1="474.34" x2="376.95" y2="481.50" stroke="#1c2158" stroke-width="0.5" />
<rect x="376.40" y="479.21" width="1.1" height="1.0" fill="#1c2158"/>
<rect x="376.40" y="479.89" width="1.1" height="1.0" fill="#1c2158"/>
<rect x="376.40" y="473.97" width="1.1" height="1.0" fill="#1c2158"/>
<line x1="379.08" y1="476.04" x2="379.08" y2="483.00" stroke="#1c2158" stroke-width="0.5" />
<rect x="378.53" y="481.03" width="1.1" height="1.0" fill="#1c2158"/>
<rect x="378.53" y="478.09" width="1.1" height="1.0" fill="#1c2158"/>
<rect x="378.53" y="479.57" width="1.1" height="1.0" fill="#1c2158"/>
<line x1="381.22" y1="463.99" x2="381.22" y2="472.33" stroke="#1c2158" stroke-width="0.5" />
<rect x="380.67" y="463.57" width="1.1" height="1.0" fill="#1c2158"/>
<rect x="380.67" y="463.88" width="1.1" height="1.0" fill="#1c2158"/>
<rect x="380.67" y="465.00" width="1.1" height="1.0" fill="#1c2158"/>
<line x1="383.35" y1="480.28" x2="383.35" y2="486.76" stroke="#1c2158" stroke-width="0.5" />
<rect x="382.80" y="485.97" width="1.1" height="1.0" fill="#1c2158"/>
<rect x="382.80" y="481.05" width="1.1" height="1.0" fill="#1c2158"/>
<rect x="382.80" y="484.68" width="1.1" height="1.0" fill="#1c2158"/>
<line x1="385.48" y1="483.67" x2="385.48" y2="489.77" stroke="#1c2158" stroke-width="0.5" />
<rect x="384.93" y="488.84" width="1.1" height="1.0" fill="#1c2158"/>
<rect x="384.93" y="488.92" width="1.1" height="1.0" fill="#1c2158"/>
<rect x="384.93" y="485.27" width="1.1" height="1.0" fill="#1c2158"/>
<line x1="387.62" y1="492.15" x2="387.62" y2="497.29" stroke="#1c2158" stroke-width="0.5" />
<rect x="387.07" y="493.47" width="1.1" height="1.0" fill="#1c2158"/>
<rect x="387.07" y="494.35" width="1.1" height="1.0" fill="#1c2158"/>
<rect x="387.07" y="495.64" width="1.1" height="1.0" fill="#1c2158"/>
<line x1="389.75" y1="488.76" x2="389.75" y2="494.28" stroke="#1c2158" stroke-width="0.5" />
<rect x="389.20" y="488.85" width="1.1" height="1.0" fill="#1c2158"/>
<rect x="389.20" y="492.39" width="1.1" height="1.0" fill="#1c2158"/>
<rect x="389.20" y="492.66" width="1.1" height="1.0" fill="#1c2158"/>
<line x1="391.88" y1="478.58" x2="391.88" y2="485.26" stroke="#1c2158" stroke-width="0.5" />
<rect x="391.33" y="483.82" width="1.1" height="1.0" fill="#1c2158"/>
<rect x="391.33" y="478.32" width="1.1" height="1.0" fill="#1c2158"/>
<rect x="391.33" y="484.40" width="1.1" height="1.0" fill="#1c2158"/>
<line x1="394.01" y1="477.73" x2="394.01" y2="484.51" stroke="#1c2158" stroke-width="0.5" />
<rect x="393.46" y="477.85" width="1.1" height="1.0" fill="#1c2158"/>
<rect x="393.46" y="479.54" width="1.1" height="1.0" fill="#1c2158"/>
<rect x="393.46" y="481.37" width="1.1" height="1.0" fill="#1c2158"/>
<line x1="396.15" y1="469.25" x2="396.15" y2="476.99" stroke="#1c2158" stroke-width="0.5" />
<rect x="395.60" y="475.85" width="1.1" height="1.0" fill="#1c2158"/>
<rect x="395.60" y="471.38" width="1.1" height="1.0" fill="#1c2158"/>
<rect x="395.60" y="475.90" width="1.1" height="1.0" fill="#1c2158"/>
<line x1="398.28" y1="456.53" x2="398.28" y2="465.71" stroke="#1c2158" stroke-width="0.5" />
<rect x="397.73" y="461.03" width="1.1" height="1.0" fill="#1c2158"/>
<rect x="397.73" y="458.90" width="1.1" height="1.0" fill="#1c2158"/>
<rect x="397.73" y="458.94" width="1.1" height="1.0" fill="#1c2158"/>
<line x1="400.41" y1="474.34" x2="400.41" y2="481.50" stroke="#1c2158" stroke-width="0.5" />
<rect x="399.86" y="475.11" width="1.1" height="1.0" fill="#1c2158"/>
<rect x="399.86" y="474.40" width="1.1" height="1.0" fill="#1c2158"/>
<rect x="399.86" y="474.91" width="1.1" height="1.0" fill="#1c2158"/>
<line x1="402.55" y1="479.43" x2="402.55" y2="486.01" stroke="#1c2158" stroke-width="0.5" />
<rect x="402.00" y="483.47" width="1.1" height="1.0" fill="#1c2158"/>
<rect x="402.00" y="485.49" width="1.1" height="1.0" fill="#1c2158"/>
<rect x="402.00" y="479.99" width="1.1" height="1.0" fill="#1c2158"/>
<line x1="404.68" y1="481.29" x2="404.68" y2="487.67" stroke="#1c2158" stroke-width="0.5" />
<rect x="404.13" y="481.10" width="1.1" height="1.0" fill="#1c2158"/>
<rect x="404.13" y="487.08" width="1.1" height="1.0" fill="#1c2158"/>
<rect x="404.13" y="484.19" width="1.1" height="1.0" fill="#1c2158"/>
<line x1="406.81" y1="476.88" x2="406.81" y2="483.76" stroke="#1c2158" stroke-width="0.5" />
<rect x="406.26" y="479.17" width="1.1" height="1.0" fill="#1c2158"/>
<rect x="406.26" y="478.01" width="1.1" height="1.0" fill="#1c2158"/>
<rect x="406.26" y="480.47" width="1.1" height="1.0" fill="#1c2158"/>
<line x1="53.50" y1="457.00" x2="53.50" y2="543.20" stroke="#4a3b3d" stroke-width="0.9" />
<line x1="53.05" y1="543.20" x2="409.70" y2="543.20" stroke="#4a3b3d" stroke-width="0.9" />
<line x1="54.87" y1="543.20" x2="54.87" y2="544.60" stroke="#4a3b3d" stroke-width="0.45" />
<line x1="57.00" y1="543.20" x2="57.00" y2="544.60" stroke="#4a3b3d" stroke-width="0.45" />
<line x1="59.13" y1="543.20" x2="59.13" y2="544.60" stroke="#4a3b3d" stroke-width="0.45" />
<line x1="61.27" y1="543.20" x2="61.27" y2="544.60" stroke="#4a3b3d" stroke-width="0.45" />
<line x1="63.40" y1="543.20" x2="63.40" y2="546.30" stroke="#4a3b3d" stroke-width="0.7" />
<text x="63.40" y="556.00" font-size="9.4" text-anchor="middle" font-weight="normal" fill="#2a2426" font-style="normal" >5</text>
<line x1="65.53" y1="543.20" x2="65.53" y2="544.60" stroke="#4a3b3d" stroke-width="0.45" />
<line x1="67.67" y1="543.20" x2="67.67" y2="544.60" stroke="#4a3b3d" stroke-width="0.45" />
<line x1="69.80" y1="543.20" x2="69.80" y2="544.60" stroke="#4a3b3d" stroke-width="0.45" />
<line x1="71.93" y1="543.20" x2="71.93" y2="544.60" stroke="#4a3b3d" stroke-width="0.45" />
<line x1="74.06" y1="543.20" x2="74.06" y2="544.60" stroke="#4a3b3d" stroke-width="0.45" />
<line x1="76.20" y1="543.20" x2="76.20" y2="544.60" stroke="#4a3b3d" stroke-width="0.45" />
<line x1="78.33" y1="543.20" x2="78.33" y2="544.60" stroke="#4a3b3d" stroke-width="0.45" />
<line x1="80.46" y1="543.20" x2="80.46" y2="544.60" stroke="#4a3b3d" stroke-width="0.45" />
<line x1="82.60" y1="543.20" x2="82.60" y2="544.60" stroke="#4a3b3d" stroke-width="0.45" />
<line x1="84.73" y1="543.20" x2="84.73" y2="546.30" stroke="#4a3b3d" stroke-width="0.7" />
<text x="84.73" y="556.00" font-size="9.4" text-anchor="middle" font-weight="normal" fill="#2a2426" font-style="normal" >15</text>
<line x1="86.86" y1="543.20" x2="86.86" y2="544.60" stroke="#4a3b3d" stroke-width="0.45" />
<line x1="89.00" y1="543.20" x2="89.00" y2="544.60" stroke="#4a3b3d" stroke-width="0.45" />
<line x1="91.13" y1="543.20" x2="91.13" y2="544.60" stroke="#4a3b3d" stroke-width="0.45" />
<line x1="93.26" y1="543.20" x2="93.26" y2="544.60" stroke="#4a3b3d" stroke-width="0.45" />
<line x1="95.39" y1="543.20" x2="95.39" y2="544.60" stroke="#4a3b3d" stroke-width="0.45" />
<line x1="97.53" y1="543.20" x2="97.53" y2="544.60" stroke="#4a3b3d" stroke-width="0.45" />
<line x1="99.66" y1="543.20" x2="99.66" y2="544.60" stroke="#4a3b3d" stroke-width="0.45" />
<line x1="101.79" y1="543.20" x2="101.79" y2="544.60" stroke="#4a3b3d" stroke-width="0.45" />
<line x1="103.93" y1="543.20" x2="103.93" y2="544.60" stroke="#4a3b3d" stroke-width="0.45" />
<line x1="106.06" y1="543.20" x2="106.06" y2="546.30" stroke="#4a3b3d" stroke-width="0.7" />
<text x="106.06" y="556.00" font-size="9.4" text-anchor="middle" font-weight="normal" fill="#2a2426" font-style="normal" >25</text>
<line x1="108.19" y1="543.20" x2="108.19" y2="544.60" stroke="#4a3b3d" stroke-width="0.45" />
<line x1="110.33" y1="543.20" x2="110.33" y2="544.60" stroke="#4a3b3d" stroke-width="0.45" />
<line x1="112.46" y1="543.20" x2="112.46" y2="544.60" stroke="#4a3b3d" stroke-width="0.45" />
<line x1="114.59" y1="543.20" x2="114.59" y2="544.60" stroke="#4a3b3d" stroke-width="0.45" />
<line x1="116.72" y1="543.20" x2="116.72" y2="544.60" stroke="#4a3b3d" stroke-width="0.45" />
<line x1="118.86" y1="543.20" x2="118.86" y2="544.60" stroke="#4a3b3d" stroke-width="0.45" />
<line x1="120.99" y1="543.20" x2="120.99" y2="544.60" stroke="#4a3b3d" stroke-width="0.45" />
<line x1="123.12" y1="543.20" x2="123.12" y2="544.60" stroke="#4a3b3d" stroke-width="0.45" />
<line x1="125.26" y1="543.20" x2="125.26" y2="544.60" stroke="#4a3b3d" stroke-width="0.45" />
<line x1="127.39" y1="543.20" x2="127.39" y2="546.30" stroke="#4a3b3d" stroke-width="0.7" />
<text x="127.39" y="556.00" font-size="9.4" text-anchor="middle" font-weight="normal" fill="#2a2426" font-style="normal" >35</text>
<line x1="129.52" y1="543.20" x2="129.52" y2="544.60" stroke="#4a3b3d" stroke-width="0.45" />
<line x1="131.66" y1="543.20" x2="131.66" y2="544.60" stroke="#4a3b3d" stroke-width="0.45" />
<line x1="133.79" y1="543.20" x2="133.79" y2="544.60" stroke="#4a3b3d" stroke-width="0.45" />
<line x1="135.92" y1="543.20" x2="135.92" y2="544.60" stroke="#4a3b3d" stroke-width="0.45" />
<line x1="138.06" y1="543.20" x2="138.06" y2="544.60" stroke="#4a3b3d" stroke-width="0.45" />
<line x1="140.19" y1="543.20" x2="140.19" y2="544.60" stroke="#4a3b3d" stroke-width="0.45" />
<line x1="142.32" y1="543.20" x2="142.32" y2="544.60" stroke="#4a3b3d" stroke-width="0.45" />
<line x1="144.45" y1="543.20" x2="144.45" y2="544.60" stroke="#4a3b3d" stroke-width="0.45" />
<line x1="146.59" y1="543.20" x2="146.59" y2="544.60" stroke="#4a3b3d" stroke-width="0.45" />
<line x1="148.72" y1="543.20" x2="148.72" y2="546.30" stroke="#4a3b3d" stroke-width="0.7" />
<text x="148.72" y="556.00" font-size="9.4" text-anchor="middle" font-weight="normal" fill="#2a2426" font-style="normal" >45</text>
<line x1="150.85" y1="543.20" x2="150.85" y2="544.60" stroke="#4a3b3d" stroke-width="0.45" />
<line x1="152.99" y1="543.20" x2="152.99" y2="544.60" stroke="#4a3b3d" stroke-width="0.45" />
<line x1="155.12" y1="543.20" x2="155.12" y2="544.60" stroke="#4a3b3d" stroke-width="0.45" />
<line x1="157.25" y1="543.20" x2="157.25" y2="544.60" stroke="#4a3b3d" stroke-width="0.45" />
<line x1="159.38" y1="543.20" x2="159.38" y2="544.60" stroke="#4a3b3d" stroke-width="0.45" />
<line x1="161.52" y1="543.20" x2="161.52" y2="544.60" stroke="#4a3b3d" stroke-width="0.45" />
<line x1="163.65" y1="543.20" x2="163.65" y2="544.60" stroke="#4a3b3d" stroke-width="0.45" />
<line x1="165.78" y1="543.20" x2="165.78" y2="544.60" stroke="#4a3b3d" stroke-width="0.45" />
<line x1="167.92" y1="543.20" x2="167.92" y2="544.60" stroke="#4a3b3d" stroke-width="0.45" />
<line x1="170.05" y1="543.20" x2="170.05" y2="546.30" stroke="#4a3b3d" stroke-width="0.7" />
<text x="170.05" y="556.00" font-size="9.4" text-anchor="middle" font-weight="normal" fill="#2a2426" font-style="normal" >55</text>
<line x1="172.18" y1="543.20" x2="172.18" y2="544.60" stroke="#4a3b3d" stroke-width="0.45" />
<line x1="174.32" y1="543.20" x2="174.32" y2="544.60" stroke="#4a3b3d" stroke-width="0.45" />
<line x1="176.45" y1="543.20" x2="176.45" y2="544.60" stroke="#4a3b3d" stroke-width="0.45" />
<line x1="178.58" y1="543.20" x2="178.58" y2="544.60" stroke="#4a3b3d" stroke-width="0.45" />
<line x1="180.72" y1="543.20" x2="180.72" y2="544.60" stroke="#4a3b3d" stroke-width="0.45" />
<line x1="182.85" y1="543.20" x2="182.85" y2="544.60" stroke="#4a3b3d" stroke-width="0.45" />
<line x1="184.98" y1="543.20" x2="184.98" y2="544.60" stroke="#4a3b3d" stroke-width="0.45" />
<line x1="187.11" y1="543.20" x2="187.11" y2="544.60" stroke="#4a3b3d" stroke-width="0.45" />
<line x1="189.25" y1="543.20" x2="189.25" y2="544.60" stroke="#4a3b3d" stroke-width="0.45" />
<line x1="191.38" y1="543.20" x2="191.38" y2="546.30" stroke="#4a3b3d" stroke-width="0.7" />
<text x="191.38" y="556.00" font-size="9.4" text-anchor="middle" font-weight="normal" fill="#2a2426" font-style="normal" >65</text>
<line x1="193.51" y1="543.20" x2="193.51" y2="544.60" stroke="#4a3b3d" stroke-width="0.45" />
<line x1="195.65" y1="543.20" x2="195.65" y2="544.60" stroke="#4a3b3d" stroke-width="0.45" />
<line x1="197.78" y1="543.20" x2="197.78" y2="544.60" stroke="#4a3b3d" stroke-width="0.45" />
<line x1="199.91" y1="543.20" x2="199.91" y2="544.60" stroke="#4a3b3d" stroke-width="0.45" />
<line x1="202.05" y1="543.20" x2="202.05" y2="544.60" stroke="#4a3b3d" stroke-width="0.45" />
<line x1="204.18" y1="543.20" x2="204.18" y2="544.60" stroke="#4a3b3d" stroke-width="0.45" />
<line x1="206.31" y1="543.20" x2="206.31" y2="544.60" stroke="#4a3b3d" stroke-width="0.45" />
<line x1="208.44" y1="543.20" x2="208.44" y2="544.60" stroke="#4a3b3d" stroke-width="0.45" />
<line x1="210.58" y1="543.20" x2="210.58" y2="544.60" stroke="#4a3b3d" stroke-width="0.45" />
<line x1="212.71" y1="543.20" x2="212.71" y2="546.30" stroke="#4a3b3d" stroke-width="0.7" />
<text x="212.71" y="556.00" font-size="9.4" text-anchor="middle" font-weight="normal" fill="#2a2426" font-style="normal" >75</text>
<line x1="214.84" y1="543.20" x2="214.84" y2="544.60" stroke="#4a3b3d" stroke-width="0.45" />
<line x1="216.98" y1="543.20" x2="216.98" y2="544.60" stroke="#4a3b3d" stroke-width="0.45" />
<line x1="219.11" y1="543.20" x2="219.11" y2="544.60" stroke="#4a3b3d" stroke-width="0.45" />
<line x1="221.24" y1="543.20" x2="221.24" y2="544.60" stroke="#4a3b3d" stroke-width="0.45" />
<line x1="223.38" y1="543.20" x2="223.38" y2="544.60" stroke="#4a3b3d" stroke-width="0.45" />
<line x1="225.51" y1="543.20" x2="225.51" y2="544.60" stroke="#4a3b3d" stroke-width="0.45" />
<line x1="227.64" y1="543.20" x2="227.64" y2="544.60" stroke="#4a3b3d" stroke-width="0.45" />
<line x1="229.77" y1="543.20" x2="229.77" y2="544.60" stroke="#4a3b3d" stroke-width="0.45" />
<line x1="231.91" y1="543.20" x2="231.91" y2="544.60" stroke="#4a3b3d" stroke-width="0.45" />
<line x1="234.04" y1="543.20" x2="234.04" y2="546.30" stroke="#4a3b3d" stroke-width="0.7" />
<text x="234.04" y="556.00" font-size="9.4" text-anchor="middle" font-weight="normal" fill="#2a2426" font-style="normal" >85</text>
<line x1="236.17" y1="543.20" x2="236.17" y2="544.60" stroke="#4a3b3d" stroke-width="0.45" />
<line x1="238.31" y1="543.20" x2="238.31" y2="544.60" stroke="#4a3b3d" stroke-width="0.45" />
<line x1="240.44" y1="543.20" x2="240.44" y2="544.60" stroke="#4a3b3d" stroke-width="0.45" />
<line x1="242.57" y1="543.20" x2="242.57" y2="544.60" stroke="#4a3b3d" stroke-width="0.45" />
<line x1="244.71" y1="543.20" x2="244.71" y2="544.60" stroke="#4a3b3d" stroke-width="0.45" />
<line x1="246.84" y1="543.20" x2="246.84" y2="544.60" stroke="#4a3b3d" stroke-width="0.45" />
<line x1="248.97" y1="543.20" x2="248.97" y2="544.60" stroke="#4a3b3d" stroke-width="0.45" />
<line x1="251.10" y1="543.20" x2="251.10" y2="544.60" stroke="#4a3b3d" stroke-width="0.45" />
<line x1="253.24" y1="543.20" x2="253.24" y2="544.60" stroke="#4a3b3d" stroke-width="0.45" />
<line x1="255.37" y1="543.20" x2="255.37" y2="546.30" stroke="#4a3b3d" stroke-width="0.7" />
<text x="255.37" y="556.00" font-size="9.4" text-anchor="middle" font-weight="normal" fill="#2a2426" font-style="normal" >95</text>
<line x1="257.50" y1="543.20" x2="257.50" y2="544.60" stroke="#4a3b3d" stroke-width="0.45" />
<line x1="259.64" y1="543.20" x2="259.64" y2="544.60" stroke="#4a3b3d" stroke-width="0.45" />
<line x1="261.77" y1="543.20" x2="261.77" y2="544.60" stroke="#4a3b3d" stroke-width="0.45" />
<line x1="263.90" y1="543.20" x2="263.90" y2="544.60" stroke="#4a3b3d" stroke-width="0.45" />
<line x1="266.03" y1="543.20" x2="266.03" y2="544.60" stroke="#4a3b3d" stroke-width="0.45" />
<line x1="268.17" y1="543.20" x2="268.17" y2="544.60" stroke="#4a3b3d" stroke-width="0.45" />
<line x1="270.30" y1="543.20" x2="270.30" y2="544.60" stroke="#4a3b3d" stroke-width="0.45" />
<line x1="272.43" y1="543.20" x2="272.43" y2="544.60" stroke="#4a3b3d" stroke-width="0.45" />
<line x1="274.57" y1="543.20" x2="274.57" y2="544.60" stroke="#4a3b3d" stroke-width="0.45" />
<line x1="276.70" y1="543.20" x2="276.70" y2="546.30" stroke="#4a3b3d" stroke-width="0.7" />
<text x="276.70" y="556.00" font-size="9.4" text-anchor="middle" font-weight="normal" fill="#2a2426" font-style="normal" >105</text>
<line x1="278.83" y1="543.20" x2="278.83" y2="544.60" stroke="#4a3b3d" stroke-width="0.45" />
<line x1="280.97" y1="543.20" x2="280.97" y2="544.60" stroke="#4a3b3d" stroke-width="0.45" />
<line x1="283.10" y1="543.20" x2="283.10" y2="544.60" stroke="#4a3b3d" stroke-width="0.45" />
<line x1="285.23" y1="543.20" x2="285.23" y2="544.60" stroke="#4a3b3d" stroke-width="0.45" />
<line x1="287.37" y1="543.20" x2="287.37" y2="544.60" stroke="#4a3b3d" stroke-width="0.45" />
<line x1="289.50" y1="543.20" x2="289.50" y2="544.60" stroke="#4a3b3d" stroke-width="0.45" />
<line x1="291.63" y1="543.20" x2="291.63" y2="544.60" stroke="#4a3b3d" stroke-width="0.45" />
<line x1="293.76" y1="543.20" x2="293.76" y2="544.60" stroke="#4a3b3d" stroke-width="0.45" />
<line x1="295.90" y1="543.20" x2="295.90" y2="544.60" stroke="#4a3b3d" stroke-width="0.45" />
<line x1="298.03" y1="543.20" x2="298.03" y2="546.30" stroke="#4a3b3d" stroke-width="0.7" />
<text x="298.03" y="556.00" font-size="9.4" text-anchor="middle" font-weight="normal" fill="#2a2426" font-style="normal" >115</text>
<line x1="300.16" y1="543.20" x2="300.16" y2="544.60" stroke="#4a3b3d" stroke-width="0.45" />
<line x1="302.30" y1="543.20" x2="302.30" y2="544.60" stroke="#4a3b3d" stroke-width="0.45" />
<line x1="304.43" y1="543.20" x2="304.43" y2="544.60" stroke="#4a3b3d" stroke-width="0.45" />
<line x1="306.56" y1="543.20" x2="306.56" y2="544.60" stroke="#4a3b3d" stroke-width="0.45" />
<line x1="308.69" y1="543.20" x2="308.69" y2="544.60" stroke="#4a3b3d" stroke-width="0.45" />
<line x1="310.83" y1="543.20" x2="310.83" y2="544.60" stroke="#4a3b3d" stroke-width="0.45" />
<line x1="312.96" y1="543.20" x2="312.96" y2="544.60" stroke="#4a3b3d" stroke-width="0.45" />
<line x1="315.09" y1="543.20" x2="315.09" y2="544.60" stroke="#4a3b3d" stroke-width="0.45" />
<line x1="317.23" y1="543.20" x2="317.23" y2="544.60" stroke="#4a3b3d" stroke-width="0.45" />
<line x1="319.36" y1="543.20" x2="319.36" y2="546.30" stroke="#4a3b3d" stroke-width="0.7" />
<text x="319.36" y="556.00" font-size="9.4" text-anchor="middle" font-weight="normal" fill="#2a2426" font-style="normal" >125</text>
<line x1="321.49" y1="543.20" x2="321.49" y2="544.60" stroke="#4a3b3d" stroke-width="0.45" />
<line x1="323.63" y1="543.20" x2="323.63" y2="544.60" stroke="#4a3b3d" stroke-width="0.45" />
<line x1="325.76" y1="543.20" x2="325.76" y2="544.60" stroke="#4a3b3d" stroke-width="0.45" />
<line x1="327.89" y1="543.20" x2="327.89" y2="544.60" stroke="#4a3b3d" stroke-width="0.45" />
<line x1="330.02" y1="543.20" x2="330.02" y2="544.60" stroke="#4a3b3d" stroke-width="0.45" />
<line x1="332.16" y1="543.20" x2="332.16" y2="544.60" stroke="#4a3b3d" stroke-width="0.45" />
<line x1="334.29" y1="543.20" x2="334.29" y2="544.60" stroke="#4a3b3d" stroke-width="0.45" />
<line x1="336.42" y1="543.20" x2="336.42" y2="544.60" stroke="#4a3b3d" stroke-width="0.45" />
<line x1="338.56" y1="543.20" x2="338.56" y2="544.60" stroke="#4a3b3d" stroke-width="0.45" />
<line x1="340.69" y1="543.20" x2="340.69" y2="546.30" stroke="#4a3b3d" stroke-width="0.7" />
<text x="340.69" y="556.00" font-size="9.4" text-anchor="middle" font-weight="normal" fill="#2a2426" font-style="normal" >135</text>
<line x1="342.82" y1="543.20" x2="342.82" y2="544.60" stroke="#4a3b3d" stroke-width="0.45" />
<line x1="344.96" y1="543.20" x2="344.96" y2="544.60" stroke="#4a3b3d" stroke-width="0.45" />
<line x1="347.09" y1="543.20" x2="347.09" y2="544.60" stroke="#4a3b3d" stroke-width="0.45" />
<line x1="349.22" y1="543.20" x2="349.22" y2="544.60" stroke="#4a3b3d" stroke-width="0.45" />
<line x1="351.35" y1="543.20" x2="351.35" y2="544.60" stroke="#4a3b3d" stroke-width="0.45" />
<line x1="353.49" y1="543.20" x2="353.49" y2="544.60" stroke="#4a3b3d" stroke-width="0.45" />
<line x1="355.62" y1="543.20" x2="355.62" y2="544.60" stroke="#4a3b3d" stroke-width="0.45" />
<line x1="357.75" y1="543.20" x2="357.75" y2="544.60" stroke="#4a3b3d" stroke-width="0.45" />
<line x1="359.89" y1="543.20" x2="359.89" y2="544.60" stroke="#4a3b3d" stroke-width="0.45" />
<line x1="362.02" y1="543.20" x2="362.02" y2="546.30" stroke="#4a3b3d" stroke-width="0.7" />
<text x="362.02" y="556.00" font-size="9.4" text-anchor="middle" font-weight="normal" fill="#2a2426" font-style="normal" >145</text>
<line x1="364.15" y1="543.20" x2="364.15" y2="544.60" stroke="#4a3b3d" stroke-width="0.45" />
<line x1="366.29" y1="543.20" x2="366.29" y2="544.60" stroke="#4a3b3d" stroke-width="0.45" />
<line x1="368.42" y1="543.20" x2="368.42" y2="544.60" stroke="#4a3b3d" stroke-width="0.45" />
<line x1="370.55" y1="543.20" x2="370.55" y2="544.60" stroke="#4a3b3d" stroke-width="0.45" />
<line x1="372.69" y1="543.20" x2="372.69" y2="544.60" stroke="#4a3b3d" stroke-width="0.45" />
<line x1="374.82" y1="543.20" x2="374.82" y2="544.60" stroke="#4a3b3d" stroke-width="0.45" />
<line x1="376.95" y1="543.20" x2="376.95" y2="544.60" stroke="#4a3b3d" stroke-width="0.45" />
<line x1="379.08" y1="543.20" x2="379.08" y2="544.60" stroke="#4a3b3d" stroke-width="0.45" />
<line x1="381.22" y1="543.20" x2="381.22" y2="544.60" stroke="#4a3b3d" stroke-width="0.45" />
<line x1="383.35" y1="543.20" x2="383.35" y2="546.30" stroke="#4a3b3d" stroke-width="0.7" />
<text x="383.35" y="556.00" font-size="9.4" text-anchor="middle" font-weight="normal" fill="#2a2426" font-style="normal" >155</text>
<line x1="385.48" y1="543.20" x2="385.48" y2="544.60" stroke="#4a3b3d" stroke-width="0.45" />
<line x1="387.62" y1="543.20" x2="387.62" y2="544.60" stroke="#4a3b3d" stroke-width="0.45" />
<line x1="389.75" y1="543.20" x2="389.75" y2="544.60" stroke="#4a3b3d" stroke-width="0.45" />
<line x1="391.88" y1="543.20" x2="391.88" y2="544.60" stroke="#4a3b3d" stroke-width="0.45" />
<line x1="394.01" y1="543.20" x2="394.01" y2="544.60" stroke="#4a3b3d" stroke-width="0.45" />
<line x1="396.15" y1="543.20" x2="396.15" y2="544.60" stroke="#4a3b3d" stroke-width="0.45" />
<line x1="398.28" y1="543.20" x2="398.28" y2="544.60" stroke="#4a3b3d" stroke-width="0.45" />
<line x1="400.41" y1="543.20" x2="400.41" y2="544.60" stroke="#4a3b3d" stroke-width="0.45" />
<line x1="402.55" y1="543.20" x2="402.55" y2="544.60" stroke="#4a3b3d" stroke-width="0.45" />
<line x1="404.68" y1="543.20" x2="404.68" y2="546.30" stroke="#4a3b3d" stroke-width="0.7" />
<text x="404.68" y="556.00" font-size="9.4" text-anchor="middle" font-weight="normal" fill="#2a2426" font-style="normal" >165</text>
<line x1="406.81" y1="543.20" x2="406.81" y2="544.60" stroke="#4a3b3d" stroke-width="0.45" />
<line x1="50.50" y1="537.60" x2="53.50" y2="537.60" stroke="#4a3b3d" stroke-width="0.7" />
<text x="49.50" y="540.90" font-size="9.4" text-anchor="end" font-weight="normal" fill="#2a2426" font-style="normal" >0</text>
<line x1="50.50" y1="521.60" x2="53.50" y2="521.60" stroke="#4a3b3d" stroke-width="0.7" />
<text x="49.50" y="524.90" font-size="9.4" text-anchor="end" font-weight="normal" fill="#2a2426" font-style="normal" >5000</text>
<line x1="50.50" y1="505.60" x2="53.50" y2="505.60" stroke="#4a3b3d" stroke-width="0.7" />
<text x="49.50" y="508.90" font-size="9.4" text-anchor="end" font-weight="normal" fill="#2a2426" font-style="normal" >10000</text>
<line x1="50.50" y1="489.60" x2="53.50" y2="489.60" stroke="#4a3b3d" stroke-width="0.7" />
<text x="49.50" y="492.90" font-size="9.4" text-anchor="end" font-weight="normal" fill="#2a2426" font-style="normal" >15000</text>
<line x1="50.50" y1="473.60" x2="53.50" y2="473.60" stroke="#4a3b3d" stroke-width="0.7" />
<text x="49.50" y="476.90" font-size="9.4" text-anchor="end" font-weight="normal" fill="#2a2426" font-style="normal" >20000</text>
<text x="61.00" y="462.20" font-size="9.5" text-anchor="start" font-weight="normal" fill="#1f1b1c" font-style="normal" >tetra-GRAB-Sia</text>
<text transform="translate(15.1,500.60) rotate(-90)" font-size="9.6" text-anchor="middle" fill="#2a2426">RFU</text>
<rect x="335.00" y="590.90" width="39.80" height="101.90" fill="#deddE5" />
<rect x="374.80" y="590.90" width="19.40" height="101.90" fill="#c4c2ce" />
<rect x="394.20" y="590.90" width="16.40" height="101.90" fill="#aaa9ba" />
<rect x="56.80" y="587.40" width="103.10" height="3.00" fill="#d9d64f" />
<rect x="162.20" y="587.40" width="37.80" height="3.00" fill="#e09c4b" />
<rect x="202.30" y="587.40" width="21.80" height="3.00" fill="#2a9dd4" />
<rect x="226.30" y="587.40" width="23.50" height="3.00" fill="#1766a9" />
<rect x="252.30" y="587.40" width="25.70" height="3.00" fill="#16864a" />
<rect x="280.30" y="587.40" width="21.80" height="3.00" fill="#b8323a" />
<rect x="304.40" y="587.40" width="16.00" height="3.00" fill="#e39cab" />
<rect x="322.70" y="587.40" width="9.60" height="3.00" fill="#c6b89c" />
<rect x="334.40" y="587.40" width="75.90" height="3.00" fill="#7b1e6e" />
<line x1="335.00" y1="588.90" x2="335.00" y2="594.40" stroke="#7b1e6e" stroke-width="1.3" />
<line x1="374.80" y1="588.90" x2="374.80" y2="594.40" stroke="#7b1e6e" stroke-width="1.3" />
<line x1="394.20" y1="588.90" x2="394.20" y2="594.40" stroke="#7b1e6e" stroke-width="1.3" />
<line x1="409.70" y1="588.90" x2="409.70" y2="594.40" stroke="#7b1e6e" stroke-width="1.3" />
<text x="354.90" y="600.30" font-size="9.2" text-anchor="middle" font-weight="normal" fill="#1f1b1c" font-style="normal" >α3</text>
<text x="384.50" y="600.30" font-size="9.2" text-anchor="middle" font-weight="normal" fill="#1f1b1c" font-style="normal" >α6</text>
<text x="402.40" y="600.30" font-size="9.2" text-anchor="middle" font-weight="normal" fill="#1f1b1c" font-style="normal" >α8</text>
<rect x="54.92" y="686.87" width="1.72" height="0.53" fill="#8b92c9" />
<rect x="57.06" y="685.00" width="1.72" height="2.40" fill="#8b92c9" />
<rect x="59.20" y="685.53" width="1.72" height="1.87" fill="#8b92c9" />
<rect x="61.34" y="686.87" width="1.72" height="0.53" fill="#8b92c9" />
<rect x="63.48" y="686.73" width="1.72" height="0.67" fill="#8b92c9" />
<rect x="65.62" y="686.73" width="1.72" height="0.67" fill="#8b92c9" />
<rect x="67.76" y="685.26" width="1.72" height="2.14" fill="#8b92c9" />
<rect x="69.90" y="687.13" width="1.72" height="0.27" fill="#8b92c9" />
<rect x="72.04" y="686.73" width="1.72" height="0.67" fill="#8b92c9" />
<rect x="74.18" y="685.00" width="1.72" height="2.40" fill="#8b92c9" />
<rect x="76.31" y="686.60" width="1.72" height="0.80" fill="#8b92c9" />
<rect x="78.45" y="686.73" width="1.72" height="0.67" fill="#8b92c9" />
<rect x="80.59" y="687.13" width="1.72" height="0.27" fill="#8b92c9" />
<rect x="82.73" y="687.27" width="1.72" height="0.13" fill="#8b92c9" />
<rect x="84.87" y="686.87" width="1.72" height="0.53" fill="#8b92c9" />
<rect x="87.01" y="687.00" width="1.72" height="0.40" fill="#8b92c9" />
<rect x="89.15" y="687.13" width="1.72" height="0.27" fill="#8b92c9" />
<rect x="91.29" y="687.27" width="1.72" height="0.13" fill="#8b92c9" />
<rect x="93.43" y="686.73" width="1.72" height="0.67" fill="#8b92c9" />
<rect x="95.57" y="686.60" width="1.72" height="0.80" fill="#8b92c9" />
<rect x="97.70" y="686.60" width="1.72" height="0.80" fill="#8b92c9" />
<rect x="99.84" y="684.20" width="1.72" height="3.20" fill="#8b92c9" />
<rect x="101.98" y="683.39" width="1.72" height="4.00" fill="#8b92c9" />
<rect x="104.12" y="684.46" width="1.72" height="2.94" fill="#8b92c9" />
<rect x="106.26" y="686.87" width="1.72" height="0.53" fill="#8b92c9" />
<rect x="108.40" y="686.60" width="1.72" height="0.80" fill="#8b92c9" />
<rect x="110.54" y="686.60" width="1.72" height="0.80" fill="#8b92c9" />
<rect x="112.68" y="686.73" width="1.72" height="0.67" fill="#8b92c9" />
<rect x="114.82" y="686.60" width="1.72" height="0.80" fill="#8b92c9" />
<rect x="116.96" y="687.13" width="1.72" height="0.27" fill="#8b92c9" />
<rect x="119.09" y="684.20" width="1.72" height="3.20" fill="#8b92c9" />
<rect x="121.23" y="683.66" width="1.72" height="3.74" fill="#8b92c9" />
<rect x="123.37" y="684.46" width="1.72" height="2.94" fill="#8b92c9" />
<rect x="125.51" y="687.27" width="1.72" height="0.13" fill="#8b92c9" />
<rect x="127.65" y="687.27" width="1.72" height="0.13" fill="#8b92c9" />
<rect x="129.79" y="687.27" width="1.72" height="0.13" fill="#8b92c9" />
<rect x="131.93" y="687.13" width="1.72" height="0.27" fill="#8b92c9" />
<rect x="134.07" y="687.13" width="1.72" height="0.27" fill="#8b92c9" />
<rect x="136.21" y="686.73" width="1.72" height="0.67" fill="#8b92c9" />
<rect x="138.35" y="687.27" width="1.72" height="0.13" fill="#8b92c9" />
<rect x="140.48" y="686.87" width="1.72" height="0.53" fill="#8b92c9" />
<rect x="142.62" y="687.00" width="1.72" height="0.40" fill="#8b92c9" />
<rect x="144.76" y="686.87" width="1.72" height="0.53" fill="#8b92c9" />
<rect x="146.90" y="686.73" width="1.72" height="0.67" fill="#8b92c9" />
<rect x="149.04" y="687.13" width="1.72" height="0.27" fill="#8b92c9" />
<rect x="151.18" y="686.73" width="1.72" height="0.67" fill="#8b92c9" />
<rect x="153.32" y="687.13" width="1.72" height="0.27" fill="#8b92c9" />
<rect x="155.46" y="686.60" width="1.72" height="0.80" fill="#8b92c9" />
<rect x="157.60" y="687.00" width="1.72" height="0.40" fill="#8b92c9" />
<rect x="159.74" y="684.73" width="1.72" height="2.67" fill="#8b92c9" />
<rect x="161.87" y="683.39" width="1.72" height="4.00" fill="#8b92c9" />
<rect x="164.01" y="686.60" width="1.72" height="0.80" fill="#8b92c9" />
<rect x="166.15" y="687.27" width="1.72" height="0.13" fill="#8b92c9" />
<rect x="168.29" y="686.87" width="1.72" height="0.53" fill="#8b92c9" />
<rect x="170.43" y="686.60" width="1.72" height="0.80" fill="#8b92c9" />
<rect x="172.57" y="687.00" width="1.72" height="0.40" fill="#8b92c9" />
<rect x="174.71" y="686.87" width="1.72" height="0.53" fill="#8b92c9" />
<rect x="176.85" y="686.73" width="1.72" height="0.67" fill="#8b92c9" />
<rect x="178.99" y="687.27" width="1.72" height="0.13" fill="#8b92c9" />
<rect x="181.13" y="686.60" width="1.72" height="0.80" fill="#8b92c9" />
<rect x="183.26" y="687.00" width="1.72" height="0.40" fill="#8b92c9" />
<rect x="185.40" y="687.00" width="1.72" height="0.40" fill="#8b92c9" />
<rect x="187.54" y="687.13" width="1.72" height="0.27" fill="#8b92c9" />
<rect x="189.68" y="686.73" width="1.72" height="0.67" fill="#8b92c9" />
<rect x="191.82" y="687.00" width="1.72" height="0.40" fill="#8b92c9" />
<rect x="193.96" y="687.27" width="1.72" height="0.13" fill="#8b92c9" />
<rect x="196.10" y="687.27" width="1.72" height="0.13" fill="#8b92c9" />
<rect x="198.24" y="686.73" width="1.72" height="0.67" fill="#8b92c9" />
<rect x="200.38" y="687.27" width="1.72" height="0.13" fill="#8b92c9" />
<rect x="202.52" y="686.87" width="1.72" height="0.53" fill="#8b92c9" />
<rect x="204.65" y="687.27" width="1.72" height="0.13" fill="#8b92c9" />
<rect x="206.79" y="687.00" width="1.72" height="0.40" fill="#8b92c9" />
<rect x="208.93" y="686.87" width="1.72" height="0.53" fill="#8b92c9" />
<rect x="211.07" y="687.27" width="1.72" height="0.13" fill="#8b92c9" />
<rect x="213.21" y="687.27" width="1.72" height="0.13" fill="#8b92c9" />
<rect x="215.35" y="686.60" width="1.72" height="0.80" fill="#8b92c9" />
<rect x="217.49" y="687.27" width="1.72" height="0.13" fill="#8b92c9" />
<rect x="219.63" y="687.13" width="1.72" height="0.27" fill="#8b92c9" />
<rect x="221.77" y="687.13" width="1.72" height="0.27" fill="#8b92c9" />
<rect x="223.91" y="687.27" width="1.72" height="0.13" fill="#8b92c9" />
<rect x="226.04" y="686.87" width="1.72" height="0.53" fill="#8b92c9" />
<rect x="228.18" y="686.87" width="1.72" height="0.53" fill="#8b92c9" />
<rect x="230.32" y="686.60" width="1.72" height="0.80" fill="#8b92c9" />
<rect x="232.46" y="686.87" width="1.72" height="0.53" fill="#8b92c9" />
<rect x="234.60" y="686.87" width="1.72" height="0.53" fill="#8b92c9" />
<rect x="236.74" y="687.27" width="1.72" height="0.13" fill="#8b92c9" />
<rect x="238.88" y="686.73" width="1.72" height="0.67" fill="#8b92c9" />
<rect x="241.02" y="686.60" width="1.72" height="0.80" fill="#8b92c9" />
<rect x="243.16" y="687.13" width="1.72" height="0.27" fill="#8b92c9" />
<rect x="245.30" y="686.60" width="1.72" height="0.80" fill="#8b92c9" />
<rect x="247.43" y="687.00" width="1.72" height="0.40" fill="#8b92c9" />
<rect x="249.57" y="687.00" width="1.72" height="0.40" fill="#8b92c9" />
<rect x="251.71" y="687.27" width="1.72" height="0.13" fill="#8b92c9" />
<rect x="253.85" y="687.00" width="1.72" height="0.40" fill="#8b92c9" />
<rect x="255.99" y="687.00" width="1.72" height="0.40" fill="#8b92c9" />
<rect x="258.13" y="687.27" width="1.72" height="0.13" fill="#8b92c9" />
<rect x="260.27" y="686.87" width="1.72" height="0.53" fill="#8b92c9" />
<rect x="262.41" y="687.27" width="1.72" height="0.13" fill="#8b92c9" />
<rect x="264.55" y="687.13" width="1.72" height="0.27" fill="#8b92c9" />
<rect x="266.69" y="687.13" width="1.72" height="0.27" fill="#8b92c9" />
<rect x="268.82" y="686.60" width="1.72" height="0.80" fill="#8b92c9" />
<rect x="270.96" y="687.27" width="1.72" height="0.13" fill="#8b92c9" />
<rect x="273.10" y="687.27" width="1.72" height="0.13" fill="#8b92c9" />
<rect x="275.24" y="687.27" width="1.72" height="0.13" fill="#8b92c9" />
<rect x="277.38" y="686.87" width="1.72" height="0.53" fill="#8b92c9" />
<rect x="279.52" y="681.53" width="1.72" height="5.87" fill="#8b92c9" />
<rect x="281.66" y="685.26" width="1.72" height="2.14" fill="#8b92c9" />
<rect x="283.80" y="686.60" width="1.72" height="0.80" fill="#8b92c9" />
<rect x="285.94" y="686.73" width="1.72" height="0.67" fill="#8b92c9" />
<rect x="288.08" y="687.13" width="1.72" height="0.27" fill="#8b92c9" />
<rect x="290.21" y="686.87" width="1.72" height="0.53" fill="#8b92c9" />
<rect x="292.35" y="684.46" width="1.72" height="2.94" fill="#8b92c9" />
<rect x="294.49" y="687.13" width="1.72" height="0.27" fill="#8b92c9" />
<rect x="296.63" y="686.60" width="1.72" height="0.80" fill="#8b92c9" />
<rect x="298.77" y="685.00" width="1.72" height="2.40" fill="#8b92c9" />
<rect x="300.91" y="686.87" width="1.72" height="0.53" fill="#8b92c9" />
<rect x="303.05" y="686.60" width="1.72" height="0.80" fill="#8b92c9" />
<rect x="305.19" y="686.87" width="1.72" height="0.53" fill="#8b92c9" />
<rect x="307.33" y="687.27" width="1.72" height="0.13" fill="#8b92c9" />
<rect x="309.47" y="686.87" width="1.72" height="0.53" fill="#8b92c9" />
<rect x="311.60" y="686.87" width="1.72" height="0.53" fill="#8b92c9" />
<rect x="313.74" y="687.13" width="1.72" height="0.27" fill="#8b92c9" />
<rect x="315.88" y="687.27" width="1.72" height="0.13" fill="#8b92c9" />
<rect x="318.02" y="687.00" width="1.72" height="0.40" fill="#8b92c9" />
<rect x="320.16" y="686.73" width="1.72" height="0.67" fill="#8b92c9" />
<rect x="322.30" y="687.00" width="1.72" height="0.40" fill="#8b92c9" />
<rect x="324.44" y="685.00" width="1.72" height="2.40" fill="#8b92c9" />
<rect x="326.58" y="684.46" width="1.72" height="2.94" fill="#8b92c9" />
<rect x="328.72" y="687.13" width="1.72" height="0.27" fill="#8b92c9" />
<rect x="330.86" y="686.87" width="1.72" height="0.53" fill="#8b92c9" />
<rect x="332.99" y="686.73" width="1.72" height="0.67" fill="#8b92c9" />
<rect x="335.13" y="643.08" width="1.72" height="44.32" fill="#8b92c9" />
<rect x="337.27" y="681.53" width="1.72" height="5.87" fill="#8b92c9" />
<rect x="339.41" y="623.05" width="1.72" height="64.35" fill="#8b92c9" />
<rect x="341.55" y="662.30" width="1.72" height="25.10" fill="#8b92c9" />
<rect x="343.69" y="644.68" width="1.72" height="42.72" fill="#8b92c9" />
<rect x="345.83" y="642.28" width="1.72" height="45.12" fill="#8b92c9" />
<rect x="347.97" y="654.02" width="1.72" height="33.38" fill="#8b92c9" />
<rect x="350.11" y="656.43" width="1.72" height="30.97" fill="#8b92c9" />
<rect x="352.25" y="654.02" width="1.72" height="33.38" fill="#8b92c9" />
<rect x="354.38" y="642.28" width="1.72" height="45.12" fill="#8b92c9" />
<rect x="356.52" y="662.30" width="1.72" height="25.10" fill="#8b92c9" />
<rect x="358.66" y="686.60" width="1.72" height="0.80" fill="#8b92c9" />
<rect x="360.80" y="652.16" width="1.72" height="35.24" fill="#8b92c9" />
<rect x="362.94" y="685.40" width="1.72" height="2.00" fill="#8b92c9" />
<rect x="365.08" y="652.16" width="1.72" height="35.24" fill="#8b92c9" />
<rect x="367.22" y="683.13" width="1.72" height="4.27" fill="#8b92c9" />
<rect x="369.36" y="661.50" width="1.72" height="25.90" fill="#8b92c9" />
<rect x="371.50" y="658.83" width="1.72" height="28.57" fill="#8b92c9" />
<rect x="373.64" y="667.38" width="1.72" height="20.02" fill="#8b92c9" />
<rect x="375.77" y="686.33" width="1.72" height="1.07" fill="#8b92c9" />
<rect x="377.91" y="686.33" width="1.72" height="1.07" fill="#8b92c9" />
<rect x="380.05" y="685.80" width="1.72" height="1.60" fill="#8b92c9" />
<rect x="382.19" y="684.06" width="1.72" height="3.34" fill="#8b92c9" />
<rect x="384.33" y="684.46" width="1.72" height="2.94" fill="#8b92c9" />
<rect x="386.47" y="686.06" width="1.72" height="1.33" fill="#8b92c9" />
<rect x="388.61" y="686.60" width="1.72" height="0.80" fill="#8b92c9" />
<rect x="390.75" y="686.60" width="1.72" height="0.80" fill="#8b92c9" />
<rect x="392.89" y="686.33" width="1.72" height="1.07" fill="#8b92c9" />
<rect x="395.03" y="686.60" width="1.72" height="0.80" fill="#8b92c9" />
<rect x="397.16" y="686.60" width="1.72" height="0.80" fill="#8b92c9" />
<rect x="399.30" y="686.33" width="1.72" height="1.07" fill="#8b92c9" />
<rect x="401.44" y="682.33" width="1.72" height="5.07" fill="#8b92c9" />
<rect x="403.58" y="685.80" width="1.72" height="1.60" fill="#8b92c9" />
<rect x="405.72" y="686.33" width="1.72" height="1.07" fill="#8b92c9" />
<rect x="407.86" y="679.92" width="1.72" height="7.48" fill="#8b92c9" />
<rect x="55.24" y="686.07" width="1.2" height="1.4" fill="#1c2158"/>
<rect x="57.38" y="684.20" width="1.2" height="1.4" fill="#1c2158"/>
<rect x="59.52" y="684.73" width="1.2" height="1.4" fill="#1c2158"/>
<rect x="61.66" y="686.07" width="1.2" height="1.4" fill="#1c2158"/>
<rect x="63.80" y="685.93" width="1.2" height="1.4" fill="#1c2158"/>
<rect x="65.94" y="685.93" width="1.2" height="1.4" fill="#1c2158"/>
<rect x="68.08" y="684.46" width="1.2" height="1.4" fill="#1c2158"/>
<rect x="70.22" y="686.33" width="1.2" height="1.4" fill="#1c2158"/>
<rect x="72.36" y="685.93" width="1.2" height="1.4" fill="#1c2158"/>
<rect x="74.50" y="684.20" width="1.2" height="1.4" fill="#1c2158"/>
<rect x="76.63" y="685.80" width="1.2" height="1.4" fill="#1c2158"/>
<rect x="78.77" y="685.93" width="1.2" height="1.4" fill="#1c2158"/>
<rect x="80.91" y="686.33" width="1.2" height="1.4" fill="#1c2158"/>
<rect x="83.05" y="686.47" width="1.2" height="1.4" fill="#1c2158"/>
<rect x="85.19" y="686.07" width="1.2" height="1.4" fill="#1c2158"/>
<rect x="87.33" y="686.20" width="1.2" height="1.4" fill="#1c2158"/>
<rect x="89.47" y="686.33" width="1.2" height="1.4" fill="#1c2158"/>
<rect x="91.61" y="686.47" width="1.2" height="1.4" fill="#1c2158"/>
<rect x="93.75" y="685.93" width="1.2" height="1.4" fill="#1c2158"/>
<rect x="95.89" y="685.80" width="1.2" height="1.4" fill="#1c2158"/>
<rect x="98.02" y="685.80" width="1.2" height="1.4" fill="#1c2158"/>
<rect x="100.16" y="683.40" width="1.2" height="1.4" fill="#1c2158"/>
<rect x="102.30" y="682.60" width="1.2" height="1.4" fill="#1c2158"/>
<rect x="104.44" y="683.66" width="1.2" height="1.4" fill="#1c2158"/>
<rect x="106.58" y="686.07" width="1.2" height="1.4" fill="#1c2158"/>
<rect x="108.72" y="685.80" width="1.2" height="1.4" fill="#1c2158"/>
<rect x="110.86" y="685.80" width="1.2" height="1.4" fill="#1c2158"/>
<rect x="113.00" y="685.93" width="1.2" height="1.4" fill="#1c2158"/>
<rect x="115.14" y="685.80" width="1.2" height="1.4" fill="#1c2158"/>
<rect x="117.28" y="686.33" width="1.2" height="1.4" fill="#1c2158"/>
<rect x="119.41" y="683.40" width="1.2" height="1.4" fill="#1c2158"/>
<rect x="121.55" y="682.86" width="1.2" height="1.4" fill="#1c2158"/>
<rect x="123.69" y="683.66" width="1.2" height="1.4" fill="#1c2158"/>
<rect x="125.83" y="686.47" width="1.2" height="1.4" fill="#1c2158"/>
<rect x="127.97" y="686.47" width="1.2" height="1.4" fill="#1c2158"/>
<rect x="130.11" y="686.47" width="1.2" height="1.4" fill="#1c2158"/>
<rect x="132.25" y="686.33" width="1.2" height="1.4" fill="#1c2158"/>
<rect x="134.39" y="686.33" width="1.2" height="1.4" fill="#1c2158"/>
<rect x="136.53" y="685.93" width="1.2" height="1.4" fill="#1c2158"/>
<rect x="138.66" y="686.47" width="1.2" height="1.4" fill="#1c2158"/>
<rect x="140.80" y="686.07" width="1.2" height="1.4" fill="#1c2158"/>
<rect x="142.94" y="686.20" width="1.2" height="1.4" fill="#1c2158"/>
<rect x="145.08" y="686.07" width="1.2" height="1.4" fill="#1c2158"/>
<rect x="147.22" y="685.93" width="1.2" height="1.4" fill="#1c2158"/>
<rect x="149.36" y="686.33" width="1.2" height="1.4" fill="#1c2158"/>
<rect x="151.50" y="685.93" width="1.2" height="1.4" fill="#1c2158"/>
<rect x="153.64" y="686.33" width="1.2" height="1.4" fill="#1c2158"/>
<rect x="155.78" y="685.80" width="1.2" height="1.4" fill="#1c2158"/>
<rect x="157.92" y="686.20" width="1.2" height="1.4" fill="#1c2158"/>
<rect x="160.06" y="683.93" width="1.2" height="1.4" fill="#1c2158"/>
<rect x="162.19" y="682.60" width="1.2" height="1.4" fill="#1c2158"/>
<rect x="164.33" y="685.80" width="1.2" height="1.4" fill="#1c2158"/>
<rect x="166.47" y="686.47" width="1.2" height="1.4" fill="#1c2158"/>
<rect x="168.61" y="686.07" width="1.2" height="1.4" fill="#1c2158"/>
<rect x="170.75" y="685.80" width="1.2" height="1.4" fill="#1c2158"/>
<rect x="172.89" y="686.20" width="1.2" height="1.4" fill="#1c2158"/>
<rect x="175.03" y="686.07" width="1.2" height="1.4" fill="#1c2158"/>
<rect x="177.17" y="685.93" width="1.2" height="1.4" fill="#1c2158"/>
<rect x="179.31" y="686.47" width="1.2" height="1.4" fill="#1c2158"/>
<rect x="181.44" y="685.80" width="1.2" height="1.4" fill="#1c2158"/>
<rect x="183.58" y="686.20" width="1.2" height="1.4" fill="#1c2158"/>
<rect x="185.72" y="686.20" width="1.2" height="1.4" fill="#1c2158"/>
<rect x="187.86" y="686.33" width="1.2" height="1.4" fill="#1c2158"/>
<rect x="190.00" y="685.93" width="1.2" height="1.4" fill="#1c2158"/>
<rect x="192.14" y="686.20" width="1.2" height="1.4" fill="#1c2158"/>
<rect x="194.28" y="686.47" width="1.2" height="1.4" fill="#1c2158"/>
<rect x="196.42" y="686.47" width="1.2" height="1.4" fill="#1c2158"/>
<rect x="198.56" y="685.93" width="1.2" height="1.4" fill="#1c2158"/>
<rect x="200.70" y="686.47" width="1.2" height="1.4" fill="#1c2158"/>
<rect x="202.84" y="686.07" width="1.2" height="1.4" fill="#1c2158"/>
<rect x="204.97" y="686.47" width="1.2" height="1.4" fill="#1c2158"/>
<rect x="207.11" y="686.20" width="1.2" height="1.4" fill="#1c2158"/>
<rect x="209.25" y="686.07" width="1.2" height="1.4" fill="#1c2158"/>
<rect x="211.39" y="686.47" width="1.2" height="1.4" fill="#1c2158"/>
<rect x="213.53" y="686.47" width="1.2" height="1.4" fill="#1c2158"/>
<rect x="215.67" y="685.80" width="1.2" height="1.4" fill="#1c2158"/>
<rect x="217.81" y="686.47" width="1.2" height="1.4" fill="#1c2158"/>
<rect x="219.95" y="686.33" width="1.2" height="1.4" fill="#1c2158"/>
<rect x="222.09" y="686.33" width="1.2" height="1.4" fill="#1c2158"/>
<rect x="224.22" y="686.47" width="1.2" height="1.4" fill="#1c2158"/>
<rect x="226.36" y="686.07" width="1.2" height="1.4" fill="#1c2158"/>
<rect x="228.50" y="686.07" width="1.2" height="1.4" fill="#1c2158"/>
<rect x="230.64" y="685.80" width="1.2" height="1.4" fill="#1c2158"/>
<rect x="232.78" y="686.07" width="1.2" height="1.4" fill="#1c2158"/>
<rect x="234.92" y="686.07" width="1.2" height="1.4" fill="#1c2158"/>
<rect x="237.06" y="686.47" width="1.2" height="1.4" fill="#1c2158"/>
<rect x="239.20" y="685.93" width="1.2" height="1.4" fill="#1c2158"/>
<rect x="241.34" y="685.80" width="1.2" height="1.4" fill="#1c2158"/>
<rect x="243.48" y="686.33" width="1.2" height="1.4" fill="#1c2158"/>
<rect x="245.61" y="685.80" width="1.2" height="1.4" fill="#1c2158"/>
<rect x="247.75" y="686.20" width="1.2" height="1.4" fill="#1c2158"/>
<rect x="249.89" y="686.20" width="1.2" height="1.4" fill="#1c2158"/>
<rect x="252.03" y="686.47" width="1.2" height="1.4" fill="#1c2158"/>
<rect x="254.17" y="686.20" width="1.2" height="1.4" fill="#1c2158"/>
<rect x="256.31" y="686.20" width="1.2" height="1.4" fill="#1c2158"/>
<rect x="258.45" y="686.47" width="1.2" height="1.4" fill="#1c2158"/>
<rect x="260.59" y="686.07" width="1.2" height="1.4" fill="#1c2158"/>
<rect x="262.73" y="686.47" width="1.2" height="1.4" fill="#1c2158"/>
<rect x="264.87" y="686.33" width="1.2" height="1.4" fill="#1c2158"/>
<rect x="267.00" y="686.33" width="1.2" height="1.4" fill="#1c2158"/>
<rect x="269.14" y="685.80" width="1.2" height="1.4" fill="#1c2158"/>
<rect x="271.28" y="686.47" width="1.2" height="1.4" fill="#1c2158"/>
<rect x="273.42" y="686.47" width="1.2" height="1.4" fill="#1c2158"/>
<rect x="275.56" y="686.47" width="1.2" height="1.4" fill="#1c2158"/>
<rect x="277.70" y="686.07" width="1.2" height="1.4" fill="#1c2158"/>
<rect x="279.84" y="680.73" width="1.2" height="1.4" fill="#1c2158"/>
<rect x="281.98" y="684.46" width="1.2" height="1.4" fill="#1c2158"/>
<rect x="284.12" y="685.80" width="1.2" height="1.4" fill="#1c2158"/>
<rect x="286.26" y="685.93" width="1.2" height="1.4" fill="#1c2158"/>
<rect x="288.39" y="686.33" width="1.2" height="1.4" fill="#1c2158"/>
<rect x="290.53" y="686.07" width="1.2" height="1.4" fill="#1c2158"/>
<rect x="292.67" y="683.66" width="1.2" height="1.4" fill="#1c2158"/>
<rect x="294.81" y="686.33" width="1.2" height="1.4" fill="#1c2158"/>
<rect x="296.95" y="685.80" width="1.2" height="1.4" fill="#1c2158"/>
<rect x="299.09" y="684.20" width="1.2" height="1.4" fill="#1c2158"/>
<rect x="301.23" y="686.07" width="1.2" height="1.4" fill="#1c2158"/>
<rect x="303.37" y="685.80" width="1.2" height="1.4" fill="#1c2158"/>
<rect x="305.51" y="686.07" width="1.2" height="1.4" fill="#1c2158"/>
<rect x="307.65" y="686.47" width="1.2" height="1.4" fill="#1c2158"/>
<rect x="309.78" y="686.07" width="1.2" height="1.4" fill="#1c2158"/>
<rect x="311.92" y="686.07" width="1.2" height="1.4" fill="#1c2158"/>
<rect x="314.06" y="686.33" width="1.2" height="1.4" fill="#1c2158"/>
<rect x="316.20" y="686.47" width="1.2" height="1.4" fill="#1c2158"/>
<rect x="318.34" y="686.20" width="1.2" height="1.4" fill="#1c2158"/>
<rect x="320.48" y="685.93" width="1.2" height="1.4" fill="#1c2158"/>
<rect x="322.62" y="686.20" width="1.2" height="1.4" fill="#1c2158"/>
<rect x="324.76" y="684.20" width="1.2" height="1.4" fill="#1c2158"/>
<rect x="326.90" y="683.66" width="1.2" height="1.4" fill="#1c2158"/>
<rect x="329.04" y="686.33" width="1.2" height="1.4" fill="#1c2158"/>
<rect x="331.17" y="686.07" width="1.2" height="1.4" fill="#1c2158"/>
<rect x="333.31" y="685.93" width="1.2" height="1.4" fill="#1c2158"/>
<line x1="336.05" y1="638.27" x2="336.05" y2="647.88" stroke="#1c2158" stroke-width="0.5" />
<rect x="335.50" y="643.76" width="1.1" height="1.0" fill="#1c2158"/>
<rect x="335.50" y="644.90" width="1.1" height="1.0" fill="#1c2158"/>
<rect x="335.50" y="645.42" width="1.1" height="1.0" fill="#1c2158"/>
<rect x="337.59" y="680.73" width="1.2" height="1.4" fill="#1c2158"/>
<line x1="340.33" y1="611.84" x2="340.33" y2="634.27" stroke="#1c2158" stroke-width="0.5" />
<rect x="339.78" y="632.48" width="1.1" height="1.0" fill="#1c2158"/>
<rect x="339.78" y="627.93" width="1.1" height="1.0" fill="#1c2158"/>
<rect x="339.78" y="632.02" width="1.1" height="1.0" fill="#1c2158"/>
<line x1="342.47" y1="654.29" x2="342.47" y2="670.31" stroke="#1c2158" stroke-width="0.5" />
<rect x="341.92" y="654.26" width="1.1" height="1.0" fill="#1c2158"/>
<rect x="341.92" y="661.25" width="1.1" height="1.0" fill="#1c2158"/>
<rect x="341.92" y="668.90" width="1.1" height="1.0" fill="#1c2158"/>
<line x1="344.61" y1="638.00" x2="344.61" y2="651.35" stroke="#1c2158" stroke-width="0.5" />
<rect x="344.06" y="646.17" width="1.1" height="1.0" fill="#1c2158"/>
<rect x="344.06" y="649.53" width="1.1" height="1.0" fill="#1c2158"/>
<rect x="344.06" y="639.02" width="1.1" height="1.0" fill="#1c2158"/>
<line x1="346.75" y1="638.27" x2="346.75" y2="646.28" stroke="#1c2158" stroke-width="0.5" />
<rect x="346.20" y="641.53" width="1.1" height="1.0" fill="#1c2158"/>
<rect x="346.20" y="639.75" width="1.1" height="1.0" fill="#1c2158"/>
<rect x="346.20" y="642.13" width="1.1" height="1.0" fill="#1c2158"/>
<line x1="348.89" y1="652.02" x2="348.89" y2="656.03" stroke="#1c2158" stroke-width="0.5" />
<rect x="348.34" y="653.82" width="1.1" height="1.0" fill="#1c2158"/>
<rect x="348.34" y="651.58" width="1.1" height="1.0" fill="#1c2158"/>
<rect x="348.34" y="652.39" width="1.1" height="1.0" fill="#1c2158"/>
<line x1="351.03" y1="654.57" x2="351.03" y2="658.29" stroke="#1c2158" stroke-width="0.5" />
<rect x="350.48" y="655.11" width="1.1" height="1.0" fill="#1c2158"/>
<rect x="350.48" y="657.48" width="1.1" height="1.0" fill="#1c2158"/>
<rect x="350.48" y="656.92" width="1.1" height="1.0" fill="#1c2158"/>
<line x1="353.16" y1="652.02" x2="353.16" y2="656.03" stroke="#1c2158" stroke-width="0.5" />
<rect x="352.61" y="652.16" width="1.1" height="1.0" fill="#1c2158"/>
<rect x="352.61" y="654.72" width="1.1" height="1.0" fill="#1c2158"/>
<rect x="352.61" y="652.08" width="1.1" height="1.0" fill="#1c2158"/>
<line x1="355.30" y1="639.07" x2="355.30" y2="645.48" stroke="#1c2158" stroke-width="0.5" />
<rect x="354.75" y="642.53" width="1.1" height="1.0" fill="#1c2158"/>
<rect x="354.75" y="639.38" width="1.1" height="1.0" fill="#1c2158"/>
<rect x="354.75" y="638.58" width="1.1" height="1.0" fill="#1c2158"/>
<line x1="357.44" y1="660.80" x2="357.44" y2="663.81" stroke="#1c2158" stroke-width="0.5" />
<rect x="356.89" y="662.92" width="1.1" height="1.0" fill="#1c2158"/>
<rect x="356.89" y="660.93" width="1.1" height="1.0" fill="#1c2158"/>
<rect x="356.89" y="660.95" width="1.1" height="1.0" fill="#1c2158"/>
<rect x="358.98" y="685.80" width="1.2" height="1.4" fill="#1c2158"/>
<line x1="361.72" y1="650.04" x2="361.72" y2="654.27" stroke="#1c2158" stroke-width="0.5" />
<rect x="361.17" y="653.70" width="1.1" height="1.0" fill="#1c2158"/>
<rect x="361.17" y="653.23" width="1.1" height="1.0" fill="#1c2158"/>
<rect x="361.17" y="650.76" width="1.1" height="1.0" fill="#1c2158"/>
<rect x="363.26" y="684.60" width="1.2" height="1.4" fill="#1c2158"/>
<line x1="366.00" y1="650.04" x2="366.00" y2="654.27" stroke="#1c2158" stroke-width="0.5" />
<rect x="365.45" y="653.61" width="1.1" height="1.0" fill="#1c2158"/>
<rect x="365.45" y="651.82" width="1.1" height="1.0" fill="#1c2158"/>
<rect x="365.45" y="652.41" width="1.1" height="1.0" fill="#1c2158"/>
<rect x="367.54" y="682.33" width="1.2" height="1.4" fill="#1c2158"/>
<line x1="370.28" y1="658.30" x2="370.28" y2="664.70" stroke="#1c2158" stroke-width="0.5" />
<rect x="369.73" y="659.11" width="1.1" height="1.0" fill="#1c2158"/>
<rect x="369.73" y="663.83" width="1.1" height="1.0" fill="#1c2158"/>
<rect x="369.73" y="662.22" width="1.1" height="1.0" fill="#1c2158"/>
<line x1="372.42" y1="655.63" x2="372.42" y2="662.03" stroke="#1c2158" stroke-width="0.5" />
<rect x="371.87" y="661.32" width="1.1" height="1.0" fill="#1c2158"/>
<rect x="371.87" y="660.85" width="1.1" height="1.0" fill="#1c2158"/>
<rect x="371.87" y="657.04" width="1.1" height="1.0" fill="#1c2158"/>
<line x1="374.55" y1="666.17" x2="374.55" y2="668.58" stroke="#1c2158" stroke-width="0.5" />
<rect x="374.00" y="666.54" width="1.1" height="1.0" fill="#1c2158"/>
<rect x="374.00" y="666.07" width="1.1" height="1.0" fill="#1c2158"/>
<rect x="374.00" y="666.02" width="1.1" height="1.0" fill="#1c2158"/>
<rect x="376.09" y="685.53" width="1.2" height="1.4" fill="#1c2158"/>
<rect x="378.23" y="685.53" width="1.2" height="1.4" fill="#1c2158"/>
<rect x="380.37" y="685.00" width="1.2" height="1.4" fill="#1c2158"/>
<rect x="382.51" y="683.26" width="1.2" height="1.4" fill="#1c2158"/>
<rect x="384.65" y="683.66" width="1.2" height="1.4" fill="#1c2158"/>
<rect x="386.79" y="685.26" width="1.2" height="1.4" fill="#1c2158"/>
<rect x="388.93" y="685.80" width="1.2" height="1.4" fill="#1c2158"/>
<rect x="391.07" y="685.80" width="1.2" height="1.4" fill="#1c2158"/>
<rect x="393.21" y="685.53" width="1.2" height="1.4" fill="#1c2158"/>
<rect x="395.34" y="685.80" width="1.2" height="1.4" fill="#1c2158"/>
<rect x="397.48" y="685.80" width="1.2" height="1.4" fill="#1c2158"/>
<rect x="399.62" y="685.53" width="1.2" height="1.4" fill="#1c2158"/>
<rect x="401.76" y="681.53" width="1.2" height="1.4" fill="#1c2158"/>
<rect x="403.90" y="685.00" width="1.2" height="1.4" fill="#1c2158"/>
<rect x="406.04" y="685.53" width="1.2" height="1.4" fill="#1c2158"/>
<rect x="408.18" y="679.12" width="1.2" height="1.4" fill="#1c2158"/>
<line x1="54.60" y1="606.60" x2="54.60" y2="692.80" stroke="#4a3b3d" stroke-width="0.9" />
<line x1="54.15" y1="692.80" x2="410.50" y2="692.80" stroke="#4a3b3d" stroke-width="0.9" />
<line x1="55.84" y1="692.80" x2="55.84" y2="694.20" stroke="#4a3b3d" stroke-width="0.45" />
<line x1="57.98" y1="692.80" x2="57.98" y2="694.20" stroke="#4a3b3d" stroke-width="0.45" />
<line x1="60.12" y1="692.80" x2="60.12" y2="694.20" stroke="#4a3b3d" stroke-width="0.45" />
<line x1="62.26" y1="692.80" x2="62.26" y2="694.20" stroke="#4a3b3d" stroke-width="0.45" />
<line x1="64.40" y1="692.80" x2="64.40" y2="695.90" stroke="#4a3b3d" stroke-width="0.7" />
<text x="64.40" y="705.60" font-size="9.4" text-anchor="middle" font-weight="normal" fill="#2a2426" font-style="normal" >5</text>
<line x1="66.54" y1="692.80" x2="66.54" y2="694.20" stroke="#4a3b3d" stroke-width="0.45" />
<line x1="68.68" y1="692.80" x2="68.68" y2="694.20" stroke="#4a3b3d" stroke-width="0.45" />
<line x1="70.82" y1="692.80" x2="70.82" y2="694.20" stroke="#4a3b3d" stroke-width="0.45" />
<line x1="72.96" y1="692.80" x2="72.96" y2="694.20" stroke="#4a3b3d" stroke-width="0.45" />
<line x1="75.09" y1="692.80" x2="75.09" y2="694.20" stroke="#4a3b3d" stroke-width="0.45" />
<line x1="77.23" y1="692.80" x2="77.23" y2="694.20" stroke="#4a3b3d" stroke-width="0.45" />
<line x1="79.37" y1="692.80" x2="79.37" y2="694.20" stroke="#4a3b3d" stroke-width="0.45" />
<line x1="81.51" y1="692.80" x2="81.51" y2="694.20" stroke="#4a3b3d" stroke-width="0.45" />
<line x1="83.65" y1="692.80" x2="83.65" y2="694.20" stroke="#4a3b3d" stroke-width="0.45" />
<line x1="85.79" y1="692.80" x2="85.79" y2="695.90" stroke="#4a3b3d" stroke-width="0.7" />
<text x="85.79" y="705.60" font-size="9.4" text-anchor="middle" font-weight="normal" fill="#2a2426" font-style="normal" >15</text>
<line x1="87.93" y1="692.80" x2="87.93" y2="694.20" stroke="#4a3b3d" stroke-width="0.45" />
<line x1="90.07" y1="692.80" x2="90.07" y2="694.20" stroke="#4a3b3d" stroke-width="0.45" />
<line x1="92.21" y1="692.80" x2="92.21" y2="694.20" stroke="#4a3b3d" stroke-width="0.45" />
<line x1="94.35" y1="692.80" x2="94.35" y2="694.20" stroke="#4a3b3d" stroke-width="0.45" />
<line x1="96.48" y1="692.80" x2="96.48" y2="694.20" stroke="#4a3b3d" stroke-width="0.45" />
<line x1="98.62" y1="692.80" x2="98.62" y2="694.20" stroke="#4a3b3d" stroke-width="0.45" />
<line x1="100.76" y1="692.80" x2="100.76" y2="694.20" stroke="#4a3b3d" stroke-width="0.45" />
<line x1="102.90" y1="692.80" x2="102.90" y2="694.20" stroke="#4a3b3d" stroke-width="0.45" />
<line x1="105.04" y1="692.80" x2="105.04" y2="694.20" stroke="#4a3b3d" stroke-width="0.45" />
<line x1="107.18" y1="692.80" x2="107.18" y2="695.90" stroke="#4a3b3d" stroke-width="0.7" />
<text x="107.18" y="705.60" font-size="9.4" text-anchor="middle" font-weight="normal" fill="#2a2426" font-style="normal" >25</text>
<line x1="109.32" y1="692.80" x2="109.32" y2="694.20" stroke="#4a3b3d" stroke-width="0.45" />
<line x1="111.46" y1="692.80" x2="111.46" y2="694.20" stroke="#4a3b3d" stroke-width="0.45" />
<line x1="113.60" y1="692.80" x2="113.60" y2="694.20" stroke="#4a3b3d" stroke-width="0.45" />
<line x1="115.74" y1="692.80" x2="115.74" y2="694.20" stroke="#4a3b3d" stroke-width="0.45" />
<line x1="117.88" y1="692.80" x2="117.88" y2="694.20" stroke="#4a3b3d" stroke-width="0.45" />
<line x1="120.01" y1="692.80" x2="120.01" y2="694.20" stroke="#4a3b3d" stroke-width="0.45" />
<line x1="122.15" y1="692.80" x2="122.15" y2="694.20" stroke="#4a3b3d" stroke-width="0.45" />
<line x1="124.29" y1="692.80" x2="124.29" y2="694.20" stroke="#4a3b3d" stroke-width="0.45" />
<line x1="126.43" y1="692.80" x2="126.43" y2="694.20" stroke="#4a3b3d" stroke-width="0.45" />
<line x1="128.57" y1="692.80" x2="128.57" y2="695.90" stroke="#4a3b3d" stroke-width="0.7" />
<text x="128.57" y="705.60" font-size="9.4" text-anchor="middle" font-weight="normal" fill="#2a2426" font-style="normal" >35</text>
<line x1="130.71" y1="692.80" x2="130.71" y2="694.20" stroke="#4a3b3d" stroke-width="0.45" />
<line x1="132.85" y1="692.80" x2="132.85" y2="694.20" stroke="#4a3b3d" stroke-width="0.45" />
<line x1="134.99" y1="692.80" x2="134.99" y2="694.20" stroke="#4a3b3d" stroke-width="0.45" />
<line x1="137.13" y1="692.80" x2="137.13" y2="694.20" stroke="#4a3b3d" stroke-width="0.45" />
<line x1="139.26" y1="692.80" x2="139.26" y2="694.20" stroke="#4a3b3d" stroke-width="0.45" />
<line x1="141.40" y1="692.80" x2="141.40" y2="694.20" stroke="#4a3b3d" stroke-width="0.45" />
<line x1="143.54" y1="692.80" x2="143.54" y2="694.20" stroke="#4a3b3d" stroke-width="0.45" />
<line x1="145.68" y1="692.80" x2="145.68" y2="694.20" stroke="#4a3b3d" stroke-width="0.45" />
<line x1="147.82" y1="692.80" x2="147.82" y2="694.20" stroke="#4a3b3d" stroke-width="0.45" />
<line x1="149.96" y1="692.80" x2="149.96" y2="695.90" stroke="#4a3b3d" stroke-width="0.7" />
<text x="149.96" y="705.60" font-size="9.4" text-anchor="middle" font-weight="normal" fill="#2a2426" font-style="normal" >45</text>
<line x1="152.10" y1="692.80" x2="152.10" y2="694.20" stroke="#4a3b3d" stroke-width="0.45" />
<line x1="154.24" y1="692.80" x2="154.24" y2="694.20" stroke="#4a3b3d" stroke-width="0.45" />
<line x1="156.38" y1="692.80" x2="156.38" y2="694.20" stroke="#4a3b3d" stroke-width="0.45" />
<line x1="158.52" y1="692.80" x2="158.52" y2="694.20" stroke="#4a3b3d" stroke-width="0.45" />
<line x1="160.66" y1="692.80" x2="160.66" y2="694.20" stroke="#4a3b3d" stroke-width="0.45" />
<line x1="162.79" y1="692.80" x2="162.79" y2="694.20" stroke="#4a3b3d" stroke-width="0.45" />
<line x1="164.93" y1="692.80" x2="164.93" y2="694.20" stroke="#4a3b3d" stroke-width="0.45" />
<line x1="167.07" y1="692.80" x2="167.07" y2="694.20" stroke="#4a3b3d" stroke-width="0.45" />
<line x1="169.21" y1="692.80" x2="169.21" y2="694.20" stroke="#4a3b3d" stroke-width="0.45" />
<line x1="171.35" y1="692.80" x2="171.35" y2="695.90" stroke="#4a3b3d" stroke-width="0.7" />
<text x="171.35" y="705.60" font-size="9.4" text-anchor="middle" font-weight="normal" fill="#2a2426" font-style="normal" >55</text>
<line x1="173.49" y1="692.80" x2="173.49" y2="694.20" stroke="#4a3b3d" stroke-width="0.45" />
<line x1="175.63" y1="692.80" x2="175.63" y2="694.20" stroke="#4a3b3d" stroke-width="0.45" />
<line x1="177.77" y1="692.80" x2="177.77" y2="694.20" stroke="#4a3b3d" stroke-width="0.45" />
<line x1="179.91" y1="692.80" x2="179.91" y2="694.20" stroke="#4a3b3d" stroke-width="0.45" />
<line x1="182.04" y1="692.80" x2="182.04" y2="694.20" stroke="#4a3b3d" stroke-width="0.45" />
<line x1="184.18" y1="692.80" x2="184.18" y2="694.20" stroke="#4a3b3d" stroke-width="0.45" />
<line x1="186.32" y1="692.80" x2="186.32" y2="694.20" stroke="#4a3b3d" stroke-width="0.45" />
<line x1="188.46" y1="692.80" x2="188.46" y2="694.20" stroke="#4a3b3d" stroke-width="0.45" />
<line x1="190.60" y1="692.80" x2="190.60" y2="694.20" stroke="#4a3b3d" stroke-width="0.45" />
<line x1="192.74" y1="692.80" x2="192.74" y2="695.90" stroke="#4a3b3d" stroke-width="0.7" />
<text x="192.74" y="705.60" font-size="9.4" text-anchor="middle" font-weight="normal" fill="#2a2426" font-style="normal" >65</text>
<line x1="194.88" y1="692.80" x2="194.88" y2="694.20" stroke="#4a3b3d" stroke-width="0.45" />
<line x1="197.02" y1="692.80" x2="197.02" y2="694.20" stroke="#4a3b3d" stroke-width="0.45" />
<line x1="199.16" y1="692.80" x2="199.16" y2="694.20" stroke="#4a3b3d" stroke-width="0.45" />
<line x1="201.30" y1="692.80" x2="201.30" y2="694.20" stroke="#4a3b3d" stroke-width="0.45" />
<line x1="203.44" y1="692.80" x2="203.44" y2="694.20" stroke="#4a3b3d" stroke-width="0.45" />
<line x1="205.57" y1="692.80" x2="205.57" y2="694.20" stroke="#4a3b3d" stroke-width="0.45" />
<line x1="207.71" y1="692.80" x2="207.71" y2="694.20" stroke="#4a3b3d" stroke-width="0.45" />
<line x1="209.85" y1="692.80" x2="209.85" y2="694.20" stroke="#4a3b3d" stroke-width="0.45" />
<line x1="211.99" y1="692.80" x2="211.99" y2="694.20" stroke="#4a3b3d" stroke-width="0.45" />
<line x1="214.13" y1="692.80" x2="214.13" y2="695.90" stroke="#4a3b3d" stroke-width="0.7" />
<text x="214.13" y="705.60" font-size="9.4" text-anchor="middle" font-weight="normal" fill="#2a2426" font-style="normal" >75</text>
<line x1="216.27" y1="692.80" x2="216.27" y2="694.20" stroke="#4a3b3d" stroke-width="0.45" />
<line x1="218.41" y1="692.80" x2="218.41" y2="694.20" stroke="#4a3b3d" stroke-width="0.45" />
<line x1="220.55" y1="692.80" x2="220.55" y2="694.20" stroke="#4a3b3d" stroke-width="0.45" />
<line x1="222.69" y1="692.80" x2="222.69" y2="694.20" stroke="#4a3b3d" stroke-width="0.45" />
<line x1="224.82" y1="692.80" x2="224.82" y2="694.20" stroke="#4a3b3d" stroke-width="0.45" />
<line x1="226.96" y1="692.80" x2="226.96" y2="694.20" stroke="#4a3b3d" stroke-width="0.45" />
<line x1="229.10" y1="692.80" x2="229.10" y2="694.20" stroke="#4a3b3d" stroke-width="0.45" />
<line x1="231.24" y1="692.80" x2="231.24" y2="694.20" stroke="#4a3b3d" stroke-width="0.45" />
<line x1="233.38" y1="692.80" x2="233.38" y2="694.20" stroke="#4a3b3d" stroke-width="0.45" />
<line x1="235.52" y1="692.80" x2="235.52" y2="695.90" stroke="#4a3b3d" stroke-width="0.7" />
<text x="235.52" y="705.60" font-size="9.4" text-anchor="middle" font-weight="normal" fill="#2a2426" font-style="normal" >85</text>
<line x1="237.66" y1="692.80" x2="237.66" y2="694.20" stroke="#4a3b3d" stroke-width="0.45" />
<line x1="239.80" y1="692.80" x2="239.80" y2="694.20" stroke="#4a3b3d" stroke-width="0.45" />
<line x1="241.94" y1="692.80" x2="241.94" y2="694.20" stroke="#4a3b3d" stroke-width="0.45" />
<line x1="244.08" y1="692.80" x2="244.08" y2="694.20" stroke="#4a3b3d" stroke-width="0.45" />
<line x1="246.21" y1="692.80" x2="246.21" y2="694.20" stroke="#4a3b3d" stroke-width="0.45" />
<line x1="248.35" y1="692.80" x2="248.35" y2="694.20" stroke="#4a3b3d" stroke-width="0.45" />
<line x1="250.49" y1="692.80" x2="250.49" y2="694.20" stroke="#4a3b3d" stroke-width="0.45" />
<line x1="252.63" y1="692.80" x2="252.63" y2="694.20" stroke="#4a3b3d" stroke-width="0.45" />
<line x1="254.77" y1="692.80" x2="254.77" y2="694.20" stroke="#4a3b3d" stroke-width="0.45" />
<line x1="256.91" y1="692.80" x2="256.91" y2="695.90" stroke="#4a3b3d" stroke-width="0.7" />
<text x="256.91" y="705.60" font-size="9.4" text-anchor="middle" font-weight="normal" fill="#2a2426" font-style="normal" >95</text>
<line x1="259.05" y1="692.80" x2="259.05" y2="694.20" stroke="#4a3b3d" stroke-width="0.45" />
<line x1="261.19" y1="692.80" x2="261.19" y2="694.20" stroke="#4a3b3d" stroke-width="0.45" />
<line x1="263.33" y1="692.80" x2="263.33" y2="694.20" stroke="#4a3b3d" stroke-width="0.45" />
<line x1="265.47" y1="692.80" x2="265.47" y2="694.20" stroke="#4a3b3d" stroke-width="0.45" />
<line x1="267.61" y1="692.80" x2="267.61" y2="694.20" stroke="#4a3b3d" stroke-width="0.45" />
<line x1="269.74" y1="692.80" x2="269.74" y2="694.20" stroke="#4a3b3d" stroke-width="0.45" />
<line x1="271.88" y1="692.80" x2="271.88" y2="694.20" stroke="#4a3b3d" stroke-width="0.45" />
<line x1="274.02" y1="692.80" x2="274.02" y2="694.20" stroke="#4a3b3d" stroke-width="0.45" />
<line x1="276.16" y1="692.80" x2="276.16" y2="694.20" stroke="#4a3b3d" stroke-width="0.45" />
<line x1="278.30" y1="692.80" x2="278.30" y2="695.90" stroke="#4a3b3d" stroke-width="0.7" />
<text x="278.30" y="705.60" font-size="9.4" text-anchor="middle" font-weight="normal" fill="#2a2426" font-style="normal" >105</text>
<line x1="280.44" y1="692.80" x2="280.44" y2="694.20" stroke="#4a3b3d" stroke-width="0.45" />
<line x1="282.58" y1="692.80" x2="282.58" y2="694.20" stroke="#4a3b3d" stroke-width="0.45" />
<line x1="284.72" y1="692.80" x2="284.72" y2="694.20" stroke="#4a3b3d" stroke-width="0.45" />
<line x1="286.86" y1="692.80" x2="286.86" y2="694.20" stroke="#4a3b3d" stroke-width="0.45" />
<line x1="289.00" y1="692.80" x2="289.00" y2="694.20" stroke="#4a3b3d" stroke-width="0.45" />
<line x1="291.13" y1="692.80" x2="291.13" y2="694.20" stroke="#4a3b3d" stroke-width="0.45" />
<line x1="293.27" y1="692.80" x2="293.27" y2="694.20" stroke="#4a3b3d" stroke-width="0.45" />
<line x1="295.41" y1="692.80" x2="295.41" y2="694.20" stroke="#4a3b3d" stroke-width="0.45" />
<line x1="297.55" y1="692.80" x2="297.55" y2="694.20" stroke="#4a3b3d" stroke-width="0.45" />
<line x1="299.69" y1="692.80" x2="299.69" y2="695.90" stroke="#4a3b3d" stroke-width="0.7" />
<text x="299.69" y="705.60" font-size="9.4" text-anchor="middle" font-weight="normal" fill="#2a2426" font-style="normal" >115</text>
<line x1="301.83" y1="692.80" x2="301.83" y2="694.20" stroke="#4a3b3d" stroke-width="0.45" />
<line x1="303.97" y1="692.80" x2="303.97" y2="694.20" stroke="#4a3b3d" stroke-width="0.45" />
<line x1="306.11" y1="692.80" x2="306.11" y2="694.20" stroke="#4a3b3d" stroke-width="0.45" />
<line x1="308.25" y1="692.80" x2="308.25" y2="694.20" stroke="#4a3b3d" stroke-width="0.45" />
<line x1="310.38" y1="692.80" x2="310.38" y2="694.20" stroke="#4a3b3d" stroke-width="0.45" />
<line x1="312.52" y1="692.80" x2="312.52" y2="694.20" stroke="#4a3b3d" stroke-width="0.45" />
<line x1="314.66" y1="692.80" x2="314.66" y2="694.20" stroke="#4a3b3d" stroke-width="0.45" />
<line x1="316.80" y1="692.80" x2="316.80" y2="694.20" stroke="#4a3b3d" stroke-width="0.45" />
<line x1="318.94" y1="692.80" x2="318.94" y2="694.20" stroke="#4a3b3d" stroke-width="0.45" />
<line x1="321.08" y1="692.80" x2="321.08" y2="695.90" stroke="#4a3b3d" stroke-width="0.7" />
<text x="321.08" y="705.60" font-size="9.4" text-anchor="middle" font-weight="normal" fill="#2a2426" font-style="normal" >125</text>
<line x1="323.22" y1="692.80" x2="323.22" y2="694.20" stroke="#4a3b3d" stroke-width="0.45" />
<line x1="325.36" y1="692.80" x2="325.36" y2="694.20" stroke="#4a3b3d" stroke-width="0.45" />
<line x1="327.50" y1="692.80" x2="327.50" y2="694.20" stroke="#4a3b3d" stroke-width="0.45" />
<line x1="329.64" y1="692.80" x2="329.64" y2="694.20" stroke="#4a3b3d" stroke-width="0.45" />
<line x1="331.77" y1="692.80" x2="331.77" y2="694.20" stroke="#4a3b3d" stroke-width="0.45" />
<line x1="333.91" y1="692.80" x2="333.91" y2="694.20" stroke="#4a3b3d" stroke-width="0.45" />
<line x1="336.05" y1="692.80" x2="336.05" y2="694.20" stroke="#4a3b3d" stroke-width="0.45" />
<line x1="338.19" y1="692.80" x2="338.19" y2="694.20" stroke="#4a3b3d" stroke-width="0.45" />
<line x1="340.33" y1="692.80" x2="340.33" y2="694.20" stroke="#4a3b3d" stroke-width="0.45" />
<line x1="342.47" y1="692.80" x2="342.47" y2="695.90" stroke="#4a3b3d" stroke-width="0.7" />
<text x="342.47" y="705.60" font-size="9.4" text-anchor="middle" font-weight="normal" fill="#2a2426" font-style="normal" >135</text>
<line x1="344.61" y1="692.80" x2="344.61" y2="694.20" stroke="#4a3b3d" stroke-width="0.45" />
<line x1="346.75" y1="692.80" x2="346.75" y2="694.20" stroke="#4a3b3d" stroke-width="0.45" />
<line x1="348.89" y1="692.80" x2="348.89" y2="694.20" stroke="#4a3b3d" stroke-width="0.45" />
<line x1="351.03" y1="692.80" x2="351.03" y2="694.20" stroke="#4a3b3d" stroke-width="0.45" />
<line x1="353.16" y1="692.80" x2="353.16" y2="694.20" stroke="#4a3b3d" stroke-width="0.45" />
<line x1="355.30" y1="692.80" x2="355.30" y2="694.20" stroke="#4a3b3d" stroke-width="0.45" />
<line x1="357.44" y1="692.80" x2="357.44" y2="694.20" stroke="#4a3b3d" stroke-width="0.45" />
<line x1="359.58" y1="692.80" x2="359.58" y2="694.20" stroke="#4a3b3d" stroke-width="0.45" />
<line x1="361.72" y1="692.80" x2="361.72" y2="694.20" stroke="#4a3b3d" stroke-width="0.45" />
<line x1="363.86" y1="692.80" x2="363.86" y2="695.90" stroke="#4a3b3d" stroke-width="0.7" />
<text x="363.86" y="705.60" font-size="9.4" text-anchor="middle" font-weight="normal" fill="#2a2426" font-style="normal" >145</text>
<line x1="366.00" y1="692.80" x2="366.00" y2="694.20" stroke="#4a3b3d" stroke-width="0.45" />
<line x1="368.14" y1="692.80" x2="368.14" y2="694.20" stroke="#4a3b3d" stroke-width="0.45" />
<line x1="370.28" y1="692.80" x2="370.28" y2="694.20" stroke="#4a3b3d" stroke-width="0.45" />
<line x1="372.42" y1="692.80" x2="372.42" y2="694.20" stroke="#4a3b3d" stroke-width="0.45" />
<line x1="374.55" y1="692.80" x2="374.55" y2="694.20" stroke="#4a3b3d" stroke-width="0.45" />
<line x1="376.69" y1="692.80" x2="376.69" y2="694.20" stroke="#4a3b3d" stroke-width="0.45" />
<line x1="378.83" y1="692.80" x2="378.83" y2="694.20" stroke="#4a3b3d" stroke-width="0.45" />
<line x1="380.97" y1="692.80" x2="380.97" y2="694.20" stroke="#4a3b3d" stroke-width="0.45" />
<line x1="383.11" y1="692.80" x2="383.11" y2="694.20" stroke="#4a3b3d" stroke-width="0.45" />
<line x1="385.25" y1="692.80" x2="385.25" y2="695.90" stroke="#4a3b3d" stroke-width="0.7" />
<text x="385.25" y="705.60" font-size="9.4" text-anchor="middle" font-weight="normal" fill="#2a2426" font-style="normal" >155</text>
<line x1="387.39" y1="692.80" x2="387.39" y2="694.20" stroke="#4a3b3d" stroke-width="0.45" />
<line x1="389.53" y1="692.80" x2="389.53" y2="694.20" stroke="#4a3b3d" stroke-width="0.45" />
<line x1="391.67" y1="692.80" x2="391.67" y2="694.20" stroke="#4a3b3d" stroke-width="0.45" />
<line x1="393.81" y1="692.80" x2="393.81" y2="694.20" stroke="#4a3b3d" stroke-width="0.45" />
<line x1="395.94" y1="692.80" x2="395.94" y2="694.20" stroke="#4a3b3d" stroke-width="0.45" />
<line x1="398.08" y1="692.80" x2="398.08" y2="694.20" stroke="#4a3b3d" stroke-width="0.45" />
<line x1="400.22" y1="692.80" x2="400.22" y2="694.20" stroke="#4a3b3d" stroke-width="0.45" />
<line x1="402.36" y1="692.80" x2="402.36" y2="694.20" stroke="#4a3b3d" stroke-width="0.45" />
<line x1="404.50" y1="692.80" x2="404.50" y2="694.20" stroke="#4a3b3d" stroke-width="0.45" />
<line x1="406.64" y1="692.80" x2="406.64" y2="695.90" stroke="#4a3b3d" stroke-width="0.7" />
<text x="406.64" y="705.60" font-size="9.4" text-anchor="middle" font-weight="normal" fill="#2a2426" font-style="normal" >165</text>
<line x1="408.78" y1="692.80" x2="408.78" y2="694.20" stroke="#4a3b3d" stroke-width="0.45" />
<line x1="51.60" y1="687.40" x2="54.60" y2="687.40" stroke="#4a3b3d" stroke-width="0.7" />
<text x="50.60" y="690.70" font-size="9.4" text-anchor="end" font-weight="normal" fill="#2a2426" font-style="normal" >0</text>
<line x1="51.60" y1="660.70" x2="54.60" y2="660.70" stroke="#4a3b3d" stroke-width="0.7" />
<text x="50.60" y="664.00" font-size="9.4" text-anchor="end" font-weight="normal" fill="#2a2426" font-style="normal" >1000</text>
<line x1="51.60" y1="634.00" x2="54.60" y2="634.00" stroke="#4a3b3d" stroke-width="0.7" />
<text x="50.60" y="637.30" font-size="9.4" text-anchor="end" font-weight="normal" fill="#2a2426" font-style="normal" >2000</text>
<line x1="51.60" y1="607.30" x2="54.60" y2="607.30" stroke="#4a3b3d" stroke-width="0.7" />
<text x="50.60" y="610.60" font-size="9.4" text-anchor="end" font-weight="normal" fill="#2a2426" font-style="normal" >3000</text>
<text x="61.00" y="612.00" font-size="9.5" text-anchor="start" font-weight="normal" fill="#1f1b1c" font-style="normal" >tetra-GRAB-Sia3</text>
<text transform="translate(15.1,648.60) rotate(-90)" font-size="9.6" text-anchor="middle" fill="#2a2426">RFU</text>
<rect x="77.40" y="721.20" width="8.20" height="8.00" fill="#dedb4e" />
<text x="91.10" y="728.00" font-size="9.0" text-anchor="start" font-weight="normal" fill="#222" font-style="normal" >Galactose</text>
<rect x="77.40" y="733.60" width="8.20" height="8.00" fill="#e19d4c" />
<text x="91.10" y="740.40" font-size="9.0" text-anchor="start" font-weight="normal" fill="#222" font-style="normal" >GalNAc</text>
<rect x="142.50" y="721.20" width="8.20" height="8.00" fill="#1e9bd6" />
<text x="154.90" y="728.00" font-size="9.0" text-anchor="start" font-weight="normal" fill="#222" font-style="normal" >Glucose</text>
<rect x="142.50" y="733.60" width="8.20" height="8.00" fill="#1567aa" />
<text x="154.90" y="740.40" font-size="9.0" text-anchor="start" font-weight="normal" fill="#222" font-style="normal" >GlcNAc</text>
<rect x="200.30" y="721.20" width="8.20" height="8.00" fill="#13803f" />
<text x="213.40" y="728.00" font-size="9.0" text-anchor="start" font-weight="normal" fill="#222" font-style="normal" >Mannose</text>
<rect x="200.30" y="733.60" width="8.20" height="8.00" fill="#e2232e" />
<text x="213.40" y="740.40" font-size="9.0" text-anchor="start" font-weight="normal" fill="#222" font-style="normal" >Fucose</text>
<rect x="260.40" y="721.20" width="8.20" height="8.00" fill="#e29aab" />
<text x="272.20" y="728.00" font-size="9.0" text-anchor="start" font-weight="normal" fill="#222" font-style="normal" >Rha,Xyl,Sulfated</text>
<rect x="260.40" y="733.60" width="8.20" height="8.00" fill="#c2b59b" />
<text x="272.20" y="740.40" font-size="9.0" text-anchor="start" font-weight="normal" fill="#222" font-style="normal" >GAGs</text>
<rect x="348.30" y="721.20" width="8.20" height="8.00" fill="#7b1e6e" />
<text x="362.40" y="728.00" font-size="9.0" text-anchor="start" font-weight="normal" fill="#222" font-style="normal" >Neu5Ac</text>
<rect x="446.10" y="322.80" width="228.60" height="79.00" fill="#f2f2f2" />
<rect x="446.10" y="406.60" width="228.60" height="93.20" fill="#f2f2f2" />
<rect x="446.10" y="504.20" width="228.60" height="118.00" fill="#f2f2f2" />
<rect x="446.10" y="626.80" width="228.60" height="84.00" fill="#f2f2f2" />
<text x="451.70" y="333.60" font-size="8.7" text-anchor="start" font-weight="bold" fill="#111" font-style="normal" >Common</text>
<text x="451.70" y="343.90" font-size="8.7" text-anchor="start" font-weight="bold" fill="#111" font-style="normal" >glycomotifs</text>
<text x="451.70" y="417.60" font-size="8.7" text-anchor="start" font-weight="bold" fill="#111" font-style="normal" >Glycomotifs</text>
<text x="451.70" y="427.90" font-size="8.7" text-anchor="start" font-weight="bold" fill="#111" font-style="normal" >in glycolipids</text>
<text x="451.70" y="516.90" font-size="8.7" text-anchor="start" font-weight="bold" fill="#111" font-style="normal" >Glycomotifs</text>
<text x="451.70" y="527.20" font-size="8.7" text-anchor="start" font-weight="bold" fill="#111" font-style="normal" >in N-glycans</text>
<text x="451.70" y="638.40" font-size="8.7" text-anchor="start" font-weight="bold" fill="#111" font-style="normal" >Glycomotifs</text>
<text x="451.70" y="648.70" font-size="8.7" text-anchor="start" font-weight="bold" fill="#111" font-style="normal" >in O-glycans</text>
<line x1="534.40" y1="340.80" x2="534.40" y2="352.60" stroke="#3a3a3a" stroke-width="0.9" />
<polygon points="534.40,336.20 539.00,340.80 534.40,345.40 529.80,340.80" fill="#7a1e6e" stroke="#3a3a3a" stroke-width="0.4"/>
<circle cx="534.40" cy="352.60" r="3.85" fill="#e2da45" stroke="#3a3a3a" stroke-width="0.4"/>
<text x="530.60" y="349.20" font-size="6.3" text-anchor="end" font-weight="normal" fill="#333" font-style="normal" >α3</text>
<line x1="564.40" y1="340.40" x2="564.40" y2="352.30" stroke="#3a3a3a" stroke-width="0.9" />
<polygon points="564.40,335.80 569.00,340.40 564.40,345.00 559.80,340.40" fill="#7a1e6e" stroke="#3a3a3a" stroke-width="0.4"/>
<circle cx="564.40" cy="352.30" r="3.85" fill="#e2da45" stroke="#3a3a3a" stroke-width="0.4"/>
<text x="560.60" y="348.80" font-size="6.3" text-anchor="end" font-weight="normal" fill="#333" font-style="normal" >α6</text>
<line x1="596.10" y1="333.70" x2="596.10" y2="355.60" stroke="#3a3a3a" stroke-width="0.9" />
<polygon points="596.10,329.10 600.70,333.70 596.10,338.30 591.50,333.70" fill="#7a1e6e" stroke="#3a3a3a" stroke-width="0.4"/>
<circle cx="596.10" cy="345.40" r="3.85" fill="#e2da45" stroke="#3a3a3a" stroke-width="0.4"/>
<rect x="592.50" y="352.00" width="7.20" height="7.20" fill="#3263a8" stroke="#3a3a3a" stroke-width="0.4"/>
<text x="592.10" y="340.80" font-size="6.3" text-anchor="end" font-weight="normal" fill="#333" font-style="normal" >α3</text>
<text x="592.10" y="351.40" font-size="6.3" text-anchor="end" font-weight="normal" fill="#333" font-style="normal" >β4</text>
<line x1="626.70" y1="333.70" x2="626.70" y2="355.60" stroke="#3a3a3a" stroke-width="0.9" />
<polygon points="626.70,329.10 631.30,333.70 626.70,338.30 622.10,333.70" fill="#7a1e6e" stroke="#3a3a3a" stroke-width="0.4"/>
<circle cx="626.70" cy="345.40" r="3.85" fill="#e2da45" stroke="#3a3a3a" stroke-width="0.4"/>
<rect x="623.10" y="352.00" width="7.20" height="7.20" fill="#3263a8" stroke="#3a3a3a" stroke-width="0.4"/>
<text x="622.70" y="340.80" font-size="6.3" text-anchor="end" font-weight="normal" fill="#333" font-style="normal" >α6</text>
<text x="622.70" y="351.40" font-size="6.3" text-anchor="end" font-weight="normal" fill="#333" font-style="normal" >β4</text>
<line x1="657.40" y1="333.20" x2="657.40" y2="354.40" stroke="#3a3a3a" stroke-width="0.9" />
<line x1="657.40" y1="354.40" x2="664.00" y2="354.40" stroke="#3a3a3a" stroke-width="0.9" />
<polygon points="657.40,328.60 662.00,333.20 657.40,337.80 652.80,333.20" fill="#7a1e6e" stroke="#3a3a3a" stroke-width="0.4"/>
<circle cx="657.40" cy="344.60" r="3.85" fill="#e2da45" stroke="#3a3a3a" stroke-width="0.4"/>
<rect x="653.80" y="350.80" width="7.20" height="7.20" fill="#3263a8" stroke="#3a3a3a" stroke-width="0.4"/>
<polygon points="662.30,354.40 670.80,350.40 670.80,358.40" fill="#e3262d" stroke="#3a3a3a" stroke-width="0.3"/>
<text x="653.40" y="339.60" font-size="6.3" text-anchor="end" font-weight="normal" fill="#333" font-style="normal" >α3</text>
<text x="653.40" y="351.00" font-size="6.3" text-anchor="end" font-weight="normal" fill="#333" font-style="normal" >β3</text>
<text x="661.30" y="351.00" font-size="6.3" text-anchor="start" font-weight="normal" fill="#333" font-style="normal" >α4</text>
<text x="534.20" y="370.90" font-size="8.4" text-anchor="middle" font-weight="normal" fill="#c0333f" font-style="normal" >CA140</text>
<text x="564.40" y="370.90" font-size="8.4" text-anchor="middle" font-weight="normal" fill="#c0333f" font-style="normal" >CA154</text>
<text x="594.60" y="370.90" font-size="8.4" text-anchor="middle" font-weight="normal" fill="#c0333f" font-style="normal" >CA137</text>
<text x="625.60" y="370.90" font-size="8.4" text-anchor="middle" font-weight="normal" fill="#c0333f" font-style="normal" >CA152</text>
<text x="658.50" y="370.90" font-size="8.4" text-anchor="middle" font-weight="normal" fill="#c0333f" font-style="normal" >CA132</text>
<text x="450.20" y="384.70" font-size="8.8" text-anchor="start" font-weight="normal" fill="#222" font-style="normal" >tetra-GRAB-Sia</text>
<text x="450.20" y="397.40" font-size="8.8" text-anchor="start" font-weight="normal" fill="#222" font-style="normal" >tetra-GRAB-Sia3</text>
<line x1="531.70" y1="381.40" x2="536.70" y2="381.40" stroke="#1e1e1e" stroke-width="1.0" />
<line x1="534.20" y1="378.90" x2="534.20" y2="383.90" stroke="#1e1e1e" stroke-width="1.0" />
<line x1="531.70" y1="394.10" x2="536.70" y2="394.10" stroke="#1e1e1e" stroke-width="1.0" />
<line x1="534.20" y1="391.60" x2="534.20" y2="396.60" stroke="#1e1e1e" stroke-width="1.0" />
<line x1="562.50" y1="381.40" x2="567.50" y2="381.40" stroke="#1e1e1e" stroke-width="1.0" />
<line x1="565.00" y1="378.90" x2="565.00" y2="383.90" stroke="#1e1e1e" stroke-width="1.0" />
<line x1="562.70" y1="394.30" x2="567.30" y2="394.30" stroke="#2a2a2a" stroke-width="1.0" />
<line x1="593.60" y1="381.40" x2="598.60" y2="381.40" stroke="#1e1e1e" stroke-width="1.0" />
<line x1="596.10" y1="378.90" x2="596.10" y2="383.90" stroke="#1e1e1e" stroke-width="1.0" />
<line x1="593.60" y1="394.10" x2="598.60" y2="394.10" stroke="#1e1e1e" stroke-width="1.0" />
<line x1="596.10" y1="391.60" x2="596.10" y2="396.60" stroke="#1e1e1e" stroke-width="1.0" />
<line x1="624.20" y1="381.40" x2="629.20" y2="381.40" stroke="#1e1e1e" stroke-width="1.0" />
<line x1="626.70" y1="378.90" x2="626.70" y2="383.90" stroke="#1e1e1e" stroke-width="1.0" />
<line x1="624.40" y1="394.30" x2="629.00" y2="394.30" stroke="#2a2a2a" stroke-width="1.0" />
<line x1="655.30" y1="381.40" x2="660.30" y2="381.40" stroke="#1e1e1e" stroke-width="1.0" />
<line x1="657.80" y1="378.90" x2="657.80" y2="383.90" stroke="#1e1e1e" stroke-width="1.0" />
<line x1="655.30" y1="394.10" x2="660.30" y2="394.10" stroke="#1e1e1e" stroke-width="1.0" />
<line x1="657.80" y1="391.60" x2="657.80" y2="396.60" stroke="#1e1e1e" stroke-width="1.0" />
<line x1="538.10" y1="435.90" x2="538.10" y2="457.80" stroke="#3a3a3a" stroke-width="0.9" />
<polygon points="538.10,431.30 542.70,435.90 538.10,440.50 533.50,435.90" fill="#7a1e6e" stroke="#3a3a3a" stroke-width="0.4"/>
<circle cx="538.10" cy="447.00" r="3.85" fill="#e2da45" stroke="#3a3a3a" stroke-width="0.4"/>
<circle cx="538.10" cy="457.80" r="3.85" fill="#3263a8" stroke="#3a3a3a" stroke-width="0.4"/>
<text x="534.30" y="443.40" font-size="6.3" text-anchor="end" font-weight="normal" fill="#333" font-style="normal" >α3</text>
<text x="534.30" y="454.40" font-size="6.3" text-anchor="end" font-weight="normal" fill="#333" font-style="normal" >β4</text>
<line x1="577.00" y1="434.70" x2="577.00" y2="457.60" stroke="#3a3a3a" stroke-width="0.9" />
<polygon points="577.00,430.10 581.60,434.70 577.00,439.30 572.40,434.70" fill="#7a1e6e" stroke="#3a3a3a" stroke-width="0.4"/>
<circle cx="577.00" cy="447.10" r="3.85" fill="#e2da45" stroke="#3a3a3a" stroke-width="0.4"/>
<circle cx="577.00" cy="457.60" r="3.85" fill="#3263a8" stroke="#3a3a3a" stroke-width="0.4"/>
<text x="573.20" y="443.00" font-size="6.3" text-anchor="end" font-weight="normal" fill="#333" font-style="normal" >α6</text>
<text x="573.20" y="454.30" font-size="6.3" text-anchor="end" font-weight="normal" fill="#333" font-style="normal" >β4</text>
<line x1="618.00" y1="423.40" x2="618.00" y2="458.00" stroke="#3a3a3a" stroke-width="0.9" />
<polygon points="618.00,418.80 622.60,423.40 618.00,428.00 613.40,423.40" fill="#7a1e6e" stroke="#3a3a3a" stroke-width="0.4"/>
<polygon points="618.00,431.50 622.60,436.10 618.00,440.70 613.40,436.10" fill="#7a1e6e" stroke="#3a3a3a" stroke-width="0.4"/>
<circle cx="618.00" cy="447.40" r="3.85" fill="#e2da45" stroke="#3a3a3a" stroke-width="0.4"/>
<circle cx="618.00" cy="458.00" r="3.85" fill="#3263a8" stroke="#3a3a3a" stroke-width="0.4"/>
<text x="614.20" y="431.60" font-size="6.3" text-anchor="end" font-weight="normal" fill="#333" font-style="normal" >α8</text>
<text x="614.20" y="443.80" font-size="6.3" text-anchor="end" font-weight="normal" fill="#333" font-style="normal" >α3</text>
<text x="614.20" y="454.70" font-size="6.3" text-anchor="end" font-weight="normal" fill="#333" font-style="normal" >β4</text>
<line x1="657.30" y1="414.60" x2="657.30" y2="458.00" stroke="#3a3a3a" stroke-width="0.9" />
<polygon points="657.30,410.00 661.90,414.60 657.30,419.20 652.70,414.60" fill="#7a1e6e" stroke="#3a3a3a" stroke-width="0.4"/>
<circle cx="657.30" cy="426.50" r="3.85" fill="#e2da45" stroke="#3a3a3a" stroke-width="0.4"/>
<rect x="653.70" y="433.20" width="7.20" height="7.20" fill="#3263a8" stroke="#3a3a3a" stroke-width="0.4"/>
<circle cx="657.30" cy="447.80" r="3.85" fill="#e2da45" stroke="#3a3a3a" stroke-width="0.4"/>
<circle cx="657.30" cy="458.00" r="3.85" fill="#3263a8" stroke="#3a3a3a" stroke-width="0.4"/>
<text x="653.50" y="422.20" font-size="6.3" text-anchor="end" font-weight="normal" fill="#333" font-style="normal" >α6</text>
<text x="653.50" y="433.20" font-size="6.3" text-anchor="end" font-weight="normal" fill="#333" font-style="normal" >β4</text>
<text x="653.50" y="444.00" font-size="6.3" text-anchor="end" font-weight="normal" fill="#333" font-style="normal" >β3</text>
<text x="653.50" y="454.70" font-size="6.3" text-anchor="end" font-weight="normal" fill="#333" font-style="normal" >β4</text>
<text x="535.50" y="470.80" font-size="8.4" text-anchor="middle" font-weight="normal" fill="#c0333f" font-style="normal" >CA136</text>
<text x="576.50" y="470.80" font-size="8.4" text-anchor="middle" font-weight="normal" fill="#c0333f" font-style="normal" >CA151</text>
<text x="616.70" y="470.80" font-size="8.4" text-anchor="middle" font-weight="normal" fill="#c0333f" font-style="normal" >CA162</text>
<text x="656.40" y="470.80" font-size="8.4" text-anchor="middle" font-weight="normal" fill="#c0333f" font-style="normal" >CA153</text>
<text x="450.20" y="484.00" font-size="8.8" text-anchor="start" font-weight="normal" fill="#222" font-style="normal" >tetra-GRAB-Sia</text>
<text x="450.20" y="494.60" font-size="8.8" text-anchor="start" font-weight="normal" fill="#222" font-style="normal" >tetra-GRAB-Sia3</text>
<line x1="535.80" y1="480.70" x2="540.80" y2="480.70" stroke="#1e1e1e" stroke-width="1.0" />
<line x1="538.30" y1="478.20" x2="538.30" y2="483.20" stroke="#1e1e1e" stroke-width="1.0" />
<line x1="535.80" y1="491.30" x2="540.80" y2="491.30" stroke="#1e1e1e" stroke-width="1.0" />
<line x1="538.30" y1="488.80" x2="538.30" y2="493.80" stroke="#1e1e1e" stroke-width="1.0" />
<line x1="576.30" y1="480.70" x2="581.30" y2="480.70" stroke="#1e1e1e" stroke-width="1.0" />
<line x1="578.80" y1="478.20" x2="578.80" y2="483.20" stroke="#1e1e1e" stroke-width="1.0" />
<line x1="576.50" y1="491.50" x2="581.10" y2="491.50" stroke="#2a2a2a" stroke-width="1.0" />
<line x1="615.30" y1="480.70" x2="620.30" y2="480.70" stroke="#1e1e1e" stroke-width="1.0" />
<line x1="617.80" y1="478.20" x2="617.80" y2="483.20" stroke="#1e1e1e" stroke-width="1.0" />
<line x1="615.50" y1="491.50" x2="620.10" y2="491.50" stroke="#2a2a2a" stroke-width="1.0" />
<line x1="653.90" y1="480.70" x2="658.90" y2="480.70" stroke="#1e1e1e" stroke-width="1.0" />
<line x1="656.40" y1="478.20" x2="656.40" y2="483.20" stroke="#1e1e1e" stroke-width="1.0" />
<line x1="654.10" y1="491.50" x2="658.70" y2="491.50" stroke="#2a2a2a" stroke-width="1.0" />
<line x1="538.00" y1="556.20" x2="538.00" y2="578.80" stroke="#3a3a3a" stroke-width="0.9" />
<line x1="530.90" y1="547.00" x2="538.00" y2="556.20" stroke="#3a3a3a" stroke-width="0.9" />
<line x1="545.00" y1="547.00" x2="538.00" y2="556.20" stroke="#3a3a3a" stroke-width="0.9" />
<line x1="530.90" y1="513.90" x2="530.90" y2="547.00" stroke="#3a3a3a" stroke-width="0.9" />
<line x1="545.00" y1="513.90" x2="545.00" y2="547.00" stroke="#3a3a3a" stroke-width="0.9" />
<polygon points="530.90,509.30 535.50,513.90 530.90,518.50 526.30,513.90" fill="#7a1e6e" stroke="#3a3a3a" stroke-width="0.4"/>
<circle cx="530.90" cy="525.30" r="3.85" fill="#e2da45" stroke="#3a3a3a" stroke-width="0.4"/>
<rect x="527.30" y="532.20" width="7.20" height="7.20" fill="#3263a8" stroke="#3a3a3a" stroke-width="0.4"/>
<circle cx="530.90" cy="547.00" r="3.90" fill="#2f9463" stroke="#3a3a3a" stroke-width="0.4"/>
<polygon points="545.00,509.30 549.60,513.90 545.00,518.50 540.40,513.90" fill="#7a1e6e" stroke="#3a3a3a" stroke-width="0.4"/>
<circle cx="545.00" cy="525.30" r="3.85" fill="#e2da45" stroke="#3a3a3a" stroke-width="0.4"/>
<rect x="541.40" y="532.20" width="7.20" height="7.20" fill="#3263a8" stroke="#3a3a3a" stroke-width="0.4"/>
<circle cx="545.00" cy="547.00" r="3.90" fill="#2f9463" stroke="#3a3a3a" stroke-width="0.4"/>
<circle cx="538.00" cy="556.20" r="3.90" fill="#2f9463" stroke="#3a3a3a" stroke-width="0.4"/>
<rect x="534.40" y="563.80" width="7.20" height="7.20" fill="#3263a8" stroke="#3a3a3a" stroke-width="0.4"/>
<rect x="534.40" y="575.20" width="7.20" height="7.20" fill="#3263a8" stroke="#3a3a3a" stroke-width="0.4"/>
<text x="526.70" y="521.30" font-size="6.3" text-anchor="end" font-weight="normal" fill="#333" font-style="normal" >α3</text>
<text x="526.70" y="532.30" font-size="6.3" text-anchor="end" font-weight="normal" fill="#333" font-style="normal" >β4</text>
<text x="526.70" y="544.60" font-size="6.3" text-anchor="end" font-weight="normal" fill="#333" font-style="normal" >β2</text>
<text x="549.00" y="521.30" font-size="6.3" text-anchor="start" font-weight="normal" fill="#333" font-style="normal" >α3</text>
<text x="549.00" y="532.30" font-size="6.3" text-anchor="start" font-weight="normal" fill="#333" font-style="normal" >β4</text>
<text x="549.00" y="544.60" font-size="6.3" text-anchor="start" font-weight="normal" fill="#333" font-style="normal" >β2</text>
<text x="533.40" y="557.80" font-size="6.3" text-anchor="end" font-weight="normal" fill="#333" font-style="normal" >α3</text>
<text x="542.60" y="557.80" font-size="6.3" text-anchor="start" font-weight="normal" fill="#333" font-style="normal" >α6</text>
<text x="542.00" y="564.30" font-size="6.3" text-anchor="start" font-weight="normal" fill="#333" font-style="normal" >β4</text>
<text x="542.00" y="575.00" font-size="6.3" text-anchor="start" font-weight="normal" fill="#333" font-style="normal" >β4</text>
<line x1="594.30" y1="556.20" x2="594.30" y2="578.80" stroke="#3a3a3a" stroke-width="0.9" />
<line x1="587.10" y1="547.00" x2="594.30" y2="556.20" stroke="#3a3a3a" stroke-width="0.9" />
<line x1="601.50" y1="547.00" x2="594.30" y2="556.20" stroke="#3a3a3a" stroke-width="0.9" />
<line x1="587.10" y1="513.90" x2="587.10" y2="547.00" stroke="#3a3a3a" stroke-width="0.9" />
<line x1="601.50" y1="513.90" x2="601.50" y2="547.00" stroke="#3a3a3a" stroke-width="0.9" />
<polygon points="587.10,509.30 591.70,513.90 587.10,518.50 582.50,513.90" fill="#7a1e6e" stroke="#3a3a3a" stroke-width="0.4"/>
<circle cx="587.10" cy="525.30" r="3.85" fill="#e2da45" stroke="#3a3a3a" stroke-width="0.4"/>
<rect x="583.50" y="532.20" width="7.20" height="7.20" fill="#3263a8" stroke="#3a3a3a" stroke-width="0.4"/>
<circle cx="587.10" cy="547.00" r="3.90" fill="#2f9463" stroke="#3a3a3a" stroke-width="0.4"/>
<polygon points="601.50,509.30 606.10,513.90 601.50,518.50 596.90,513.90" fill="#7a1e6e" stroke="#3a3a3a" stroke-width="0.4"/>
<circle cx="601.50" cy="525.30" r="3.85" fill="#e2da45" stroke="#3a3a3a" stroke-width="0.4"/>
<rect x="597.90" y="532.20" width="7.20" height="7.20" fill="#3263a8" stroke="#3a3a3a" stroke-width="0.4"/>
<circle cx="601.50" cy="547.00" r="3.90" fill="#2f9463" stroke="#3a3a3a" stroke-width="0.4"/>
<circle cx="594.30" cy="556.20" r="3.90" fill="#2f9463" stroke="#3a3a3a" stroke-width="0.4"/>
<rect x="590.70" y="563.80" width="7.20" height="7.20" fill="#3263a8" stroke="#3a3a3a" stroke-width="0.4"/>
<rect x="590.70" y="575.20" width="7.20" height="7.20" fill="#3263a8" stroke="#3a3a3a" stroke-width="0.4"/>
<text x="582.90" y="521.30" font-size="6.3" text-anchor="end" font-weight="normal" fill="#333" font-style="normal" >α6</text>
<text x="582.90" y="532.30" font-size="6.3" text-anchor="end" font-weight="normal" fill="#333" font-style="normal" >β4</text>
<text x="582.90" y="544.60" font-size="6.3" text-anchor="end" font-weight="normal" fill="#333" font-style="normal" >β2</text>
<text x="605.50" y="521.30" font-size="6.3" text-anchor="start" font-weight="normal" fill="#333" font-style="normal" >α6</text>
<text x="605.50" y="532.30" font-size="6.3" text-anchor="start" font-weight="normal" fill="#333" font-style="normal" >β4</text>
<text x="605.50" y="544.60" font-size="6.3" text-anchor="start" font-weight="normal" fill="#333" font-style="normal" >β2</text>
<text x="589.70" y="557.80" font-size="6.3" text-anchor="end" font-weight="normal" fill="#333" font-style="normal" >α3</text>
<text x="598.90" y="557.80" font-size="6.3" text-anchor="start" font-weight="normal" fill="#333" font-style="normal" >α6</text>
<text x="598.30" y="564.30" font-size="6.3" text-anchor="start" font-weight="normal" fill="#333" font-style="normal" >β4</text>
<text x="598.30" y="575.00" font-size="6.3" text-anchor="start" font-weight="normal" fill="#333" font-style="normal" >β4</text>
<line x1="651.00" y1="556.20" x2="651.00" y2="578.80" stroke="#3a3a3a" stroke-width="0.9" />
<line x1="640.10" y1="547.00" x2="651.00" y2="556.20" stroke="#3a3a3a" stroke-width="0.9" />
<line x1="660.70" y1="547.40" x2="651.00" y2="556.20" stroke="#3a3a3a" stroke-width="0.9" />
<line x1="640.10" y1="513.90" x2="640.10" y2="547.00" stroke="#3a3a3a" stroke-width="0.9" />
<line x1="652.60" y1="538.20" x2="660.70" y2="547.40" stroke="#3a3a3a" stroke-width="0.9" />
<line x1="667.60" y1="538.20" x2="660.70" y2="547.40" stroke="#3a3a3a" stroke-width="0.9" />
<polygon points="640.10,509.30 644.70,513.90 640.10,518.50 635.50,513.90" fill="#7a1e6e" stroke="#3a3a3a" stroke-width="0.4"/>
<circle cx="640.10" cy="525.30" r="3.85" fill="#e2da45" stroke="#3a3a3a" stroke-width="0.4"/>
<rect x="636.50" y="532.20" width="7.20" height="7.20" fill="#3263a8" stroke="#3a3a3a" stroke-width="0.4"/>
<circle cx="640.10" cy="547.00" r="3.90" fill="#2f9463" stroke="#3a3a3a" stroke-width="0.4"/>
<circle cx="660.70" cy="547.40" r="3.90" fill="#2f9463" stroke="#3a3a3a" stroke-width="0.4"/>
<circle cx="652.60" cy="538.20" r="3.90" fill="#2f9463" stroke="#3a3a3a" stroke-width="0.4"/>
<circle cx="667.60" cy="538.20" r="3.90" fill="#2f9463" stroke="#3a3a3a" stroke-width="0.4"/>
<circle cx="651.00" cy="556.20" r="3.90" fill="#2f9463" stroke="#3a3a3a" stroke-width="0.4"/>
<rect x="647.40" y="563.80" width="7.20" height="7.20" fill="#3263a8" stroke="#3a3a3a" stroke-width="0.4"/>
<rect x="647.40" y="575.20" width="7.20" height="7.20" fill="#3263a8" stroke="#3a3a3a" stroke-width="0.4"/>
<text x="635.90" y="521.30" font-size="6.3" text-anchor="end" font-weight="normal" fill="#333" font-style="normal" >α6</text>
<text x="635.90" y="532.30" font-size="6.3" text-anchor="end" font-weight="normal" fill="#333" font-style="normal" >β4</text>
<text x="635.90" y="544.60" font-size="6.3" text-anchor="end" font-weight="normal" fill="#333" font-style="normal" >β2</text>
<text x="655.00" y="547.60" font-size="6.3" text-anchor="end" font-weight="normal" fill="#333" font-style="normal" >α3</text>
<text x="666.30" y="547.60" font-size="6.3" text-anchor="start" font-weight="normal" fill="#333" font-style="normal" >α6</text>
<text x="646.40" y="557.80" font-size="6.3" text-anchor="end" font-weight="normal" fill="#333" font-style="normal" >α3</text>
<text x="655.60" y="557.80" font-size="6.3" text-anchor="start" font-weight="normal" fill="#333" font-style="normal" >α6</text>
<text x="655.00" y="564.30" font-size="6.3" text-anchor="start" font-weight="normal" fill="#333" font-style="normal" >β4</text>
<text x="655.00" y="575.00" font-size="6.3" text-anchor="start" font-weight="normal" fill="#333" font-style="normal" >β4</text>
<text x="537.00" y="594.70" font-size="8.4" text-anchor="middle" font-weight="normal" fill="#c0333f" font-style="normal" >CA142</text>
<text x="594.30" y="594.70" font-size="8.4" text-anchor="middle" font-weight="normal" fill="#c0333f" font-style="normal" >CA155</text>
<text x="650.10" y="594.70" font-size="8.4" text-anchor="middle" font-weight="normal" fill="#c0333f" font-style="normal" >CA156</text>
<text x="450.20" y="607.40" font-size="8.8" text-anchor="start" font-weight="normal" fill="#222" font-style="normal" >tetra-GRAB-Sia</text>
<text x="450.20" y="618.30" font-size="8.8" text-anchor="start" font-weight="normal" fill="#222" font-style="normal" >tetra-GRAB-Sia3</text>
<line x1="535.70" y1="604.10" x2="540.70" y2="604.10" stroke="#1e1e1e" stroke-width="1.0" />
<line x1="538.20" y1="601.60" x2="538.20" y2="606.60" stroke="#1e1e1e" stroke-width="1.0" />
<line x1="535.70" y1="615.00" x2="540.70" y2="615.00" stroke="#1e1e1e" stroke-width="1.0" />
<line x1="538.20" y1="612.50" x2="538.20" y2="617.50" stroke="#1e1e1e" stroke-width="1.0" />
<line x1="592.30" y1="604.10" x2="597.30" y2="604.10" stroke="#1e1e1e" stroke-width="1.0" />
<line x1="594.80" y1="601.60" x2="594.80" y2="606.60" stroke="#1e1e1e" stroke-width="1.0" />
<line x1="592.50" y1="615.20" x2="597.10" y2="615.20" stroke="#2a2a2a" stroke-width="1.0" />
<line x1="649.00" y1="604.10" x2="654.00" y2="604.10" stroke="#1e1e1e" stroke-width="1.0" />
<line x1="651.50" y1="601.60" x2="651.50" y2="606.60" stroke="#1e1e1e" stroke-width="1.0" />
<line x1="649.20" y1="615.20" x2="653.80" y2="615.20" stroke="#2a2a2a" stroke-width="1.0" />
<line x1="547.50" y1="634.50" x2="547.50" y2="647.50" stroke="#3a3a3a" stroke-width="0.9" />
<line x1="547.50" y1="647.50" x2="553.70" y2="658.90" stroke="#3a3a3a" stroke-width="0.9" />
<line x1="553.70" y1="658.90" x2="553.70" y2="667.70" stroke="#3a3a3a" stroke-width="0.9" />
<polygon points="547.50,629.90 552.10,634.50 547.50,639.10 542.90,634.50" fill="#7a1e6e" stroke="#3a3a3a" stroke-width="0.4"/>
<circle cx="547.50" cy="647.50" r="3.85" fill="#e2da45" stroke="#3a3a3a" stroke-width="0.4"/>
<rect x="550.10" y="655.30" width="7.20" height="7.20" fill="#e2da45" stroke="#3a3a3a" stroke-width="0.4"/>
<text x="544.60" y="642.50" font-size="6.3" text-anchor="end" font-weight="normal" fill="#333" font-style="normal" >α3</text>
<text x="547.40" y="657.00" font-size="6.3" text-anchor="end" font-weight="normal" fill="#333" font-style="normal" >β3</text>
<text x="549.60" y="668.20" font-size="6.3" text-anchor="end" font-weight="normal" fill="#333" font-style="normal" >α</text>
<text x="553.70" y="673.00" font-size="6.4" text-anchor="middle" font-weight="normal" fill="#222" font-style="normal" >Ser</text>
<line x1="591.20" y1="634.20" x2="591.20" y2="647.00" stroke="#3a3a3a" stroke-width="0.9" />
<line x1="591.20" y1="647.00" x2="597.10" y2="658.20" stroke="#3a3a3a" stroke-width="0.9" />
<line x1="603.90" y1="647.30" x2="597.10" y2="658.20" stroke="#3a3a3a" stroke-width="0.9" />
<line x1="597.10" y1="658.20" x2="597.10" y2="667.40" stroke="#3a3a3a" stroke-width="0.9" />
<polygon points="591.20,629.60 595.80,634.20 591.20,638.80 586.60,634.20" fill="#7a1e6e" stroke="#3a3a3a" stroke-width="0.4"/>
<circle cx="591.20" cy="647.00" r="3.85" fill="#e2da45" stroke="#3a3a3a" stroke-width="0.4"/>
<polygon points="603.90,642.70 608.50,647.30 603.90,651.90 599.30,647.30" fill="#7a1e6e" stroke="#3a3a3a" stroke-width="0.4"/>
<rect x="593.50" y="654.60" width="7.20" height="7.20" fill="#e2da45" stroke="#3a3a3a" stroke-width="0.4"/>
<text x="588.30" y="642.30" font-size="6.3" text-anchor="end" font-weight="normal" fill="#333" font-style="normal" >α3</text>
<text x="590.80" y="657.00" font-size="6.3" text-anchor="end" font-weight="normal" fill="#333" font-style="normal" >β3</text>
<text x="604.00" y="657.20" font-size="6.3" text-anchor="start" font-weight="normal" fill="#333" font-style="normal" >α6</text>
<text x="593.00" y="668.00" font-size="6.3" text-anchor="end" font-weight="normal" fill="#333" font-style="normal" >α</text>
<text x="597.10" y="672.80" font-size="6.4" text-anchor="middle" font-weight="normal" fill="#222" font-style="normal" >Ser</text>
<line x1="649.50" y1="647.60" x2="642.10" y2="658.60" stroke="#3a3a3a" stroke-width="0.9" />
<line x1="642.10" y1="658.60" x2="642.10" y2="667.60" stroke="#3a3a3a" stroke-width="0.9" />
<polygon points="649.50,643.00 654.10,647.60 649.50,652.20 644.90,647.60" fill="#7a1e6e" stroke="#3a3a3a" stroke-width="0.4"/>
<rect x="638.50" y="655.00" width="7.20" height="7.20" fill="#e2da45" stroke="#3a3a3a" stroke-width="0.4"/>
<text x="650.40" y="657.40" font-size="6.3" text-anchor="start" font-weight="normal" fill="#333" font-style="normal" >α6</text>
<text x="638.00" y="668.00" font-size="6.3" text-anchor="end" font-weight="normal" fill="#333" font-style="normal" >α</text>
<text x="642.10" y="672.80" font-size="6.4" text-anchor="middle" font-weight="normal" fill="#222" font-style="normal" >Thr</text>
<text x="552.40" y="684.20" font-size="8.4" text-anchor="middle" font-weight="normal" fill="#c0333f" font-style="normal" >CA149</text>
<text x="597.70" y="684.20" font-size="8.4" text-anchor="middle" font-weight="normal" fill="#c0333f" font-style="normal" >CA150</text>
<text x="640.80" y="684.20" font-size="8.4" text-anchor="middle" font-weight="normal" fill="#c0333f" font-style="normal" >CA159</text>
<text x="450.20" y="695.30" font-size="8.8" text-anchor="start" font-weight="normal" fill="#222" font-style="normal" >tetra-GRAB-Sia</text>
<text x="450.20" y="706.50" font-size="8.8" text-anchor="start" font-weight="normal" fill="#222" font-style="normal" >tetra-GRAB-Sia3</text>
<line x1="551.10" y1="692.00" x2="556.10" y2="692.00" stroke="#1e1e1e" stroke-width="1.0" />
<line x1="553.60" y1="689.50" x2="553.60" y2="694.50" stroke="#1e1e1e" stroke-width="1.0" />
<line x1="551.10" y1="703.20" x2="556.10" y2="703.20" stroke="#1e1e1e" stroke-width="1.0" />
<line x1="553.60" y1="700.70" x2="553.60" y2="705.70" stroke="#1e1e1e" stroke-width="1.0" />
<line x1="596.50" y1="692.00" x2="601.50" y2="692.00" stroke="#1e1e1e" stroke-width="1.0" />
<line x1="599.00" y1="689.50" x2="599.00" y2="694.50" stroke="#1e1e1e" stroke-width="1.0" />
<line x1="596.50" y1="703.20" x2="601.50" y2="703.20" stroke="#1e1e1e" stroke-width="1.0" />
<line x1="599.00" y1="700.70" x2="599.00" y2="705.70" stroke="#1e1e1e" stroke-width="1.0" />
<line x1="639.90" y1="692.00" x2="644.90" y2="692.00" stroke="#1e1e1e" stroke-width="1.0" />
<line x1="642.40" y1="689.50" x2="642.40" y2="694.50" stroke="#1e1e1e" stroke-width="1.0" />
<line x1="640.10" y1="703.40" x2="644.70" y2="703.40" stroke="#2a2a2a" stroke-width="1.0" />
<circle cx="462.80" cy="726.00" r="3.90" fill="#e2da45" stroke="#3a3a3a" stroke-width="0.4"/>
<text x="470.20" y="729.00" font-size="9.0" text-anchor="start" font-weight="normal" fill="#222" font-style="normal" >Galactose</text>
<circle cx="521.20" cy="726.00" r="3.90" fill="#3263a8" stroke="#3a3a3a" stroke-width="0.4"/>
<text x="527.90" y="729.00" font-size="9.0" text-anchor="start" font-weight="normal" fill="#222" font-style="normal" >Glucose</text>
<circle cx="572.20" cy="726.00" r="3.90" fill="#2f9463" stroke="#3a3a3a" stroke-width="0.4"/>
<text x="580.80" y="729.00" font-size="9.0" text-anchor="start" font-weight="normal" fill="#222" font-style="normal" >Mannose</text>
<polygon points="629.20,721.60 633.60,726.00 629.20,730.40 624.80,726.00" fill="#7a1e6e" stroke="#3a3a3a" stroke-width="0.4"/>
<text x="636.60" y="729.00" font-size="9.0" text-anchor="start" font-weight="normal" fill="#222" font-style="normal" >Neu5Ac</text>
<rect x="459.20" y="735.50" width="7.20" height="7.20" fill="#e2da45" stroke="#3a3a3a" stroke-width="0.4"/>
<text x="470.20" y="742.10" font-size="9.0" text-anchor="start" font-weight="normal" fill="#222" font-style="normal" >GalNAc</text>
<rect x="517.60" y="735.50" width="7.20" height="7.20" fill="#3263a8" stroke="#3a3a3a" stroke-width="0.4"/>
<text x="527.90" y="742.10" font-size="9.0" text-anchor="start" font-weight="normal" fill="#222" font-style="normal" >GlcNAc</text>
<polygon points="572.20,734.90 576.60,742.50 567.80,742.50" fill="#e3262d" stroke="#3a3a3a" stroke-width="0.3"/>
<text x="580.80" y="742.10" font-size="9.0" text-anchor="start" font-weight="normal" fill="#222" font-style="normal" >Fucose</text>
</svg></body></html>
